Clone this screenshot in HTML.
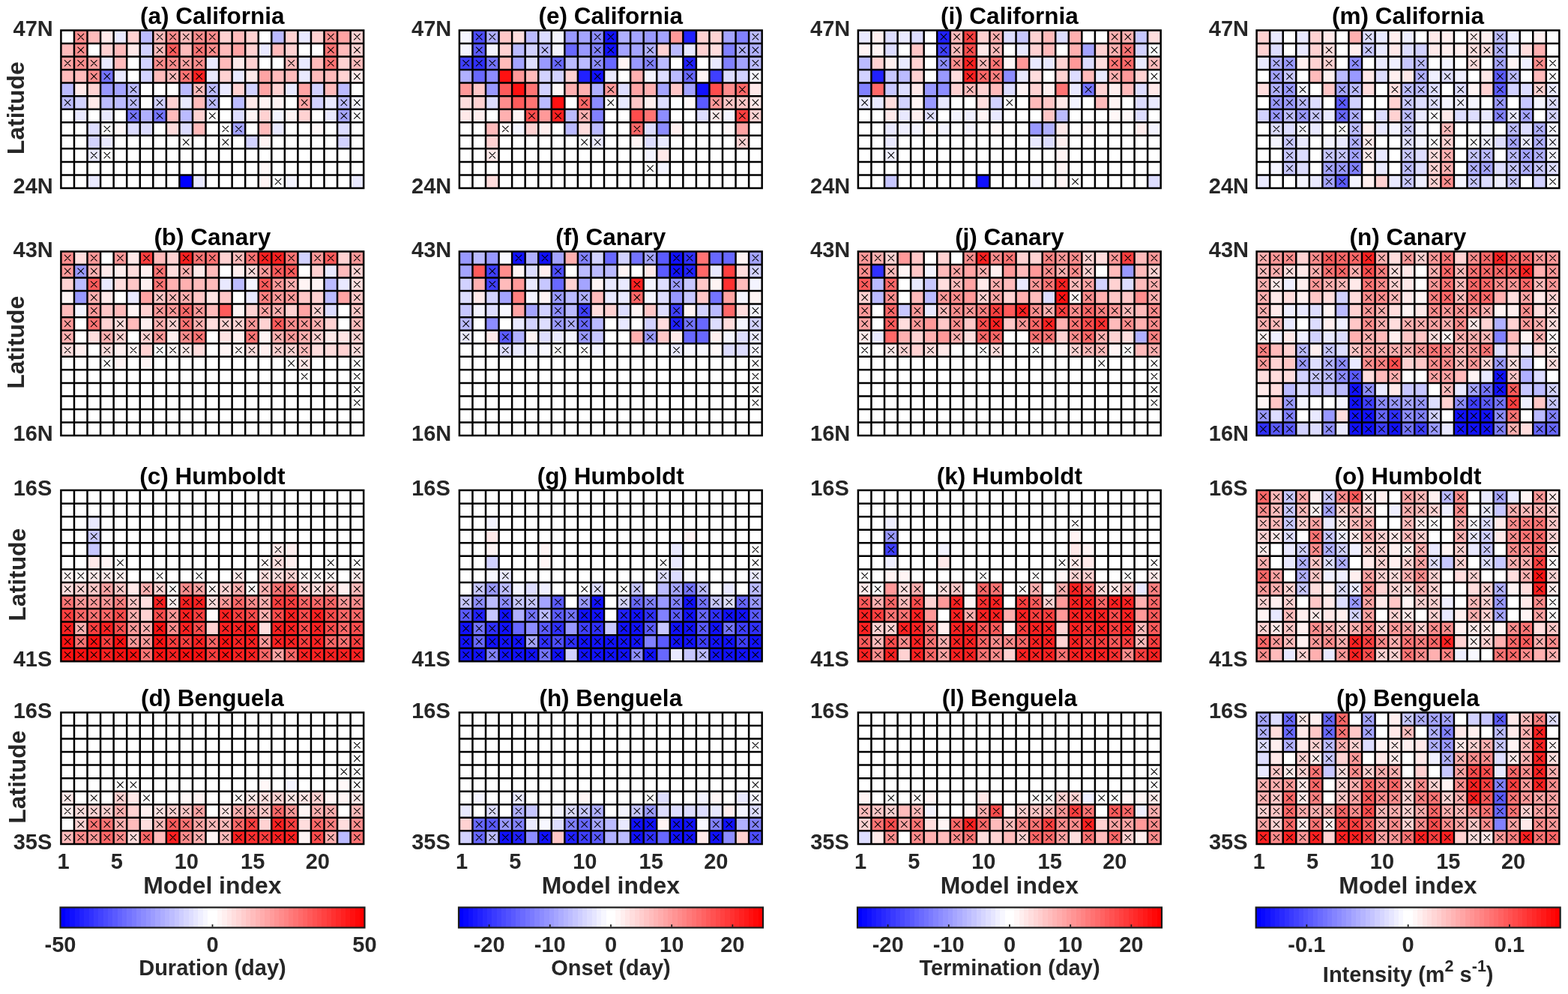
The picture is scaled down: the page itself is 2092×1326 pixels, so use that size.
<!DOCTYPE html><html><head><meta charset="utf-8"><title>Figure</title>
<style>html,body{margin:0;padding:0;background:#fff;}svg{display:block;}text{font-family:'Liberation Sans', Arial, Helvetica, sans-serif;font-weight:bold;}</style></head><body>
<svg width="2092" height="1326" viewBox="0 0 2092 1326">
<rect width="2092" height="1326" fill="#fff"/>
<path fill="#ff8d8d" d="M98.96 40.4h17.86v17.85h-17.86zM221.84 40.4h17.86v17.85h-17.86zM256.95 40.4h17.86v17.85h-17.86zM274.5 40.4h17.86v17.85h-17.86zM432.5 40.4h17.86v17.85h-17.86zM98.96 57.95h17.86v17.85h-17.86zM274.5 57.95h17.86v17.85h-17.86zM98.96 75.5h17.86v17.85h-17.86zM204.28 75.5h17.86v17.85h-17.86zM221.84 75.5h17.86v17.85h-17.86zM256.95 75.5h17.86v17.85h-17.86zM116.51 93.05h17.86v17.85h-17.86z"/><path fill="#ffbbbb" d="M116.51 40.4h17.86v17.85h-17.86zM204.28 40.4h17.86v17.85h-17.86zM239.4 40.4h17.86v17.85h-17.86zM309.62 40.4h17.86v17.85h-17.86zM81.4 57.95h17.86v17.85h-17.86zM151.62 57.95h17.86v17.85h-17.86zM204.28 57.95h17.86v17.85h-17.86zM239.4 57.95h17.86v17.85h-17.86zM292.06 57.95h17.86v17.85h-17.86zM362.28 57.95h17.86v17.85h-17.86zM450.05 57.95h17.86v17.85h-17.86zM151.62 75.5h17.86v17.85h-17.86zM292.06 75.5h17.86v17.85h-17.86zM379.84 75.5h17.86v17.85h-17.86zM414.95 75.5h17.86v17.85h-17.86zM467.61 75.5h17.86v17.85h-17.86zM81.4 93.05h17.86v17.85h-17.86zM98.96 93.05h17.86v17.85h-17.86zM204.28 93.05h17.86v17.85h-17.86zM221.84 93.05h17.86v17.85h-17.86zM362.28 93.05h17.86v17.85h-17.86zM379.84 93.05h17.86v17.85h-17.86zM414.95 93.05h17.86v17.85h-17.86zM432.5 93.05h17.86v17.85h-17.86zM256.95 110.6h17.86v17.85h-17.86zM432.5 110.6h17.86v17.85h-17.86zM256.95 128.15h17.86v17.85h-17.86zM221.84 145.7h17.86v17.85h-17.86zM256.95 163.25h17.86v17.85h-17.86zM344.73 163.25h17.86v17.85h-17.86z"/><path fill="#ffe9e9" d="M134.06 40.4h17.86v17.85h-17.86zM169.18 57.95h17.86v17.85h-17.86zM309.62 75.5h17.86v17.85h-17.86zM327.17 93.05h17.86v17.85h-17.86zM467.61 93.05h17.86v17.85h-17.86zM98.96 110.6h17.86v17.85h-17.86zM116.51 128.15h17.86v17.85h-17.86zM327.17 128.15h17.86v17.85h-17.86z"/><path fill="#e9e9ff" d="M151.62 40.4h17.86v17.85h-17.86zM397.39 40.4h17.86v17.85h-17.86zM344.73 57.95h17.86v17.85h-17.86zM134.06 75.5h17.86v17.85h-17.86zM274.5 75.5h17.86v17.85h-17.86zM397.39 75.5h17.86v17.85h-17.86zM151.62 93.05h17.86v17.85h-17.86zM274.5 93.05h17.86v17.85h-17.86zM309.62 93.05h17.86v17.85h-17.86zM397.39 93.05h17.86v17.85h-17.86zM292.06 110.6h17.86v17.85h-17.86zM379.84 110.6h17.86v17.85h-17.86zM239.4 128.15h17.86v17.85h-17.86zM432.5 128.15h17.86v17.85h-17.86zM98.96 145.7h17.86v17.85h-17.86zM134.06 145.7h17.86v17.85h-17.86zM432.5 145.7h17.86v17.85h-17.86zM362.28 163.25h17.86v17.85h-17.86zM134.06 180.8h17.86v17.85h-17.86zM116.51 198.35h17.86v17.85h-17.86zM116.51 233.45h17.86v17.85h-17.86zM256.95 233.45h17.86v17.85h-17.86zM467.61 233.45h17.86v17.85h-17.86z"/><path fill="#ffd2d2" d="M169.18 40.4h17.86v17.85h-17.86zM292.06 40.4h17.86v17.85h-17.86zM327.17 40.4h17.86v17.85h-17.86zM379.84 40.4h17.86v17.85h-17.86zM414.95 40.4h17.86v17.85h-17.86zM467.61 40.4h17.86v17.85h-17.86zM134.06 57.95h17.86v17.85h-17.86zM327.17 57.95h17.86v17.85h-17.86zM379.84 57.95h17.86v17.85h-17.86zM467.61 57.95h17.86v17.85h-17.86zM327.17 75.5h17.86v17.85h-17.86zM450.05 75.5h17.86v17.85h-17.86zM292.06 93.05h17.86v17.85h-17.86zM450.05 93.05h17.86v17.85h-17.86zM116.51 110.6h17.86v17.85h-17.86zM309.62 110.6h17.86v17.85h-17.86zM362.28 110.6h17.86v17.85h-17.86zM221.84 128.15h17.86v17.85h-17.86zM256.95 145.7h17.86v17.85h-17.86zM344.73 145.7h17.86v17.85h-17.86zM397.39 145.7h17.86v17.85h-17.86z"/><path fill="#bbbbff" d="M186.73 40.4h17.86v17.85h-17.86zM362.28 40.4h17.86v17.85h-17.86zM81.4 110.6h17.86v17.85h-17.86zM169.18 110.6h17.86v17.85h-17.86zM239.4 110.6h17.86v17.85h-17.86zM274.5 110.6h17.86v17.85h-17.86zM450.05 110.6h17.86v17.85h-17.86zM81.4 128.15h17.86v17.85h-17.86zM134.06 128.15h17.86v17.85h-17.86zM151.62 128.15h17.86v17.85h-17.86zM169.18 128.15h17.86v17.85h-17.86zM274.5 128.15h17.86v17.85h-17.86zM309.62 128.15h17.86v17.85h-17.86zM450.05 128.15h17.86v17.85h-17.86zM239.4 145.7h17.86v17.85h-17.86z"/><path fill="#ffa4a4" d="M450.05 40.4h17.86v17.85h-17.86zM309.62 57.95h17.86v17.85h-17.86zM81.4 75.5h17.86v17.85h-17.86zM116.51 75.5h17.86v17.85h-17.86zM239.4 75.5h17.86v17.85h-17.86zM344.73 93.05h17.86v17.85h-17.86zM344.73 110.6h17.86v17.85h-17.86zM397.39 110.6h17.86v17.85h-17.86zM397.39 128.15h17.86v17.85h-17.86z"/><path fill="#d2d2ff" d="M186.73 57.95h17.86v17.85h-17.86zM186.73 75.5h17.86v17.85h-17.86zM186.73 93.05h17.86v17.85h-17.86zM327.17 110.6h17.86v17.85h-17.86zM414.95 110.6h17.86v17.85h-17.86zM98.96 128.15h17.86v17.85h-17.86zM204.28 128.15h17.86v17.85h-17.86zM414.95 128.15h17.86v17.85h-17.86zM116.51 180.8h17.86v17.85h-17.86zM327.17 180.8h17.86v17.85h-17.86zM450.05 180.8h17.86v17.85h-17.86z"/><path fill="#ff5b5b" d="M221.84 57.95h17.86v17.85h-17.86z"/><path fill="#ff7474" d="M256.95 57.95h17.86v17.85h-17.86zM432.5 57.95h17.86v17.85h-17.86zM432.5 75.5h17.86v17.85h-17.86zM239.4 93.05h17.86v17.85h-17.86z"/><path fill="#7474ff" d="M134.06 93.05h17.86v17.85h-17.86zM169.18 145.7h17.86v17.85h-17.86zM204.28 145.7h17.86v17.85h-17.86z"/><path fill="#ff2121" d="M256.95 93.05h17.86v17.85h-17.86z"/><path fill="#9999ff" d="M134.06 110.6h17.86v17.85h-17.86z"/><path fill="#a4a4ff" d="M151.62 110.6h17.86v17.85h-17.86zM450.05 145.7h17.86v17.85h-17.86zM309.62 163.25h17.86v17.85h-17.86z"/><path fill="#fff4f4" d="M344.73 128.15h17.86v17.85h-17.86zM362.28 128.15h17.86v17.85h-17.86zM327.17 145.7h17.86v17.85h-17.86zM379.84 145.7h17.86v17.85h-17.86zM344.73 180.8h17.86v17.85h-17.86zM344.73 233.45h17.86v17.85h-17.86z"/><path fill="#f4f4ff" d="M467.61 128.15h17.86v17.85h-17.86zM362.28 145.7h17.86v17.85h-17.86zM379.84 233.45h17.86v17.85h-17.86z"/><path fill="#b0b0ff" d="M186.73 145.7h17.86v17.85h-17.86z"/><path fill="#ddddff" d="M309.62 145.7h17.86v17.85h-17.86zM116.51 163.25h17.86v17.85h-17.86zM169.18 163.25h17.86v17.85h-17.86zM186.73 163.25h17.86v17.85h-17.86zM239.4 163.25h17.86v17.85h-17.86zM450.05 163.25h17.86v17.85h-17.86z"/><path fill="#fff8f8" d="M151.62 163.25h17.86v17.85h-17.86zM414.95 163.25h17.86v17.85h-17.86zM344.73 215.9h17.86v17.85h-17.86z"/><path fill="#ffdddd" d="M221.84 163.25h17.86v17.85h-17.86z"/><path fill="#0000ff" d="M239.4 233.45h17.86v17.85h-17.86z"/>
<path d="M103.53 44.97L111.93 53.38M103.53 53.38L111.93 44.97M208.86 44.97L217.26 53.38M208.86 53.38L217.26 44.97M226.42 44.97L234.82 53.38M226.42 53.38L234.82 44.97M243.97 44.97L252.37 53.38M243.97 53.38L252.37 44.97M261.53 44.97L269.93 53.38M261.53 53.38L269.93 44.97M279.08 44.97L287.48 53.38M279.08 53.38L287.48 44.97M437.08 44.97L445.48 53.38M437.08 53.38L445.48 44.97M472.19 44.97L480.59 53.38M472.19 53.38L480.59 44.97M103.53 62.53L111.93 70.93M103.53 70.93L111.93 62.53M208.86 62.53L217.26 70.93M208.86 70.93L217.26 62.53M226.42 62.53L234.82 70.93M226.42 70.93L234.82 62.53M261.53 62.53L269.93 70.93M261.53 70.93L269.93 62.53M279.08 62.53L287.48 70.93M279.08 70.93L287.48 62.53M437.08 62.53L445.48 70.93M437.08 70.93L445.48 62.53M472.19 62.53L480.59 70.93M472.19 70.93L480.59 62.53M85.98 80.08L94.38 88.48M85.98 88.48L94.38 80.08M103.53 80.08L111.93 88.48M103.53 88.48L111.93 80.08M121.09 80.08L129.49 88.48M121.09 88.48L129.49 80.08M208.86 80.08L217.26 88.48M208.86 88.48L217.26 80.08M226.42 80.08L234.82 88.48M226.42 88.48L234.82 80.08M243.97 80.08L252.37 88.48M243.97 88.48L252.37 80.08M261.53 80.08L269.93 88.48M261.53 88.48L269.93 80.08M384.41 80.08L392.81 88.48M384.41 88.48L392.81 80.08M437.08 80.08L445.48 88.48M437.08 88.48L445.48 80.08M472.19 80.08L480.59 88.48M472.19 88.48L480.59 80.08M121.09 97.63L129.49 106.03M121.09 106.03L129.49 97.63M138.64 97.63L147.04 106.03M138.64 106.03L147.04 97.63M226.42 97.63L234.82 106.03M226.42 106.03L234.82 97.63M243.97 97.63L252.37 106.03M243.97 106.03L252.37 97.63M261.53 97.63L269.93 106.03M261.53 106.03L269.93 97.63M472.19 97.63L480.59 106.03M472.19 106.03L480.59 97.63M173.75 115.17L182.15 123.58M173.75 123.58L182.15 115.17M261.53 115.17L269.93 123.58M261.53 123.58L269.93 115.17M279.08 115.17L287.48 123.58M279.08 123.58L287.48 115.17M85.98 132.73L94.38 141.12M85.98 141.12L94.38 132.73M173.75 132.73L182.15 141.12M173.75 141.12L182.15 132.73M208.86 132.73L217.26 141.12M208.86 141.12L217.26 132.73M279.08 132.73L287.48 141.12M279.08 141.12L287.48 132.73M401.97 132.73L410.37 141.12M401.97 141.12L410.37 132.73M454.63 132.73L463.03 141.12M454.63 141.12L463.03 132.73M472.19 132.73L480.59 141.12M472.19 141.12L480.59 132.73M173.75 150.28L182.15 158.68M173.75 158.68L182.15 150.28M208.86 150.28L217.26 158.68M208.86 158.68L217.26 150.28M279.08 150.28L287.48 158.68M279.08 158.68L287.48 150.28M454.63 150.28L463.03 158.68M454.63 158.68L463.03 150.28M472.19 150.28L480.59 158.68M472.19 158.68L480.59 150.28M138.64 167.83L147.04 176.22M138.64 176.22L147.04 167.83M296.64 167.83L305.04 176.22M296.64 176.22L305.04 167.83M314.19 167.83L322.59 176.22M314.19 176.22L322.59 167.83M243.97 185.38L252.37 193.78M243.97 193.78L252.37 185.38M296.64 185.38L305.04 193.78M296.64 193.78L305.04 185.38M121.09 202.93L129.49 211.33M121.09 211.33L129.49 202.93M138.64 202.93L147.04 211.33M138.64 211.33L147.04 202.93M366.86 238.03L375.26 246.43M366.86 246.43L375.26 238.03" stroke="#000" stroke-width="1.05" fill="none"/>
<path d="M81.4 39.15V252.25M98.96 39.15V252.25M116.51 39.15V252.25M134.06 39.15V252.25M151.62 39.15V252.25M169.18 39.15V252.25M186.73 39.15V252.25M204.28 39.15V252.25M221.84 39.15V252.25M239.4 39.15V252.25M256.95 39.15V252.25M274.5 39.15V252.25M292.06 39.15V252.25M309.62 39.15V252.25M327.17 39.15V252.25M344.73 39.15V252.25M362.28 39.15V252.25M379.84 39.15V252.25M397.39 39.15V252.25M414.95 39.15V252.25M432.5 39.15V252.25M450.05 39.15V252.25M467.61 39.15V252.25M485.16 39.15V252.25M80.15 40.4H486.41M80.15 57.95H486.41M80.15 75.5H486.41M80.15 93.05H486.41M80.15 110.6H486.41M80.15 128.15H486.41M80.15 145.7H486.41M80.15 163.25H486.41M80.15 180.8H486.41M80.15 198.35H486.41M80.15 215.9H486.41M80.15 233.45H486.41M80.15 251H486.41" stroke="#000" stroke-width="2.5" fill="none"/>
<text x="283.28" y="31.9" text-anchor="middle" font-size="31.5" fill="#000">(a) California</text>
<text x="70.8" y="47.6" text-anchor="end" font-size="29" fill="#262626">47N</text>
<text x="70.8" y="258.2" text-anchor="end" font-size="29" fill="#262626">24N</text>
<text x="0" y="0" transform="translate(32.3 144.2) rotate(-90)" text-anchor="middle" font-size="31.9" fill="#262626">Latitude</text>
<path fill="#ff8d8d" d="M81.4 335.4h17.86v17.85h-17.86zM379.84 423.15h17.86v17.85h-17.86zM239.4 440.7h17.86v17.85h-17.86z"/><path fill="#ffdddd" d="M98.96 335.4h17.86v17.85h-17.86zM169.18 352.95h17.86v17.85h-17.86zM221.84 352.95h17.86v17.85h-17.86zM327.17 352.95h17.86v17.85h-17.86zM151.62 370.5h17.86v17.85h-17.86zM467.61 370.5h17.86v17.85h-17.86zM151.62 423.15h17.86v17.85h-17.86zM274.5 423.15h17.86v17.85h-17.86zM116.51 440.7h17.86v17.85h-17.86zM81.4 458.25h17.86v17.85h-17.86zM134.06 458.25h17.86v17.85h-17.86zM256.95 458.25h17.86v17.85h-17.86zM327.17 458.25h17.86v17.85h-17.86zM414.95 458.25h17.86v17.85h-17.86zM432.5 458.25h17.86v17.85h-17.86zM467.61 458.25h17.86v17.85h-17.86z"/><path fill="#ff9999" d="M116.51 335.4h17.86v17.85h-17.86zM151.62 335.4h17.86v17.85h-17.86zM414.95 335.4h17.86v17.85h-17.86zM467.61 335.4h17.86v17.85h-17.86zM81.4 352.95h17.86v17.85h-17.86zM344.73 352.95h17.86v17.85h-17.86zM362.28 370.5h17.86v17.85h-17.86zM362.28 388.05h17.86v17.85h-17.86zM379.84 388.05h17.86v17.85h-17.86zM116.51 405.6h17.86v17.85h-17.86zM204.28 405.6h17.86v17.85h-17.86zM221.84 405.6h17.86v17.85h-17.86zM256.95 405.6h17.86v17.85h-17.86zM81.4 423.15h17.86v17.85h-17.86zM327.17 423.15h17.86v17.85h-17.86zM397.39 423.15h17.86v17.85h-17.86zM204.28 440.7h17.86v17.85h-17.86zM379.84 440.7h17.86v17.85h-17.86z"/><path fill="#ffe9e9" d="M169.18 335.4h17.86v17.85h-17.86zM134.06 352.95h17.86v17.85h-17.86zM256.95 352.95h17.86v17.85h-17.86zM134.06 388.05h17.86v17.85h-17.86zM432.5 440.7h17.86v17.85h-17.86zM239.4 458.25h17.86v17.85h-17.86z"/><path fill="#ff3f3f" d="M186.73 335.4h17.86v17.85h-17.86z"/><path fill="#ffbbbb" d="M204.28 335.4h17.86v17.85h-17.86zM309.62 335.4h17.86v17.85h-17.86zM274.5 352.95h17.86v17.85h-17.86zM450.05 352.95h17.86v17.85h-17.86zM256.95 370.5h17.86v17.85h-17.86zM274.5 370.5h17.86v17.85h-17.86zM221.84 388.05h17.86v17.85h-17.86zM81.4 405.6h17.86v17.85h-17.86zM151.62 405.6h17.86v17.85h-17.86zM274.5 405.6h17.86v17.85h-17.86zM169.18 423.15h17.86v17.85h-17.86zM467.61 423.15h17.86v17.85h-17.86zM397.39 458.25h17.86v17.85h-17.86z"/><path fill="#ffd2d2" d="M221.84 335.4h17.86v17.85h-17.86zM292.06 335.4h17.86v17.85h-17.86zM450.05 335.4h17.86v17.85h-17.86zM414.95 352.95h17.86v17.85h-17.86zM467.61 352.95h17.86v17.85h-17.86zM81.4 370.5h17.86v17.85h-17.86zM414.95 388.05h17.86v17.85h-17.86zM186.73 405.6h17.86v17.85h-17.86zM327.17 405.6h17.86v17.85h-17.86zM379.84 405.6h17.86v17.85h-17.86zM414.95 405.6h17.86v17.85h-17.86zM134.06 423.15h17.86v17.85h-17.86zM221.84 423.15h17.86v17.85h-17.86zM292.06 423.15h17.86v17.85h-17.86zM309.62 423.15h17.86v17.85h-17.86zM344.73 423.15h17.86v17.85h-17.86zM432.5 423.15h17.86v17.85h-17.86zM151.62 440.7h17.86v17.85h-17.86zM186.73 440.7h17.86v17.85h-17.86zM414.95 440.7h17.86v17.85h-17.86zM467.61 440.7h17.86v17.85h-17.86zM186.73 458.25h17.86v17.85h-17.86zM362.28 458.25h17.86v17.85h-17.86zM379.84 458.25h17.86v17.85h-17.86zM450.05 458.25h17.86v17.85h-17.86z"/><path fill="#ff2121" d="M239.4 335.4h17.86v17.85h-17.86zM344.73 335.4h17.86v17.85h-17.86zM362.28 335.4h17.86v17.85h-17.86z"/><path fill="#ff7474" d="M256.95 335.4h17.86v17.85h-17.86zM274.5 335.4h17.86v17.85h-17.86zM327.17 335.4h17.86v17.85h-17.86zM379.84 335.4h17.86v17.85h-17.86zM204.28 352.95h17.86v17.85h-17.86zM204.28 370.5h17.86v17.85h-17.86zM116.51 423.15h17.86v17.85h-17.86zM239.4 423.15h17.86v17.85h-17.86zM256.95 440.7h17.86v17.85h-17.86zM327.17 440.7h17.86v17.85h-17.86z"/><path fill="#d2d2ff" d="M397.39 335.4h17.86v17.85h-17.86z"/><path fill="#ff5b5b" d="M432.5 335.4h17.86v17.85h-17.86zM362.28 352.95h17.86v17.85h-17.86zM379.84 352.95h17.86v17.85h-17.86zM116.51 370.5h17.86v17.85h-17.86zM344.73 370.5h17.86v17.85h-17.86zM292.06 405.6h17.86v17.85h-17.86zM362.28 423.15h17.86v17.85h-17.86z"/><path fill="#9999ff" d="M98.96 352.95h17.86v17.85h-17.86zM98.96 388.05h17.86v17.85h-17.86z"/><path fill="#ffb0b0" d="M116.51 352.95h17.86v17.85h-17.86zM239.4 352.95h17.86v17.85h-17.86zM221.84 370.5h17.86v17.85h-17.86zM239.4 370.5h17.86v17.85h-17.86zM379.84 370.5h17.86v17.85h-17.86zM116.51 388.05h17.86v17.85h-17.86zM239.4 388.05h17.86v17.85h-17.86zM362.28 405.6h17.86v17.85h-17.86zM204.28 423.15h17.86v17.85h-17.86zM256.95 423.15h17.86v17.85h-17.86zM414.95 423.15h17.86v17.85h-17.86zM81.4 440.7h17.86v17.85h-17.86zM134.06 440.7h17.86v17.85h-17.86zM362.28 440.7h17.86v17.85h-17.86zM397.39 440.7h17.86v17.85h-17.86z"/><path fill="#ffefef" d="M151.62 352.95h17.86v17.85h-17.86zM186.73 352.95h17.86v17.85h-17.86zM309.62 352.95h17.86v17.85h-17.86zM186.73 370.5h17.86v17.85h-17.86zM186.73 423.15h17.86v17.85h-17.86zM221.84 440.7h17.86v17.85h-17.86zM309.62 440.7h17.86v17.85h-17.86zM98.96 458.25h17.86v17.85h-17.86zM151.62 458.25h17.86v17.85h-17.86zM344.73 458.25h17.86v17.85h-17.86z"/><path fill="#e9e9ff" d="M432.5 352.95h17.86v17.85h-17.86zM134.06 370.5h17.86v17.85h-17.86zM292.06 370.5h17.86v17.85h-17.86zM450.05 370.5h17.86v17.85h-17.86zM169.18 388.05h17.86v17.85h-17.86zM327.17 388.05h17.86v17.85h-17.86z"/><path fill="#bbbbff" d="M98.96 370.5h17.86v17.85h-17.86zM309.62 370.5h17.86v17.85h-17.86zM432.5 370.5h17.86v17.85h-17.86zM432.5 388.05h17.86v17.85h-17.86z"/><path fill="#ffc7c7" d="M169.18 370.5h17.86v17.85h-17.86zM204.28 388.05h17.86v17.85h-17.86zM256.95 388.05h17.86v17.85h-17.86zM292.06 388.05h17.86v17.85h-17.86zM397.39 388.05h17.86v17.85h-17.86zM467.61 388.05h17.86v17.85h-17.86zM134.06 405.6h17.86v17.85h-17.86zM467.61 405.6h17.86v17.85h-17.86z"/><path fill="#f4f4ff" d="M327.17 370.5h17.86v17.85h-17.86zM98.96 405.6h17.86v17.85h-17.86z"/><path fill="#fff4f4" d="M397.39 370.5h17.86v17.85h-17.86zM414.95 370.5h17.86v17.85h-17.86zM81.4 388.05h17.86v17.85h-17.86zM169.18 405.6h17.86v17.85h-17.86zM309.62 405.6h17.86v17.85h-17.86zM344.73 440.7h17.86v17.85h-17.86zM169.18 458.25h17.86v17.85h-17.86zM221.84 458.25h17.86v17.85h-17.86zM292.06 458.25h17.86v17.85h-17.86zM309.62 458.25h17.86v17.85h-17.86zM151.62 475.8h17.86v17.85h-17.86zM186.73 475.8h17.86v17.85h-17.86z"/><path fill="#ffa4a4" d="M186.73 388.05h17.86v17.85h-17.86zM450.05 388.05h17.86v17.85h-17.86zM344.73 405.6h17.86v17.85h-17.86zM397.39 405.6h17.86v17.85h-17.86z"/><path fill="#ffe4e4" d="M274.5 388.05h17.86v17.85h-17.86zM292.06 440.7h17.86v17.85h-17.86zM450.05 440.7h17.86v17.85h-17.86zM397.39 475.8h17.86v17.85h-17.86z"/><path fill="#ff8181" d="M344.73 388.05h17.86v17.85h-17.86z"/><path fill="#ff6868" d="M239.4 405.6h17.86v17.85h-17.86z"/><path fill="#ddddff" d="M432.5 405.6h17.86v17.85h-17.86z"/>
<path d="M85.98 339.97L94.38 348.37M85.98 348.37L94.38 339.97M121.09 339.97L129.49 348.37M121.09 348.37L129.49 339.97M156.2 339.97L164.6 348.37M156.2 348.37L164.6 339.97M191.31 339.97L199.71 348.37M191.31 348.37L199.71 339.97M243.97 339.97L252.37 348.37M243.97 348.37L252.37 339.97M261.53 339.97L269.93 348.37M261.53 348.37L269.93 339.97M279.08 339.97L287.48 348.37M279.08 348.37L287.48 339.97M314.19 339.97L322.59 348.37M314.19 348.37L322.59 339.97M331.75 339.97L340.15 348.37M331.75 348.37L340.15 339.97M349.3 339.97L357.7 348.37M349.3 348.37L357.7 339.97M366.86 339.97L375.26 348.37M366.86 348.37L375.26 339.97M384.41 339.97L392.81 348.37M384.41 348.37L392.81 339.97M419.52 339.97L427.92 348.37M419.52 348.37L427.92 339.97M437.08 339.97L445.48 348.37M437.08 348.37L445.48 339.97M472.19 339.97L480.59 348.37M472.19 348.37L480.59 339.97M85.98 357.52L94.38 365.92M85.98 365.92L94.38 357.52M103.53 357.52L111.93 365.92M103.53 365.92L111.93 357.52M121.09 357.52L129.49 365.92M121.09 365.92L129.49 357.52M208.86 357.52L217.26 365.92M208.86 365.92L217.26 357.52M243.97 357.52L252.37 365.92M243.97 365.92L252.37 357.52M331.75 357.52L340.15 365.92M331.75 365.92L340.15 357.52M349.3 357.52L357.7 365.92M349.3 365.92L357.7 357.52M366.86 357.52L375.26 365.92M366.86 365.92L375.26 357.52M384.41 357.52L392.81 365.92M384.41 365.92L392.81 357.52M472.19 357.52L480.59 365.92M472.19 365.92L480.59 357.52M121.09 375.07L129.49 383.47M121.09 383.47L129.49 375.07M208.86 375.07L217.26 383.47M208.86 383.47L217.26 375.07M349.3 375.07L357.7 383.47M349.3 383.47L357.7 375.07M366.86 375.07L375.26 383.47M366.86 383.47L375.26 375.07M384.41 375.07L392.81 383.47M384.41 383.47L392.81 375.07M472.19 375.07L480.59 383.47M472.19 383.47L480.59 375.07M121.09 392.62L129.49 401.02M121.09 401.02L129.49 392.62M208.86 392.62L217.26 401.02M208.86 401.02L217.26 392.62M226.42 392.62L234.82 401.02M226.42 401.02L234.82 392.62M243.97 392.62L252.37 401.02M243.97 401.02L252.37 392.62M349.3 392.62L357.7 401.02M349.3 401.02L357.7 392.62M366.86 392.62L375.26 401.02M366.86 401.02L375.26 392.62M384.41 392.62L392.81 401.02M384.41 401.02L392.81 392.62M472.19 392.62L480.59 401.02M472.19 401.02L480.59 392.62M121.09 410.17L129.49 418.57M121.09 418.57L129.49 410.17M208.86 410.17L217.26 418.57M208.86 418.57L217.26 410.17M226.42 410.17L234.82 418.57M226.42 418.57L234.82 410.17M243.97 410.17L252.37 418.57M243.97 418.57L252.37 410.17M261.53 410.17L269.93 418.57M261.53 418.57L269.93 410.17M349.3 410.17L357.7 418.57M349.3 418.57L357.7 410.17M366.86 410.17L375.26 418.57M366.86 418.57L375.26 410.17M419.52 410.17L427.92 418.57M419.52 418.57L427.92 410.17M472.19 410.17L480.59 418.57M472.19 418.57L480.59 410.17M85.98 427.72L94.38 436.12M85.98 436.12L94.38 427.72M121.09 427.72L129.49 436.12M121.09 436.12L129.49 427.72M156.2 427.72L164.6 436.12M156.2 436.12L164.6 427.72M208.86 427.72L217.26 436.12M208.86 436.12L217.26 427.72M226.42 427.72L234.82 436.12M226.42 436.12L234.82 427.72M243.97 427.72L252.37 436.12M243.97 436.12L252.37 427.72M261.53 427.72L269.93 436.12M261.53 436.12L269.93 427.72M296.64 427.72L305.04 436.12M296.64 436.12L305.04 427.72M314.19 427.72L322.59 436.12M314.19 436.12L322.59 427.72M331.75 427.72L340.15 436.12M331.75 436.12L340.15 427.72M366.86 427.72L375.26 436.12M366.86 436.12L375.26 427.72M384.41 427.72L392.81 436.12M384.41 436.12L392.81 427.72M401.97 427.72L410.37 436.12M401.97 436.12L410.37 427.72M419.52 427.72L427.92 436.12M419.52 436.12L427.92 427.72M472.19 427.72L480.59 436.12M472.19 436.12L480.59 427.72M85.98 445.27L94.38 453.67M85.98 453.67L94.38 445.27M138.64 445.27L147.04 453.67M138.64 453.67L147.04 445.27M156.2 445.27L164.6 453.67M156.2 453.67L164.6 445.27M191.31 445.27L199.71 453.67M191.31 453.67L199.71 445.27M208.86 445.27L217.26 453.67M208.86 453.67L217.26 445.27M243.97 445.27L252.37 453.67M243.97 453.67L252.37 445.27M261.53 445.27L269.93 453.67M261.53 453.67L269.93 445.27M331.75 445.27L340.15 453.67M331.75 453.67L340.15 445.27M366.86 445.27L375.26 453.67M366.86 453.67L375.26 445.27M384.41 445.27L392.81 453.67M384.41 453.67L392.81 445.27M401.97 445.27L410.37 453.67M401.97 453.67L410.37 445.27M419.52 445.27L427.92 453.67M419.52 453.67L427.92 445.27M472.19 445.27L480.59 453.67M472.19 453.67L480.59 445.27M85.98 462.82L94.38 471.22M85.98 471.22L94.38 462.82M138.64 462.82L147.04 471.22M138.64 471.22L147.04 462.82M173.75 462.82L182.15 471.22M173.75 471.22L182.15 462.82M208.86 462.82L217.26 471.22M208.86 471.22L217.26 462.82M226.42 462.82L234.82 471.22M226.42 471.22L234.82 462.82M243.97 462.82L252.37 471.22M243.97 471.22L252.37 462.82M314.19 462.82L322.59 471.22M314.19 471.22L322.59 462.82M331.75 462.82L340.15 471.22M331.75 471.22L340.15 462.82M366.86 462.82L375.26 471.22M366.86 471.22L375.26 462.82M384.41 462.82L392.81 471.22M384.41 471.22L392.81 462.82M401.97 462.82L410.37 471.22M401.97 471.22L410.37 462.82M472.19 462.82L480.59 471.22M472.19 471.22L480.59 462.82M138.64 480.37L147.04 488.77M138.64 488.77L147.04 480.37M384.41 480.37L392.81 488.77M384.41 488.77L392.81 480.37M401.97 480.37L410.37 488.77M401.97 488.77L410.37 480.37M472.19 480.37L480.59 488.77M472.19 488.77L480.59 480.37M401.97 497.93L410.37 506.32M401.97 506.32L410.37 497.93M472.19 497.93L480.59 506.32M472.19 506.32L480.59 497.93M472.19 515.47L480.59 523.88M472.19 523.88L480.59 515.47M472.19 533.02L480.59 541.43M472.19 541.43L480.59 533.02" stroke="#000" stroke-width="1.05" fill="none"/>
<path d="M81.4 334.15V582.35M98.96 334.15V582.35M116.51 334.15V582.35M134.06 334.15V582.35M151.62 334.15V582.35M169.18 334.15V582.35M186.73 334.15V582.35M204.28 334.15V582.35M221.84 334.15V582.35M239.4 334.15V582.35M256.95 334.15V582.35M274.5 334.15V582.35M292.06 334.15V582.35M309.62 334.15V582.35M327.17 334.15V582.35M344.73 334.15V582.35M362.28 334.15V582.35M379.84 334.15V582.35M397.39 334.15V582.35M414.95 334.15V582.35M432.5 334.15V582.35M450.05 334.15V582.35M467.61 334.15V582.35M485.16 334.15V582.35M80.15 335.4H486.41M80.15 352.95H486.41M80.15 370.5H486.41M80.15 388.05H486.41M80.15 405.6H486.41M80.15 423.15H486.41M80.15 440.7H486.41M80.15 458.25H486.41M80.15 475.8H486.41M80.15 493.35H486.41M80.15 510.9H486.41M80.15 528.45H486.41M80.15 546H486.41M80.15 563.55H486.41M80.15 581.1H486.41" stroke="#000" stroke-width="2.5" fill="none"/>
<text x="283.28" y="326.9" text-anchor="middle" font-size="31.5" fill="#000">(b) Canary</text>
<text x="70.8" y="342.6" text-anchor="end" font-size="29" fill="#262626">43N</text>
<text x="70.8" y="588.3" text-anchor="end" font-size="29" fill="#262626">16N</text>
<text x="0" y="0" transform="translate(32.3 456.75) rotate(-90)" text-anchor="middle" font-size="31.9" fill="#262626">Latitude</text>
<path fill="#e9e9ff" d="M116.51 689.2h17.86v17.85h-17.86z"/><path fill="#c7c7ff" d="M116.51 706.75h17.86v17.85h-17.86zM116.51 724.3h17.86v17.85h-17.86z"/><path fill="#ffe9e9" d="M362.28 724.3h17.86v17.85h-17.86zM116.51 741.85h17.86v17.85h-17.86zM116.51 759.4h17.86v17.85h-17.86zM134.06 759.4h17.86v17.85h-17.86zM309.62 759.4h17.86v17.85h-17.86zM467.61 759.4h17.86v17.85h-17.86zM169.18 776.95h17.86v17.85h-17.86z"/><path fill="#ffefef" d="M379.84 724.3h17.86v17.85h-17.86zM379.84 741.85h17.86v17.85h-17.86zM151.62 759.4h17.86v17.85h-17.86zM450.05 776.95h17.86v17.85h-17.86zM221.84 794.5h17.86v17.85h-17.86z"/><path fill="#fff4f4" d="M134.06 741.85h17.86v17.85h-17.86zM81.4 759.4h17.86v17.85h-17.86zM274.5 776.95h17.86v17.85h-17.86z"/><path fill="#fff8f8" d="M344.73 741.85h17.86v17.85h-17.86zM98.96 759.4h17.86v17.85h-17.86zM397.39 759.4h17.86v17.85h-17.86zM414.95 759.4h17.86v17.85h-17.86zM432.5 759.4h17.86v17.85h-17.86zM327.17 776.95h17.86v17.85h-17.86z"/><path fill="#ffdddd" d="M362.28 741.85h17.86v17.85h-17.86zM344.73 759.4h17.86v17.85h-17.86zM362.28 759.4h17.86v17.85h-17.86zM81.4 776.95h17.86v17.85h-17.86zM414.95 776.95h17.86v17.85h-17.86zM186.73 794.5h17.86v17.85h-17.86zM274.5 794.5h17.86v17.85h-17.86zM344.73 829.6h17.86v17.85h-17.86z"/><path fill="#ffd2d2" d="M379.84 759.4h17.86v17.85h-17.86zM98.96 776.95h17.86v17.85h-17.86zM204.28 776.95h17.86v17.85h-17.86zM292.06 776.95h17.86v17.85h-17.86zM397.39 776.95h17.86v17.85h-17.86zM186.73 812.05h17.86v17.85h-17.86zM274.5 829.6h17.86v17.85h-17.86z"/><path fill="#ffc7c7" d="M116.51 776.95h17.86v17.85h-17.86zM151.62 776.95h17.86v17.85h-17.86zM432.5 776.95h17.86v17.85h-17.86zM169.18 794.5h17.86v17.85h-17.86z"/><path fill="#ffa4a4" d="M134.06 776.95h17.86v17.85h-17.86zM256.95 776.95h17.86v17.85h-17.86zM362.28 864.7h17.86v17.85h-17.86z"/><path fill="#ffb0b0" d="M186.73 776.95h17.86v17.85h-17.86zM309.62 776.95h17.86v17.85h-17.86zM344.73 776.95h17.86v17.85h-17.86zM344.73 794.5h17.86v17.85h-17.86zM169.18 812.05h17.86v17.85h-17.86zM344.73 812.05h17.86v17.85h-17.86zM98.96 829.6h17.86v17.85h-17.86zM186.73 829.6h17.86v17.85h-17.86z"/><path fill="#ff8d8d" d="M239.4 776.95h17.86v17.85h-17.86zM327.17 794.5h17.86v17.85h-17.86zM467.61 794.5h17.86v17.85h-17.86zM221.84 829.6h17.86v17.85h-17.86z"/><path fill="#ff7474" d="M362.28 776.95h17.86v17.85h-17.86zM379.84 776.95h17.86v17.85h-17.86zM81.4 794.5h17.86v17.85h-17.86zM116.51 812.05h17.86v17.85h-17.86zM98.96 847.15h17.86v17.85h-17.86zM450.05 847.15h17.86v17.85h-17.86zM186.73 864.7h17.86v17.85h-17.86z"/><path fill="#ffbbbb" d="M467.61 776.95h17.86v17.85h-17.86z"/><path fill="#ff9999" d="M98.96 794.5h17.86v17.85h-17.86zM116.51 794.5h17.86v17.85h-17.86zM134.06 794.5h17.86v17.85h-17.86zM292.06 794.5h17.86v17.85h-17.86zM450.05 794.5h17.86v17.85h-17.86zM221.84 812.05h17.86v17.85h-17.86zM169.18 829.6h17.86v17.85h-17.86zM169.18 847.15h17.86v17.85h-17.86zM186.73 847.15h17.86v17.85h-17.86zM344.73 847.15h17.86v17.85h-17.86z"/><path fill="#ff8181" d="M151.62 794.5h17.86v17.85h-17.86z"/><path fill="#ff2121" d="M204.28 794.5h17.86v17.85h-17.86zM239.4 794.5h17.86v17.85h-17.86zM256.95 794.5h17.86v17.85h-17.86zM239.4 812.05h17.86v17.85h-17.86zM292.06 812.05h17.86v17.85h-17.86zM379.84 812.05h17.86v17.85h-17.86zM414.95 812.05h17.86v17.85h-17.86zM81.4 829.6h17.86v17.85h-17.86zM134.06 829.6h17.86v17.85h-17.86zM239.4 829.6h17.86v17.85h-17.86zM292.06 829.6h17.86v17.85h-17.86zM309.62 829.6h17.86v17.85h-17.86zM327.17 829.6h17.86v17.85h-17.86zM362.28 829.6h17.86v17.85h-17.86zM379.84 829.6h17.86v17.85h-17.86zM414.95 829.6h17.86v17.85h-17.86zM256.95 847.15h17.86v17.85h-17.86zM309.62 847.15h17.86v17.85h-17.86zM327.17 847.15h17.86v17.85h-17.86zM362.28 847.15h17.86v17.85h-17.86zM379.84 847.15h17.86v17.85h-17.86zM414.95 847.15h17.86v17.85h-17.86zM134.06 864.7h17.86v17.85h-17.86zM221.84 864.7h17.86v17.85h-17.86zM309.62 864.7h17.86v17.85h-17.86zM327.17 864.7h17.86v17.85h-17.86zM397.39 864.7h17.86v17.85h-17.86zM414.95 864.7h17.86v17.85h-17.86zM432.5 864.7h17.86v17.85h-17.86zM450.05 864.7h17.86v17.85h-17.86zM467.61 864.7h17.86v17.85h-17.86z"/><path fill="#ff6868" d="M309.62 794.5h17.86v17.85h-17.86zM397.39 794.5h17.86v17.85h-17.86zM414.95 794.5h17.86v17.85h-17.86zM432.5 794.5h17.86v17.85h-17.86zM98.96 812.05h17.86v17.85h-17.86zM134.06 812.05h17.86v17.85h-17.86zM450.05 812.05h17.86v17.85h-17.86zM467.61 812.05h17.86v17.85h-17.86zM450.05 829.6h17.86v17.85h-17.86zM274.5 847.15h17.86v17.85h-17.86zM432.5 847.15h17.86v17.85h-17.86zM344.73 864.7h17.86v17.85h-17.86zM379.84 864.7h17.86v17.85h-17.86z"/><path fill="#ff3f3f" d="M362.28 794.5h17.86v17.85h-17.86zM379.84 794.5h17.86v17.85h-17.86zM81.4 812.05h17.86v17.85h-17.86zM256.95 812.05h17.86v17.85h-17.86zM309.62 812.05h17.86v17.85h-17.86zM116.51 829.6h17.86v17.85h-17.86zM134.06 847.15h17.86v17.85h-17.86zM221.84 847.15h17.86v17.85h-17.86zM239.4 847.15h17.86v17.85h-17.86zM397.39 847.15h17.86v17.85h-17.86zM467.61 847.15h17.86v17.85h-17.86zM274.5 864.7h17.86v17.85h-17.86z"/><path fill="#ff4d4d" d="M151.62 812.05h17.86v17.85h-17.86zM204.28 812.05h17.86v17.85h-17.86zM327.17 812.05h17.86v17.85h-17.86zM362.28 812.05h17.86v17.85h-17.86zM397.39 812.05h17.86v17.85h-17.86zM432.5 812.05h17.86v17.85h-17.86zM151.62 829.6h17.86v17.85h-17.86zM256.95 829.6h17.86v17.85h-17.86zM397.39 829.6h17.86v17.85h-17.86zM432.5 829.6h17.86v17.85h-17.86zM467.61 829.6h17.86v17.85h-17.86z"/><path fill="#fffbfb" d="M274.5 812.05h17.86v17.85h-17.86z"/><path fill="#ff1111" d="M204.28 829.6h17.86v17.85h-17.86zM81.4 847.15h17.86v17.85h-17.86zM116.51 847.15h17.86v17.85h-17.86zM151.62 847.15h17.86v17.85h-17.86zM204.28 847.15h17.86v17.85h-17.86zM292.06 847.15h17.86v17.85h-17.86zM81.4 864.7h17.86v17.85h-17.86zM98.96 864.7h17.86v17.85h-17.86zM116.51 864.7h17.86v17.85h-17.86zM151.62 864.7h17.86v17.85h-17.86zM169.18 864.7h17.86v17.85h-17.86zM204.28 864.7h17.86v17.85h-17.86zM239.4 864.7h17.86v17.85h-17.86zM256.95 864.7h17.86v17.85h-17.86zM292.06 864.7h17.86v17.85h-17.86z"/>
<path d="M121.09 711.32L129.49 719.73M121.09 719.73L129.49 711.32M366.86 728.88L375.26 737.28M366.86 737.28L375.26 728.88M156.2 746.42L164.6 754.83M156.2 754.83L164.6 746.42M349.3 746.42L357.7 754.83M349.3 754.83L357.7 746.42M366.86 746.42L375.26 754.83M366.86 754.83L375.26 746.42M437.08 746.42L445.48 754.83M437.08 754.83L445.48 746.42M472.19 746.42L480.59 754.83M472.19 754.83L480.59 746.42M85.98 763.98L94.38 772.38M85.98 772.38L94.38 763.98M103.53 763.98L111.93 772.38M103.53 772.38L111.93 763.98M121.09 763.98L129.49 772.38M121.09 772.38L129.49 763.98M138.64 763.98L147.04 772.38M138.64 772.38L147.04 763.98M156.2 763.98L164.6 772.38M156.2 772.38L164.6 763.98M208.86 763.98L217.26 772.38M208.86 772.38L217.26 763.98M261.53 763.98L269.93 772.38M261.53 772.38L269.93 763.98M314.19 763.98L322.59 772.38M314.19 772.38L322.59 763.98M349.3 763.98L357.7 772.38M349.3 772.38L357.7 763.98M366.86 763.98L375.26 772.38M366.86 772.38L375.26 763.98M384.41 763.98L392.81 772.38M384.41 772.38L392.81 763.98M401.97 763.98L410.37 772.38M401.97 772.38L410.37 763.98M419.52 763.98L427.92 772.38M419.52 772.38L427.92 763.98M437.08 763.98L445.48 772.38M437.08 772.38L445.48 763.98M472.19 763.98L480.59 772.38M472.19 772.38L480.59 763.98M85.98 781.52L94.38 789.93M85.98 789.93L94.38 781.52M103.53 781.52L111.93 789.93M103.53 789.93L111.93 781.52M121.09 781.52L129.49 789.93M121.09 789.93L129.49 781.52M138.64 781.52L147.04 789.93M138.64 789.93L147.04 781.52M156.2 781.52L164.6 789.93M156.2 789.93L164.6 781.52M191.31 781.52L199.71 789.93M191.31 789.93L199.71 781.52M208.86 781.52L217.26 789.93M208.86 789.93L217.26 781.52M226.42 781.52L234.82 789.93M226.42 789.93L234.82 781.52M243.97 781.52L252.37 789.93M243.97 789.93L252.37 781.52M261.53 781.52L269.93 789.93M261.53 789.93L269.93 781.52M279.08 781.52L287.48 789.93M279.08 789.93L287.48 781.52M296.64 781.52L305.04 789.93M296.64 789.93L305.04 781.52M314.19 781.52L322.59 789.93M314.19 789.93L322.59 781.52M331.75 781.52L340.15 789.93M331.75 789.93L340.15 781.52M349.3 781.52L357.7 789.93M349.3 789.93L357.7 781.52M366.86 781.52L375.26 789.93M366.86 789.93L375.26 781.52M384.41 781.52L392.81 789.93M384.41 789.93L392.81 781.52M401.97 781.52L410.37 789.93M401.97 789.93L410.37 781.52M419.52 781.52L427.92 789.93M419.52 789.93L427.92 781.52M437.08 781.52L445.48 789.93M437.08 789.93L445.48 781.52M472.19 781.52L480.59 789.93M472.19 789.93L480.59 781.52M85.98 799.07L94.38 807.48M85.98 807.48L94.38 799.07M103.53 799.07L111.93 807.48M103.53 807.48L111.93 799.07M121.09 799.07L129.49 807.48M121.09 807.48L129.49 799.07M138.64 799.07L147.04 807.48M138.64 807.48L147.04 799.07M156.2 799.07L164.6 807.48M156.2 807.48L164.6 799.07M173.75 799.07L182.15 807.48M173.75 807.48L182.15 799.07M208.86 799.07L217.26 807.48M208.86 807.48L217.26 799.07M226.42 799.07L234.82 807.48M226.42 807.48L234.82 799.07M243.97 799.07L252.37 807.48M243.97 807.48L252.37 799.07M261.53 799.07L269.93 807.48M261.53 807.48L269.93 799.07M279.08 799.07L287.48 807.48M279.08 807.48L287.48 799.07M296.64 799.07L305.04 807.48M296.64 807.48L305.04 799.07M314.19 799.07L322.59 807.48M314.19 807.48L322.59 799.07M331.75 799.07L340.15 807.48M331.75 807.48L340.15 799.07M349.3 799.07L357.7 807.48M349.3 807.48L357.7 799.07M366.86 799.07L375.26 807.48M366.86 807.48L375.26 799.07M384.41 799.07L392.81 807.48M384.41 807.48L392.81 799.07M401.97 799.07L410.37 807.48M401.97 807.48L410.37 799.07M419.52 799.07L427.92 807.48M419.52 807.48L427.92 799.07M437.08 799.07L445.48 807.48M437.08 807.48L445.48 799.07M454.63 799.07L463.03 807.48M454.63 807.48L463.03 799.07M472.19 799.07L480.59 807.48M472.19 807.48L480.59 799.07M85.98 816.62L94.38 825.03M85.98 825.03L94.38 816.62M103.53 816.62L111.93 825.03M103.53 825.03L111.93 816.62M121.09 816.62L129.49 825.03M121.09 825.03L129.49 816.62M138.64 816.62L147.04 825.03M138.64 825.03L147.04 816.62M156.2 816.62L164.6 825.03M156.2 825.03L164.6 816.62M173.75 816.62L182.15 825.03M173.75 825.03L182.15 816.62M208.86 816.62L217.26 825.03M208.86 825.03L217.26 816.62M226.42 816.62L234.82 825.03M226.42 825.03L234.82 816.62M243.97 816.62L252.37 825.03M243.97 825.03L252.37 816.62M261.53 816.62L269.93 825.03M261.53 825.03L269.93 816.62M296.64 816.62L305.04 825.03M296.64 825.03L305.04 816.62M314.19 816.62L322.59 825.03M314.19 825.03L322.59 816.62M331.75 816.62L340.15 825.03M331.75 825.03L340.15 816.62M349.3 816.62L357.7 825.03M349.3 825.03L357.7 816.62M366.86 816.62L375.26 825.03M366.86 825.03L375.26 816.62M384.41 816.62L392.81 825.03M384.41 825.03L392.81 816.62M401.97 816.62L410.37 825.03M401.97 825.03L410.37 816.62M419.52 816.62L427.92 825.03M419.52 825.03L427.92 816.62M437.08 816.62L445.48 825.03M437.08 825.03L445.48 816.62M454.63 816.62L463.03 825.03M454.63 825.03L463.03 816.62M472.19 816.62L480.59 825.03M472.19 825.03L480.59 816.62M85.98 834.17L94.38 842.58M85.98 842.58L94.38 834.17M103.53 834.17L111.93 842.58M103.53 842.58L111.93 834.17M121.09 834.17L129.49 842.58M121.09 842.58L129.49 834.17M138.64 834.17L147.04 842.58M138.64 842.58L147.04 834.17M156.2 834.17L164.6 842.58M156.2 842.58L164.6 834.17M173.75 834.17L182.15 842.58M173.75 842.58L182.15 834.17M191.31 834.17L199.71 842.58M191.31 842.58L199.71 834.17M208.86 834.17L217.26 842.58M208.86 842.58L217.26 834.17M226.42 834.17L234.82 842.58M226.42 842.58L234.82 834.17M243.97 834.17L252.37 842.58M243.97 842.58L252.37 834.17M261.53 834.17L269.93 842.58M261.53 842.58L269.93 834.17M296.64 834.17L305.04 842.58M296.64 842.58L305.04 834.17M314.19 834.17L322.59 842.58M314.19 842.58L322.59 834.17M331.75 834.17L340.15 842.58M331.75 842.58L340.15 834.17M366.86 834.17L375.26 842.58M366.86 842.58L375.26 834.17M384.41 834.17L392.81 842.58M384.41 842.58L392.81 834.17M401.97 834.17L410.37 842.58M401.97 842.58L410.37 834.17M419.52 834.17L427.92 842.58M419.52 842.58L427.92 834.17M437.08 834.17L445.48 842.58M437.08 842.58L445.48 834.17M454.63 834.17L463.03 842.58M454.63 842.58L463.03 834.17M472.19 834.17L480.59 842.58M472.19 842.58L480.59 834.17M85.98 851.73L94.38 860.13M85.98 860.13L94.38 851.73M103.53 851.73L111.93 860.13M103.53 860.13L111.93 851.73M121.09 851.73L129.49 860.13M121.09 860.13L129.49 851.73M138.64 851.73L147.04 860.13M138.64 860.13L147.04 851.73M156.2 851.73L164.6 860.13M156.2 860.13L164.6 851.73M173.75 851.73L182.15 860.13M173.75 860.13L182.15 851.73M191.31 851.73L199.71 860.13M191.31 860.13L199.71 851.73M208.86 851.73L217.26 860.13M208.86 860.13L217.26 851.73M226.42 851.73L234.82 860.13M226.42 860.13L234.82 851.73M243.97 851.73L252.37 860.13M243.97 860.13L252.37 851.73M261.53 851.73L269.93 860.13M261.53 860.13L269.93 851.73M279.08 851.73L287.48 860.13M279.08 860.13L287.48 851.73M296.64 851.73L305.04 860.13M296.64 860.13L305.04 851.73M314.19 851.73L322.59 860.13M314.19 860.13L322.59 851.73M331.75 851.73L340.15 860.13M331.75 860.13L340.15 851.73M349.3 851.73L357.7 860.13M349.3 860.13L357.7 851.73M366.86 851.73L375.26 860.13M366.86 860.13L375.26 851.73M384.41 851.73L392.81 860.13M384.41 860.13L392.81 851.73M401.97 851.73L410.37 860.13M401.97 860.13L410.37 851.73M419.52 851.73L427.92 860.13M419.52 860.13L427.92 851.73M437.08 851.73L445.48 860.13M437.08 860.13L445.48 851.73M454.63 851.73L463.03 860.13M454.63 860.13L463.03 851.73M472.19 851.73L480.59 860.13M472.19 860.13L480.59 851.73M85.98 869.27L94.38 877.68M85.98 877.68L94.38 869.27M103.53 869.27L111.93 877.68M103.53 877.68L111.93 869.27M121.09 869.27L129.49 877.68M121.09 877.68L129.49 869.27M138.64 869.27L147.04 877.68M138.64 877.68L147.04 869.27M156.2 869.27L164.6 877.68M156.2 877.68L164.6 869.27M173.75 869.27L182.15 877.68M173.75 877.68L182.15 869.27M191.31 869.27L199.71 877.68M191.31 877.68L199.71 869.27M208.86 869.27L217.26 877.68M208.86 877.68L217.26 869.27M226.42 869.27L234.82 877.68M226.42 877.68L234.82 869.27M243.97 869.27L252.37 877.68M243.97 877.68L252.37 869.27M261.53 869.27L269.93 877.68M261.53 877.68L269.93 869.27M279.08 869.27L287.48 877.68M279.08 877.68L287.48 869.27M296.64 869.27L305.04 877.68M296.64 877.68L305.04 869.27M314.19 869.27L322.59 877.68M314.19 877.68L322.59 869.27M331.75 869.27L340.15 877.68M331.75 877.68L340.15 869.27M349.3 869.27L357.7 877.68M349.3 877.68L357.7 869.27M366.86 869.27L375.26 877.68M366.86 877.68L375.26 869.27M384.41 869.27L392.81 877.68M384.41 877.68L392.81 869.27M401.97 869.27L410.37 877.68M401.97 877.68L410.37 869.27M419.52 869.27L427.92 877.68M419.52 877.68L427.92 869.27M437.08 869.27L445.48 877.68M437.08 877.68L445.48 869.27M454.63 869.27L463.03 877.68M454.63 877.68L463.03 869.27M472.19 869.27L480.59 877.68M472.19 877.68L480.59 869.27" stroke="#000" stroke-width="1.05" fill="none"/>
<path d="M81.4 652.85V883.5M98.96 652.85V883.5M116.51 652.85V883.5M134.06 652.85V883.5M151.62 652.85V883.5M169.18 652.85V883.5M186.73 652.85V883.5M204.28 652.85V883.5M221.84 652.85V883.5M239.4 652.85V883.5M256.95 652.85V883.5M274.5 652.85V883.5M292.06 652.85V883.5M309.62 652.85V883.5M327.17 652.85V883.5M344.73 652.85V883.5M362.28 652.85V883.5M379.84 652.85V883.5M397.39 652.85V883.5M414.95 652.85V883.5M432.5 652.85V883.5M450.05 652.85V883.5M467.61 652.85V883.5M485.16 652.85V883.5M80.15 654.1H486.41M80.15 671.65H486.41M80.15 689.2H486.41M80.15 706.75H486.41M80.15 724.3H486.41M80.15 741.85H486.41M80.15 759.4H486.41M80.15 776.95H486.41M80.15 794.5H486.41M80.15 812.05H486.41M80.15 829.6H486.41M80.15 847.15H486.41M80.15 864.7H486.41M80.15 882.25H486.41" stroke="#000" stroke-width="2.5" fill="none"/>
<text x="283.28" y="645.6" text-anchor="middle" font-size="31.5" fill="#000">(c) Humboldt</text>
<text x="69.3" y="661.3" text-anchor="end" font-size="29" fill="#262626">16S</text>
<text x="69.3" y="889.45" text-anchor="end" font-size="29" fill="#262626">41S</text>
<text x="0" y="0" transform="translate(33.7 766.68) rotate(-90)" text-anchor="middle" font-size="31.9" fill="#262626">Latitude</text>
<path fill="#fff8f8" d="M344.73 1038.15h17.86v17.85h-17.86zM450.05 1038.15h17.86v17.85h-17.86zM116.51 1055.7h17.86v17.85h-17.86zM239.4 1055.7h17.86v17.85h-17.86zM309.62 1055.7h17.86v17.85h-17.86z"/><path fill="#f4f4ff" d="M379.84 1038.15h17.86v17.85h-17.86z"/><path fill="#ffe9e9" d="M81.4 1055.7h17.86v17.85h-17.86zM169.18 1055.7h17.86v17.85h-17.86zM327.17 1055.7h17.86v17.85h-17.86zM467.61 1055.7h17.86v17.85h-17.86z"/><path fill="#ffd2d2" d="M151.62 1055.7h17.86v17.85h-17.86zM362.28 1055.7h17.86v17.85h-17.86zM414.95 1055.7h17.86v17.85h-17.86zM116.51 1073.25h17.86v17.85h-17.86zM134.06 1073.25h17.86v17.85h-17.86zM169.18 1073.25h17.86v17.85h-17.86zM221.84 1073.25h17.86v17.85h-17.86zM98.96 1090.8h17.86v17.85h-17.86zM344.73 1090.8h17.86v17.85h-17.86z"/><path fill="#fff4f4" d="M256.95 1055.7h17.86v17.85h-17.86zM432.5 1055.7h17.86v17.85h-17.86zM450.05 1055.7h17.86v17.85h-17.86zM397.39 1073.25h17.86v17.85h-17.86zM274.5 1108.35h17.86v17.85h-17.86zM397.39 1108.35h17.86v17.85h-17.86z"/><path fill="#ffdddd" d="M344.73 1055.7h17.86v17.85h-17.86zM98.96 1073.25h17.86v17.85h-17.86zM186.73 1090.8h17.86v17.85h-17.86zM397.39 1090.8h17.86v17.85h-17.86zM450.05 1090.8h17.86v17.85h-17.86zM169.18 1108.35h17.86v17.85h-17.86z"/><path fill="#ffe4e4" d="M379.84 1055.7h17.86v17.85h-17.86zM397.39 1055.7h17.86v17.85h-17.86zM204.28 1073.25h17.86v17.85h-17.86zM292.06 1073.25h17.86v17.85h-17.86z"/><path fill="#ffefef" d="M81.4 1073.25h17.86v17.85h-17.86zM186.73 1073.25h17.86v17.85h-17.86z"/><path fill="#ffb0b0" d="M151.62 1073.25h17.86v17.85h-17.86zM309.62 1073.25h17.86v17.85h-17.86zM327.17 1073.25h17.86v17.85h-17.86zM414.95 1073.25h17.86v17.85h-17.86zM432.5 1073.25h17.86v17.85h-17.86zM151.62 1090.8h17.86v17.85h-17.86zM256.95 1108.35h17.86v17.85h-17.86zM432.5 1108.35h17.86v17.85h-17.86z"/><path fill="#ffc7c7" d="M239.4 1073.25h17.86v17.85h-17.86zM344.73 1073.25h17.86v17.85h-17.86z"/><path fill="#ffa4a4" d="M256.95 1073.25h17.86v17.85h-17.86zM256.95 1090.8h17.86v17.85h-17.86z"/><path fill="#ff6868" d="M362.28 1073.25h17.86v17.85h-17.86zM309.62 1090.8h17.86v17.85h-17.86zM414.95 1090.8h17.86v17.85h-17.86zM134.06 1108.35h17.86v17.85h-17.86zM186.73 1108.35h17.86v17.85h-17.86z"/><path fill="#ff9999" d="M379.84 1073.25h17.86v17.85h-17.86zM116.51 1108.35h17.86v17.85h-17.86z"/><path fill="#ffbbbb" d="M467.61 1073.25h17.86v17.85h-17.86zM169.18 1090.8h17.86v17.85h-17.86zM204.28 1090.8h17.86v17.85h-17.86zM274.5 1090.8h17.86v17.85h-17.86zM292.06 1090.8h17.86v17.85h-17.86zM81.4 1108.35h17.86v17.85h-17.86zM204.28 1108.35h17.86v17.85h-17.86zM292.06 1108.35h17.86v17.85h-17.86z"/><path fill="#ff7474" d="M116.51 1090.8h17.86v17.85h-17.86zM134.06 1090.8h17.86v17.85h-17.86zM239.4 1090.8h17.86v17.85h-17.86zM467.61 1108.35h17.86v17.85h-17.86z"/><path fill="#ff5b5b" d="M221.84 1090.8h17.86v17.85h-17.86z"/><path fill="#ff3f3f" d="M327.17 1090.8h17.86v17.85h-17.86zM379.84 1090.8h17.86v17.85h-17.86zM344.73 1108.35h17.86v17.85h-17.86z"/><path fill="#ff2121" d="M362.28 1090.8h17.86v17.85h-17.86zM221.84 1108.35h17.86v17.85h-17.86zM309.62 1108.35h17.86v17.85h-17.86zM362.28 1108.35h17.86v17.85h-17.86zM379.84 1108.35h17.86v17.85h-17.86z"/><path fill="#ff8181" d="M432.5 1090.8h17.86v17.85h-17.86z"/><path fill="#ff8d8d" d="M467.61 1090.8h17.86v17.85h-17.86zM98.96 1108.35h17.86v17.85h-17.86zM151.62 1108.35h17.86v17.85h-17.86zM239.4 1108.35h17.86v17.85h-17.86z"/><path fill="#ff3030" d="M327.17 1108.35h17.86v17.85h-17.86z"/><path fill="#ff4d4d" d="M414.95 1108.35h17.86v17.85h-17.86z"/><path fill="#bbbbff" d="M450.05 1108.35h17.86v17.85h-17.86z"/>
<path d="M472.19 990.07L480.59 998.48M472.19 998.48L480.59 990.07M472.19 1007.62L480.59 1016.02M472.19 1016.02L480.59 1007.62M454.63 1025.17L463.03 1033.58M454.63 1033.58L463.03 1025.17M472.19 1025.17L480.59 1033.58M472.19 1033.58L480.59 1025.17M156.2 1042.73L164.6 1051.13M156.2 1051.13L164.6 1042.73M173.75 1042.73L182.15 1051.13M173.75 1051.13L182.15 1042.73M472.19 1042.73L480.59 1051.13M472.19 1051.13L480.59 1042.73M85.98 1060.28L94.38 1068.68M85.98 1068.68L94.38 1060.28M121.09 1060.28L129.49 1068.68M121.09 1068.68L129.49 1060.28M156.2 1060.28L164.6 1068.68M156.2 1068.68L164.6 1060.28M191.31 1060.28L199.71 1068.68M191.31 1068.68L199.71 1060.28M314.19 1060.28L322.59 1068.68M314.19 1068.68L322.59 1060.28M331.75 1060.28L340.15 1068.68M331.75 1068.68L340.15 1060.28M349.3 1060.28L357.7 1068.68M349.3 1068.68L357.7 1060.28M366.86 1060.28L375.26 1068.68M366.86 1068.68L375.26 1060.28M384.41 1060.28L392.81 1068.68M384.41 1068.68L392.81 1060.28M401.97 1060.28L410.37 1068.68M401.97 1068.68L410.37 1060.28M419.52 1060.28L427.92 1068.68M419.52 1068.68L427.92 1060.28M472.19 1060.28L480.59 1068.68M472.19 1068.68L480.59 1060.28M85.98 1077.83L94.38 1086.23M85.98 1086.23L94.38 1077.83M103.53 1077.83L111.93 1086.23M103.53 1086.23L111.93 1077.83M121.09 1077.83L129.49 1086.23M121.09 1086.23L129.49 1077.83M138.64 1077.83L147.04 1086.23M138.64 1086.23L147.04 1077.83M156.2 1077.83L164.6 1086.23M156.2 1086.23L164.6 1077.83M208.86 1077.83L217.26 1086.23M208.86 1086.23L217.26 1077.83M226.42 1077.83L234.82 1086.23M226.42 1086.23L234.82 1077.83M243.97 1077.83L252.37 1086.23M243.97 1086.23L252.37 1077.83M261.53 1077.83L269.93 1086.23M261.53 1086.23L269.93 1077.83M296.64 1077.83L305.04 1086.23M296.64 1086.23L305.04 1077.83M314.19 1077.83L322.59 1086.23M314.19 1086.23L322.59 1077.83M331.75 1077.83L340.15 1086.23M331.75 1086.23L340.15 1077.83M349.3 1077.83L357.7 1086.23M349.3 1086.23L357.7 1077.83M366.86 1077.83L375.26 1086.23M366.86 1086.23L375.26 1077.83M384.41 1077.83L392.81 1086.23M384.41 1086.23L392.81 1077.83M419.52 1077.83L427.92 1086.23M419.52 1086.23L427.92 1077.83M437.08 1077.83L445.48 1086.23M437.08 1086.23L445.48 1077.83M472.19 1077.83L480.59 1086.23M472.19 1086.23L480.59 1077.83M103.53 1095.38L111.93 1103.78M103.53 1103.78L111.93 1095.38M121.09 1095.38L129.49 1103.78M121.09 1103.78L129.49 1095.38M138.64 1095.38L147.04 1103.78M138.64 1103.78L147.04 1095.38M156.2 1095.38L164.6 1103.78M156.2 1103.78L164.6 1095.38M208.86 1095.38L217.26 1103.78M208.86 1103.78L217.26 1095.38M226.42 1095.38L234.82 1103.78M226.42 1103.78L234.82 1095.38M243.97 1095.38L252.37 1103.78M243.97 1103.78L252.37 1095.38M261.53 1095.38L269.93 1103.78M261.53 1103.78L269.93 1095.38M279.08 1095.38L287.48 1103.78M279.08 1103.78L287.48 1095.38M296.64 1095.38L305.04 1103.78M296.64 1103.78L305.04 1095.38M314.19 1095.38L322.59 1103.78M314.19 1103.78L322.59 1095.38M331.75 1095.38L340.15 1103.78M331.75 1103.78L340.15 1095.38M366.86 1095.38L375.26 1103.78M366.86 1103.78L375.26 1095.38M384.41 1095.38L392.81 1103.78M384.41 1103.78L392.81 1095.38M419.52 1095.38L427.92 1103.78M419.52 1103.78L427.92 1095.38M437.08 1095.38L445.48 1103.78M437.08 1103.78L445.48 1095.38M472.19 1095.38L480.59 1103.78M472.19 1103.78L480.59 1095.38M85.98 1112.92L94.38 1121.33M85.98 1121.33L94.38 1112.92M103.53 1112.92L111.93 1121.33M103.53 1121.33L111.93 1112.92M121.09 1112.92L129.49 1121.33M121.09 1121.33L129.49 1112.92M138.64 1112.92L147.04 1121.33M138.64 1121.33L147.04 1112.92M156.2 1112.92L164.6 1121.33M156.2 1121.33L164.6 1112.92M173.75 1112.92L182.15 1121.33M173.75 1121.33L182.15 1112.92M191.31 1112.92L199.71 1121.33M191.31 1121.33L199.71 1112.92M226.42 1112.92L234.82 1121.33M226.42 1121.33L234.82 1112.92M243.97 1112.92L252.37 1121.33M243.97 1121.33L252.37 1112.92M261.53 1112.92L269.93 1121.33M261.53 1121.33L269.93 1112.92M296.64 1112.92L305.04 1121.33M296.64 1121.33L305.04 1112.92M314.19 1112.92L322.59 1121.33M314.19 1121.33L322.59 1112.92M331.75 1112.92L340.15 1121.33M331.75 1121.33L340.15 1112.92M349.3 1112.92L357.7 1121.33M349.3 1121.33L357.7 1112.92M366.86 1112.92L375.26 1121.33M366.86 1121.33L375.26 1112.92M384.41 1112.92L392.81 1121.33M384.41 1121.33L392.81 1112.92M419.52 1112.92L427.92 1121.33M419.52 1121.33L427.92 1112.92M437.08 1112.92L445.48 1121.33M437.08 1121.33L445.48 1112.92M472.19 1112.92L480.59 1121.33M472.19 1121.33L480.59 1112.92" stroke="#000" stroke-width="1.05" fill="none"/>
<path d="M81.4 949.15V1127.15M98.96 949.15V1127.15M116.51 949.15V1127.15M134.06 949.15V1127.15M151.62 949.15V1127.15M169.18 949.15V1127.15M186.73 949.15V1127.15M204.28 949.15V1127.15M221.84 949.15V1127.15M239.4 949.15V1127.15M256.95 949.15V1127.15M274.5 949.15V1127.15M292.06 949.15V1127.15M309.62 949.15V1127.15M327.17 949.15V1127.15M344.73 949.15V1127.15M362.28 949.15V1127.15M379.84 949.15V1127.15M397.39 949.15V1127.15M414.95 949.15V1127.15M432.5 949.15V1127.15M450.05 949.15V1127.15M467.61 949.15V1127.15M485.16 949.15V1127.15M80.15 950.4H486.41M80.15 967.95H486.41M80.15 985.5H486.41M80.15 1003.05H486.41M80.15 1020.6H486.41M80.15 1038.15H486.41M80.15 1055.7H486.41M80.15 1073.25H486.41M80.15 1090.8H486.41M80.15 1108.35H486.41M80.15 1125.9H486.41" stroke="#000" stroke-width="2.5" fill="none"/>
<text x="283.28" y="941.9" text-anchor="middle" font-size="31.5" fill="#000">(d) Benguela</text>
<text x="69.3" y="957.6" text-anchor="end" font-size="29" fill="#262626">16S</text>
<text x="69.3" y="1133.1" text-anchor="end" font-size="29" fill="#262626">35S</text>
<text x="0" y="0" transform="translate(33.7 1036.65) rotate(-90)" text-anchor="middle" font-size="31.9" fill="#262626">Latitude</text>
<text x="84.58" y="1159.2" text-anchor="middle" font-size="29" fill="#262626">1</text>
<text x="155.8" y="1159.2" text-anchor="middle" font-size="29" fill="#262626">5</text>
<text x="248.77" y="1159.2" text-anchor="middle" font-size="29" fill="#262626">10</text>
<text x="337.15" y="1159.2" text-anchor="middle" font-size="29" fill="#262626">15</text>
<text x="423.82" y="1159.2" text-anchor="middle" font-size="29" fill="#262626">20</text>
<text x="283.28" y="1192" text-anchor="middle" font-size="31.9" fill="#262626">Model index</text>
<g shape-rendering="crispEdges"><rect x="80.5" y="1210.5" width="6.94" height="27" fill="#0000ff"/><rect x="86.84" y="1210.5" width="6.94" height="27" fill="#0808ff"/><rect x="93.19" y="1210.5" width="6.94" height="27" fill="#1010ff"/><rect x="99.53" y="1210.5" width="6.94" height="27" fill="#1919ff"/><rect x="105.87" y="1210.5" width="6.94" height="27" fill="#2121ff"/><rect x="112.22" y="1210.5" width="6.94" height="27" fill="#2929ff"/><rect x="118.56" y="1210.5" width="6.94" height="27" fill="#3131ff"/><rect x="124.9" y="1210.5" width="6.94" height="27" fill="#3a3aff"/><rect x="131.25" y="1210.5" width="6.94" height="27" fill="#4242ff"/><rect x="137.59" y="1210.5" width="6.94" height="27" fill="#4a4aff"/><rect x="143.93" y="1210.5" width="6.94" height="27" fill="#5252ff"/><rect x="150.28" y="1210.5" width="6.94" height="27" fill="#5a5aff"/><rect x="156.62" y="1210.5" width="6.94" height="27" fill="#6363ff"/><rect x="162.96" y="1210.5" width="6.94" height="27" fill="#6b6bff"/><rect x="169.3" y="1210.5" width="6.94" height="27" fill="#7373ff"/><rect x="175.65" y="1210.5" width="6.94" height="27" fill="#7b7bff"/><rect x="181.99" y="1210.5" width="6.94" height="27" fill="#8484ff"/><rect x="188.33" y="1210.5" width="6.94" height="27" fill="#8c8cff"/><rect x="194.68" y="1210.5" width="6.94" height="27" fill="#9494ff"/><rect x="201.02" y="1210.5" width="6.94" height="27" fill="#9c9cff"/><rect x="207.36" y="1210.5" width="6.94" height="27" fill="#a5a5ff"/><rect x="213.71" y="1210.5" width="6.94" height="27" fill="#adadff"/><rect x="220.05" y="1210.5" width="6.94" height="27" fill="#b5b5ff"/><rect x="226.39" y="1210.5" width="6.94" height="27" fill="#bdbdff"/><rect x="232.74" y="1210.5" width="6.94" height="27" fill="#c5c5ff"/><rect x="239.08" y="1210.5" width="6.94" height="27" fill="#ceceff"/><rect x="245.42" y="1210.5" width="6.94" height="27" fill="#d6d6ff"/><rect x="251.77" y="1210.5" width="6.94" height="27" fill="#dedeff"/><rect x="258.11" y="1210.5" width="6.94" height="27" fill="#e6e6ff"/><rect x="264.45" y="1210.5" width="6.94" height="27" fill="#efefff"/><rect x="270.8" y="1210.5" width="6.94" height="27" fill="#f7f7ff"/><rect x="277.14" y="1210.5" width="6.94" height="27" fill="#ffffff"/><rect x="283.48" y="1210.5" width="6.94" height="27" fill="#ffffff"/><rect x="289.83" y="1210.5" width="6.94" height="27" fill="#fff7f7"/><rect x="296.17" y="1210.5" width="6.94" height="27" fill="#ffefef"/><rect x="302.51" y="1210.5" width="6.94" height="27" fill="#ffe6e6"/><rect x="308.86" y="1210.5" width="6.94" height="27" fill="#ffdede"/><rect x="315.2" y="1210.5" width="6.94" height="27" fill="#ffd6d6"/><rect x="321.54" y="1210.5" width="6.94" height="27" fill="#ffcece"/><rect x="327.88" y="1210.5" width="6.94" height="27" fill="#ffc5c5"/><rect x="334.23" y="1210.5" width="6.94" height="27" fill="#ffbdbd"/><rect x="340.57" y="1210.5" width="6.94" height="27" fill="#ffb5b5"/><rect x="346.91" y="1210.5" width="6.94" height="27" fill="#ffadad"/><rect x="353.26" y="1210.5" width="6.94" height="27" fill="#ffa5a5"/><rect x="359.6" y="1210.5" width="6.94" height="27" fill="#ff9c9c"/><rect x="365.94" y="1210.5" width="6.94" height="27" fill="#ff9494"/><rect x="372.29" y="1210.5" width="6.94" height="27" fill="#ff8c8c"/><rect x="378.63" y="1210.5" width="6.94" height="27" fill="#ff8484"/><rect x="384.97" y="1210.5" width="6.94" height="27" fill="#ff7b7b"/><rect x="391.32" y="1210.5" width="6.94" height="27" fill="#ff7373"/><rect x="397.66" y="1210.5" width="6.94" height="27" fill="#ff6b6b"/><rect x="404" y="1210.5" width="6.94" height="27" fill="#ff6363"/><rect x="410.35" y="1210.5" width="6.94" height="27" fill="#ff5a5a"/><rect x="416.69" y="1210.5" width="6.94" height="27" fill="#ff5252"/><rect x="423.03" y="1210.5" width="6.94" height="27" fill="#ff4a4a"/><rect x="429.38" y="1210.5" width="6.94" height="27" fill="#ff4242"/><rect x="435.72" y="1210.5" width="6.94" height="27" fill="#ff3a3a"/><rect x="442.06" y="1210.5" width="6.94" height="27" fill="#ff3131"/><rect x="448.41" y="1210.5" width="6.94" height="27" fill="#ff2929"/><rect x="454.75" y="1210.5" width="6.94" height="27" fill="#ff2121"/><rect x="461.09" y="1210.5" width="6.94" height="27" fill="#ff1919"/><rect x="467.44" y="1210.5" width="6.94" height="27" fill="#ff1010"/><rect x="473.78" y="1210.5" width="6.94" height="27" fill="#ff0808"/><rect x="480.12" y="1210.5" width="6.94" height="27" fill="#ff0000"/></g>
<rect x="80.5" y="1210.5" width="405.96" height="27" fill="none" stroke="#1a1a1a" stroke-width="2.2"/>
<text x="80.5" y="1269.9" text-anchor="middle" font-size="29" fill="#262626">-50</text>
<text x="283.48" y="1269.9" text-anchor="middle" font-size="29" fill="#262626">0</text>
<text x="486.46" y="1269.9" text-anchor="middle" font-size="29" fill="#262626">50</text>
<path d="M283.48 1236.5V1233.2" stroke="#1a1a1a" stroke-width="1.8"/>
<text x="283.48" y="1300.7" text-anchor="middle" font-size="29" fill="#262626">Duration (day)</text>
<path fill="#f4f4ff" d="M612.9 40.4h17.86v17.85h-17.86zM735.78 40.4h17.86v17.85h-17.86zM612.9 57.95h17.86v17.85h-17.86zM648.01 57.95h17.86v17.85h-17.86zM735.78 57.95h17.86v17.85h-17.86zM858.67 93.05h17.86v17.85h-17.86zM964 145.7h17.86v17.85h-17.86zM683.12 163.25h17.86v17.85h-17.86zM858.67 198.35h17.86v17.85h-17.86zM876.22 215.9h17.86v17.85h-17.86z"/><path fill="#4d4dff" d="M630.45 40.4h17.86v17.85h-17.86z"/><path fill="#b0b0ff" d="M648.01 40.4h17.86v17.85h-17.86zM823.56 40.4h17.86v17.85h-17.86zM858.67 57.95h17.86v17.85h-17.86zM981.55 57.95h17.86v17.85h-17.86zM999.11 57.95h17.86v17.85h-17.86zM612.9 93.05h17.86v17.85h-17.86zM788.45 110.6h17.86v17.85h-17.86z"/><path fill="#ffc7c7" d="M665.56 40.4h17.86v17.85h-17.86zM630.45 110.6h17.86v17.85h-17.86zM893.78 110.6h17.86v17.85h-17.86zM841.12 128.15h17.86v17.85h-17.86zM964 128.15h17.86v17.85h-17.86zM981.55 128.15h17.86v17.85h-17.86z"/><path fill="#ffdddd" d="M683.12 40.4h17.86v17.85h-17.86zM946.44 57.95h17.86v17.85h-17.86zM612.9 128.15h17.86v17.85h-17.86zM770.89 163.25h17.86v17.85h-17.86zM648.01 233.45h17.86v17.85h-17.86z"/><path fill="#bbbbff" d="M700.67 40.4h17.86v17.85h-17.86zM999.11 40.4h17.86v17.85h-17.86zM683.12 57.95h17.86v17.85h-17.86zM718.23 57.95h17.86v17.85h-17.86zM893.78 57.95h17.86v17.85h-17.86zM753.34 75.5h17.86v17.85h-17.86zM770.89 75.5h17.86v17.85h-17.86zM876.22 75.5h17.86v17.85h-17.86zM999.11 75.5h17.86v17.85h-17.86zM893.78 93.05h17.86v17.85h-17.86zM718.23 128.15h17.86v17.85h-17.86zM753.34 145.7h17.86v17.85h-17.86zM753.34 163.25h17.86v17.85h-17.86zM788.45 163.25h17.86v17.85h-17.86z"/><path fill="#ddddff" d="M718.23 40.4h17.86v17.85h-17.86zM700.67 75.5h17.86v17.85h-17.86zM876.22 93.05h17.86v17.85h-17.86zM964 93.05h17.86v17.85h-17.86zM823.56 110.6h17.86v17.85h-17.86zM648.01 128.15h17.86v17.85h-17.86zM876.22 128.15h17.86v17.85h-17.86zM928.89 145.7h17.86v17.85h-17.86zM858.67 163.25h17.86v17.85h-17.86zM858.67 180.8h17.86v17.85h-17.86z"/><path fill="#9999ff" d="M753.34 40.4h17.86v17.85h-17.86zM858.67 40.4h17.86v17.85h-17.86zM770.89 57.95h17.86v17.85h-17.86zM718.23 75.5h17.86v17.85h-17.86zM841.12 75.5h17.86v17.85h-17.86zM648.01 110.6h17.86v17.85h-17.86z"/><path fill="#a4a4ff" d="M770.89 40.4h17.86v17.85h-17.86zM841.12 40.4h17.86v17.85h-17.86zM876.22 40.4h17.86v17.85h-17.86zM964 40.4h17.86v17.85h-17.86zM823.56 57.95h17.86v17.85h-17.86zM841.12 57.95h17.86v17.85h-17.86zM683.12 75.5h17.86v17.85h-17.86zM981.55 75.5h17.86v17.85h-17.86zM876.22 110.6h17.86v17.85h-17.86zM911.34 110.6h17.86v17.85h-17.86z"/><path fill="#8d8dff" d="M788.45 40.4h17.86v17.85h-17.86zM788.45 75.5h17.86v17.85h-17.86zM648.01 93.05h17.86v17.85h-17.86zM788.45 128.15h17.86v17.85h-17.86zM876.22 145.7h17.86v17.85h-17.86zM876.22 163.25h17.86v17.85h-17.86z"/><path fill="#1111ff" d="M806 40.4h17.86v17.85h-17.86zM806 57.95h17.86v17.85h-17.86zM788.45 93.05h17.86v17.85h-17.86zM928.89 110.6h17.86v17.85h-17.86z"/><path fill="#ff9999" d="M893.78 40.4h17.86v17.85h-17.86zM683.12 93.05h17.86v17.85h-17.86zM612.9 110.6h17.86v17.85h-17.86zM806 110.6h17.86v17.85h-17.86zM946.44 128.15h17.86v17.85h-17.86zM718.23 145.7h17.86v17.85h-17.86z"/><path fill="#2121ff" d="M911.34 40.4h17.86v17.85h-17.86zM911.34 75.5h17.86v17.85h-17.86zM770.89 93.05h17.86v17.85h-17.86z"/><path fill="#ffd2d2" d="M928.89 40.4h17.86v17.85h-17.86zM946.44 40.4h17.86v17.85h-17.86zM665.56 57.95h17.86v17.85h-17.86zM876.22 57.95h17.86v17.85h-17.86zM928.89 57.95h17.86v17.85h-17.86zM753.34 93.05h17.86v17.85h-17.86zM630.45 128.15h17.86v17.85h-17.86zM999.11 145.7h17.86v17.85h-17.86zM700.67 163.25h17.86v17.85h-17.86zM648.01 180.8h17.86v17.85h-17.86zM981.55 180.8h17.86v17.85h-17.86z"/><path fill="#8181ff" d="M981.55 40.4h17.86v17.85h-17.86zM788.45 57.95h17.86v17.85h-17.86zM964 57.95h17.86v17.85h-17.86zM858.67 75.5h17.86v17.85h-17.86zM964 75.5h17.86v17.85h-17.86zM788.45 145.7h17.86v17.85h-17.86z"/><path fill="#5b5bff" d="M630.45 57.95h17.86v17.85h-17.86zM928.89 128.15h17.86v17.85h-17.86z"/><path fill="#d2d2ff" d="M700.67 57.95h17.86v17.85h-17.86zM718.23 93.05h17.86v17.85h-17.86zM735.78 93.05h17.86v17.85h-17.86zM981.55 93.05h17.86v17.85h-17.86zM718.23 110.6h17.86v17.85h-17.86z"/><path fill="#6868ff" d="M753.34 57.95h17.86v17.85h-17.86zM735.78 75.5h17.86v17.85h-17.86zM806 75.5h17.86v17.85h-17.86zM630.45 93.05h17.86v17.85h-17.86zM911.34 93.05h17.86v17.85h-17.86z"/><path fill="#e9e9ff" d="M911.34 57.95h17.86v17.85h-17.86zM946.44 75.5h17.86v17.85h-17.86zM806 93.05h17.86v17.85h-17.86zM823.56 128.15h17.86v17.85h-17.86zM788.45 180.8h17.86v17.85h-17.86zM876.22 180.8h17.86v17.85h-17.86z"/><path fill="#3f3fff" d="M612.9 75.5h17.86v17.85h-17.86zM946.44 93.05h17.86v17.85h-17.86z"/><path fill="#3030ff" d="M630.45 75.5h17.86v17.85h-17.86z"/><path fill="#7474ff" d="M648.01 75.5h17.86v17.85h-17.86z"/><path fill="#ffbbbb" d="M665.56 75.5h17.86v17.85h-17.86zM700.67 93.05h17.86v17.85h-17.86zM648.01 163.25h17.86v17.85h-17.86z"/><path fill="#fff4f4" d="M823.56 75.5h17.86v17.85h-17.86zM928.89 93.05h17.86v17.85h-17.86zM683.12 145.7h17.86v17.85h-17.86zM841.12 180.8h17.86v17.85h-17.86z"/><path fill="#ff1111" d="M665.56 93.05h17.86v17.85h-17.86zM683.12 110.6h17.86v17.85h-17.86zM735.78 128.15h17.86v17.85h-17.86z"/><path fill="#ffb0b0" d="M841.12 93.05h17.86v17.85h-17.86zM753.34 110.6h17.86v17.85h-17.86zM770.89 110.6h17.86v17.85h-17.86zM858.67 110.6h17.86v17.85h-17.86zM665.56 145.7h17.86v17.85h-17.86zM770.89 145.7h17.86v17.85h-17.86z"/><path fill="#f8f8ff" d="M999.11 93.05h17.86v17.85h-17.86z"/><path fill="#ff5b5b" d="M665.56 110.6h17.86v17.85h-17.86zM683.12 128.15h17.86v17.85h-17.86z"/><path fill="#ff7474" d="M700.67 110.6h17.86v17.85h-17.86zM700.67 128.15h17.86v17.85h-17.86zM858.67 145.7h17.86v17.85h-17.86z"/><path fill="#fff8f8" d="M735.78 110.6h17.86v17.85h-17.86zM911.34 128.15h17.86v17.85h-17.86zM665.56 163.25h17.86v17.85h-17.86zM964 163.25h17.86v17.85h-17.86z"/><path fill="#ffa4a4" d="M841.12 110.6h17.86v17.85h-17.86zM981.55 163.25h17.86v17.85h-17.86z"/><path fill="#ff4d4d" d="M946.44 110.6h17.86v17.85h-17.86zM700.67 145.7h17.86v17.85h-17.86zM841.12 145.7h17.86v17.85h-17.86z"/><path fill="#ff8d8d" d="M964 110.6h17.86v17.85h-17.86zM665.56 128.15h17.86v17.85h-17.86z"/><path fill="#ff6868" d="M981.55 110.6h17.86v17.85h-17.86zM770.89 128.15h17.86v17.85h-17.86zM841.12 163.25h17.86v17.85h-17.86z"/><path fill="#ffe9e9" d="M999.11 110.6h17.86v17.85h-17.86zM999.11 128.15h17.86v17.85h-17.86zM612.9 145.7h17.86v17.85h-17.86zM946.44 145.7h17.86v17.85h-17.86zM648.01 198.35h17.86v17.85h-17.86zM876.22 198.35h17.86v17.85h-17.86z"/><path fill="#ffefef" d="M858.67 128.15h17.86v17.85h-17.86zM630.45 145.7h17.86v17.85h-17.86zM718.23 163.25h17.86v17.85h-17.86zM893.78 163.25h17.86v17.85h-17.86z"/><path fill="#ff2121" d="M735.78 145.7h17.86v17.85h-17.86z"/><path fill="#ff3f3f" d="M981.55 145.7h17.86v17.85h-17.86z"/>
<path d="M635.03 44.97L643.43 53.38M635.03 53.38L643.43 44.97M652.59 44.97L660.99 53.38M652.59 53.38L660.99 44.97M793.03 44.97L801.43 53.38M793.03 53.38L801.43 44.97M810.58 44.97L818.98 53.38M810.58 53.38L818.98 44.97M1003.69 44.97L1012.09 53.38M1003.69 53.38L1012.09 44.97M635.03 62.53L643.43 70.93M635.03 70.93L643.43 62.53M722.81 62.53L731.21 70.93M722.81 70.93L731.21 62.53M793.03 62.53L801.43 70.93M793.03 70.93L801.43 62.53M810.58 62.53L818.98 70.93M810.58 70.93L818.98 62.53M863.25 62.53L871.65 70.93M863.25 70.93L871.65 62.53M986.13 62.53L994.53 70.93M986.13 70.93L994.53 62.53M1003.69 62.53L1012.09 70.93M1003.69 70.93L1012.09 62.53M617.48 80.08L625.88 88.48M617.48 88.48L625.88 80.08M635.03 80.08L643.43 88.48M635.03 88.48L643.43 80.08M652.59 80.08L660.99 88.48M652.59 88.48L660.99 80.08M740.36 80.08L748.76 88.48M740.36 88.48L748.76 80.08M793.03 80.08L801.43 88.48M793.03 88.48L801.43 80.08M863.25 80.08L871.65 88.48M863.25 88.48L871.65 80.08M915.91 80.08L924.31 88.48M915.91 88.48L924.31 80.08M1003.69 80.08L1012.09 88.48M1003.69 88.48L1012.09 80.08M793.03 97.63L801.43 106.03M793.03 106.03L801.43 97.63M915.91 97.63L924.31 106.03M915.91 106.03L924.31 97.63M1003.69 97.63L1012.09 106.03M1003.69 106.03L1012.09 97.63M810.58 115.17L818.98 123.58M810.58 123.58L818.98 115.17M986.13 115.17L994.53 123.58M986.13 123.58L994.53 115.17M775.47 132.73L783.87 141.12M775.47 141.12L783.87 132.73M810.58 132.73L818.98 141.12M810.58 141.12L818.98 132.73M951.02 132.73L959.42 141.12M951.02 141.12L959.42 132.73M968.58 132.73L976.98 141.12M968.58 141.12L976.98 132.73M986.13 132.73L994.53 141.12M986.13 141.12L994.53 132.73M1003.69 132.73L1012.09 141.12M1003.69 141.12L1012.09 132.73M705.25 150.28L713.65 158.68M705.25 158.68L713.65 150.28M740.36 150.28L748.76 158.68M740.36 158.68L748.76 150.28M775.47 150.28L783.87 158.68M775.47 158.68L783.87 150.28M951.02 150.28L959.42 158.68M951.02 158.68L959.42 150.28M986.13 150.28L994.53 158.68M986.13 158.68L994.53 150.28M1003.69 150.28L1012.09 158.68M1003.69 158.68L1012.09 150.28M670.14 167.83L678.54 176.22M670.14 176.22L678.54 167.83M845.69 167.83L854.09 176.22M845.69 176.22L854.09 167.83M775.47 185.38L783.87 193.78M775.47 193.78L783.87 185.38M793.03 185.38L801.43 193.78M793.03 193.78L801.43 185.38M986.13 185.38L994.53 193.78M986.13 193.78L994.53 185.38M652.59 202.93L660.99 211.33M652.59 211.33L660.99 202.93M863.25 220.48L871.65 228.88M863.25 228.88L871.65 220.48" stroke="#000" stroke-width="1.05" fill="none"/>
<path d="M612.9 39.15V252.25M630.45 39.15V252.25M648.01 39.15V252.25M665.56 39.15V252.25M683.12 39.15V252.25M700.67 39.15V252.25M718.23 39.15V252.25M735.78 39.15V252.25M753.34 39.15V252.25M770.89 39.15V252.25M788.45 39.15V252.25M806 39.15V252.25M823.56 39.15V252.25M841.12 39.15V252.25M858.67 39.15V252.25M876.22 39.15V252.25M893.78 39.15V252.25M911.34 39.15V252.25M928.89 39.15V252.25M946.44 39.15V252.25M964 39.15V252.25M981.55 39.15V252.25M999.11 39.15V252.25M1016.66 39.15V252.25M611.65 40.4H1017.91M611.65 57.95H1017.91M611.65 75.5H1017.91M611.65 93.05H1017.91M611.65 110.6H1017.91M611.65 128.15H1017.91M611.65 145.7H1017.91M611.65 163.25H1017.91M611.65 180.8H1017.91M611.65 198.35H1017.91M611.65 215.9H1017.91M611.65 233.45H1017.91M611.65 251H1017.91" stroke="#000" stroke-width="2.5" fill="none"/>
<text x="814.78" y="31.9" text-anchor="middle" font-size="31.5" fill="#000">(e) California</text>
<text x="602.3" y="47.6" text-anchor="end" font-size="29" fill="#262626">47N</text>
<text x="602.3" y="258.2" text-anchor="end" font-size="29" fill="#262626">24N</text>
<path fill="#9999ff" d="M612.9 335.4h17.86v17.85h-17.86zM648.01 335.4h17.86v17.85h-17.86zM893.78 370.5h17.86v17.85h-17.86zM735.78 388.05h17.86v17.85h-17.86zM893.78 388.05h17.86v17.85h-17.86zM735.78 423.15h17.86v17.85h-17.86zM770.89 440.7h17.86v17.85h-17.86zM858.67 440.7h17.86v17.85h-17.86z"/><path fill="#bbbbff" d="M630.45 335.4h17.86v17.85h-17.86zM770.89 352.95h17.86v17.85h-17.86zM788.45 352.95h17.86v17.85h-17.86zM806 352.95h17.86v17.85h-17.86zM753.34 388.05h17.86v17.85h-17.86zM753.34 405.6h17.86v17.85h-17.86zM946.44 405.6h17.86v17.85h-17.86zM612.9 423.15h17.86v17.85h-17.86zM788.45 423.15h17.86v17.85h-17.86z"/><path fill="#f8f8ff" d="M665.56 335.4h17.86v17.85h-17.86zM665.56 405.6h17.86v17.85h-17.86zM718.23 458.25h17.86v17.85h-17.86zM911.34 458.25h17.86v17.85h-17.86zM928.89 458.25h17.86v17.85h-17.86z"/><path fill="#1111ff" d="M683.12 335.4h17.86v17.85h-17.86zM718.23 335.4h17.86v17.85h-17.86zM893.78 335.4h17.86v17.85h-17.86zM893.78 352.95h17.86v17.85h-17.86z"/><path fill="#b0b0ff" d="M700.67 335.4h17.86v17.85h-17.86zM770.89 388.05h17.86v17.85h-17.86zM753.34 423.15h17.86v17.85h-17.86zM683.12 440.7h17.86v17.85h-17.86z"/><path fill="#a4a4ff" d="M735.78 335.4h17.86v17.85h-17.86zM858.67 335.4h17.86v17.85h-17.86zM999.11 335.4h17.86v17.85h-17.86zM612.9 352.95h17.86v17.85h-17.86zM770.89 370.5h17.86v17.85h-17.86zM665.56 388.05h17.86v17.85h-17.86zM700.67 405.6h17.86v17.85h-17.86z"/><path fill="#ffb0b0" d="M753.34 335.4h17.86v17.85h-17.86zM630.45 370.5h17.86v17.85h-17.86zM841.12 440.7h17.86v17.85h-17.86z"/><path fill="#8181ff" d="M770.89 335.4h17.86v17.85h-17.86z"/><path fill="#d2d2ff" d="M788.45 335.4h17.86v17.85h-17.86zM823.56 335.4h17.86v17.85h-17.86zM999.11 352.95h17.86v17.85h-17.86zM612.9 370.5h17.86v17.85h-17.86zM648.01 388.05h17.86v17.85h-17.86zM718.23 405.6h17.86v17.85h-17.86zM928.89 405.6h17.86v17.85h-17.86zM700.67 423.15h17.86v17.85h-17.86zM858.67 423.15h17.86v17.85h-17.86zM999.11 423.15h17.86v17.85h-17.86z"/><path fill="#6868ff" d="M806 335.4h17.86v17.85h-17.86zM946.44 335.4h17.86v17.85h-17.86zM964 335.4h17.86v17.85h-17.86zM735.78 370.5h17.86v17.85h-17.86zM770.89 423.15h17.86v17.85h-17.86zM928.89 423.15h17.86v17.85h-17.86zM911.34 440.7h17.86v17.85h-17.86zM928.89 440.7h17.86v17.85h-17.86z"/><path fill="#7474ff" d="M841.12 335.4h17.86v17.85h-17.86zM946.44 388.05h17.86v17.85h-17.86zM911.34 423.15h17.86v17.85h-17.86z"/><path fill="#5b5bff" d="M876.22 335.4h17.86v17.85h-17.86zM876.22 352.95h17.86v17.85h-17.86zM665.56 440.7h17.86v17.85h-17.86z"/><path fill="#3030ff" d="M911.34 335.4h17.86v17.85h-17.86z"/><path fill="#ff7474" d="M928.89 335.4h17.86v17.85h-17.86z"/><path fill="#fff4f4" d="M981.55 335.4h17.86v17.85h-17.86zM683.12 352.95h17.86v17.85h-17.86zM823.56 352.95h17.86v17.85h-17.86zM788.45 370.5h17.86v17.85h-17.86zM946.44 370.5h17.86v17.85h-17.86zM718.23 388.05h17.86v17.85h-17.86zM999.11 388.05h17.86v17.85h-17.86zM841.12 405.6h17.86v17.85h-17.86zM911.34 405.6h17.86v17.85h-17.86zM700.67 440.7h17.86v17.85h-17.86z"/><path fill="#ff5b5b" d="M630.45 352.95h17.86v17.85h-17.86z"/><path fill="#3f3fff" d="M648.01 352.95h17.86v17.85h-17.86zM648.01 370.5h17.86v17.85h-17.86zM770.89 405.6h17.86v17.85h-17.86zM893.78 405.6h17.86v17.85h-17.86z"/><path fill="#ff8d8d" d="M665.56 352.95h17.86v17.85h-17.86z"/><path fill="#ddddff" d="M700.67 352.95h17.86v17.85h-17.86zM876.22 370.5h17.86v17.85h-17.86zM612.9 388.05h17.86v17.85h-17.86zM876.22 388.05h17.86v17.85h-17.86zM648.01 405.6h17.86v17.85h-17.86zM823.56 405.6h17.86v17.85h-17.86zM876.22 405.6h17.86v17.85h-17.86zM718.23 423.15h17.86v17.85h-17.86zM946.44 423.15h17.86v17.85h-17.86zM718.23 440.7h17.86v17.85h-17.86zM981.55 440.7h17.86v17.85h-17.86zM665.56 458.25h17.86v17.85h-17.86zM964 458.25h17.86v17.85h-17.86zM981.55 458.25h17.86v17.85h-17.86z"/><path fill="#ffefef" d="M718.23 352.95h17.86v17.85h-17.86zM946.44 440.7h17.86v17.85h-17.86z"/><path fill="#4d4dff" d="M735.78 352.95h17.86v17.85h-17.86z"/><path fill="#ffe9e9" d="M858.67 352.95h17.86v17.85h-17.86zM630.45 388.05h17.86v17.85h-17.86zM648.01 440.7h17.86v17.85h-17.86zM893.78 440.7h17.86v17.85h-17.86z"/><path fill="#2121ff" d="M911.34 352.95h17.86v17.85h-17.86zM893.78 423.15h17.86v17.85h-17.86z"/><path fill="#ff6868" d="M928.89 352.95h17.86v17.85h-17.86zM841.12 388.05h17.86v17.85h-17.86zM964 405.6h17.86v17.85h-17.86z"/><path fill="#e9e9ff" d="M946.44 352.95h17.86v17.85h-17.86zM700.67 370.5h17.86v17.85h-17.86zM806 370.5h17.86v17.85h-17.86zM823.56 370.5h17.86v17.85h-17.86zM806 388.05h17.86v17.85h-17.86zM823.56 388.05h17.86v17.85h-17.86zM683.12 423.15h17.86v17.85h-17.86zM823.56 423.15h17.86v17.85h-17.86zM612.9 440.7h17.86v17.85h-17.86zM735.78 440.7h17.86v17.85h-17.86zM999.11 440.7h17.86v17.85h-17.86zM683.12 458.25h17.86v17.85h-17.86zM893.78 458.25h17.86v17.85h-17.86z"/><path fill="#ff3f3f" d="M964 352.95h17.86v17.85h-17.86z"/><path fill="#ffdddd" d="M981.55 352.95h17.86v17.85h-17.86zM788.45 405.6h17.86v17.85h-17.86zM981.55 405.6h17.86v17.85h-17.86zM876.22 423.15h17.86v17.85h-17.86zM964 423.15h17.86v17.85h-17.86z"/><path fill="#ffbbbb" d="M665.56 370.5h17.86v17.85h-17.86zM981.55 370.5h17.86v17.85h-17.86zM788.45 388.05h17.86v17.85h-17.86z"/><path fill="#ff9999" d="M683.12 370.5h17.86v17.85h-17.86z"/><path fill="#c7c7ff" d="M718.23 370.5h17.86v17.85h-17.86zM911.34 370.5h17.86v17.85h-17.86zM911.34 388.05h17.86v17.85h-17.86zM612.9 405.6h17.86v17.85h-17.86zM788.45 440.7h17.86v17.85h-17.86z"/><path fill="#ffd2d2" d="M753.34 370.5h17.86v17.85h-17.86zM806 405.6h17.86v17.85h-17.86z"/><path fill="#ff2121" d="M841.12 370.5h17.86v17.85h-17.86z"/><path fill="#f4f4ff" d="M858.67 370.5h17.86v17.85h-17.86zM999.11 370.5h17.86v17.85h-17.86zM700.67 388.05h17.86v17.85h-17.86zM858.67 388.05h17.86v17.85h-17.86zM981.55 388.05h17.86v17.85h-17.86zM630.45 405.6h17.86v17.85h-17.86zM999.11 405.6h17.86v17.85h-17.86zM981.55 423.15h17.86v17.85h-17.86zM753.34 440.7h17.86v17.85h-17.86zM964 440.7h17.86v17.85h-17.86zM700.67 458.25h17.86v17.85h-17.86zM788.45 458.25h17.86v17.85h-17.86zM999.11 458.25h17.86v17.85h-17.86z"/><path fill="#ffc7c7" d="M928.89 370.5h17.86v17.85h-17.86zM928.89 388.05h17.86v17.85h-17.86zM858.67 405.6h17.86v17.85h-17.86zM876.22 440.7h17.86v17.85h-17.86z"/><path fill="#ff3030" d="M964 370.5h17.86v17.85h-17.86z"/><path fill="#ff8181" d="M683.12 388.05h17.86v17.85h-17.86z"/><path fill="#ffa4a4" d="M964 388.05h17.86v17.85h-17.86zM683.12 405.6h17.86v17.85h-17.86z"/><path fill="#8d8dff" d="M735.78 405.6h17.86v17.85h-17.86zM648.01 423.15h17.86v17.85h-17.86z"/><path fill="#fff8f8" d="M946.44 458.25h17.86v17.85h-17.86z"/>
<path d="M687.7 339.97L696.1 348.37M687.7 348.37L696.1 339.97M722.81 339.97L731.21 348.37M722.81 348.37L731.21 339.97M775.47 339.97L783.87 348.37M775.47 348.37L783.87 339.97M863.25 339.97L871.65 348.37M863.25 348.37L871.65 339.97M898.36 339.97L906.76 348.37M898.36 348.37L906.76 339.97M915.91 339.97L924.31 348.37M915.91 348.37L924.31 339.97M1003.69 339.97L1012.09 348.37M1003.69 348.37L1012.09 339.97M652.59 357.52L660.99 365.92M652.59 365.92L660.99 357.52M740.36 357.52L748.76 365.92M740.36 365.92L748.76 357.52M898.36 357.52L906.76 365.92M898.36 365.92L906.76 357.52M915.91 357.52L924.31 365.92M915.91 365.92L924.31 357.52M1003.69 357.52L1012.09 365.92M1003.69 365.92L1012.09 357.52M652.59 375.07L660.99 383.47M652.59 383.47L660.99 375.07M845.69 375.07L854.09 383.47M845.69 383.47L854.09 375.07M898.36 375.07L906.76 383.47M898.36 383.47L906.76 375.07M740.36 392.62L748.76 401.02M740.36 401.02L748.76 392.62M775.47 392.62L783.87 401.02M775.47 401.02L783.87 392.62M845.69 392.62L854.09 401.02M845.69 401.02L854.09 392.62M740.36 410.17L748.76 418.57M740.36 418.57L748.76 410.17M775.47 410.17L783.87 418.57M775.47 418.57L783.87 410.17M898.36 410.17L906.76 418.57M898.36 418.57L906.76 410.17M1003.69 410.17L1012.09 418.57M1003.69 418.57L1012.09 410.17M617.48 427.72L625.88 436.12M617.48 436.12L625.88 427.72M740.36 427.72L748.76 436.12M740.36 436.12L748.76 427.72M757.92 427.72L766.32 436.12M757.92 436.12L766.32 427.72M775.47 427.72L783.87 436.12M775.47 436.12L783.87 427.72M898.36 427.72L906.76 436.12M898.36 436.12L906.76 427.72M915.91 427.72L924.31 436.12M915.91 436.12L924.31 427.72M1003.69 427.72L1012.09 436.12M1003.69 436.12L1012.09 427.72M617.48 445.27L625.88 453.67M617.48 453.67L625.88 445.27M670.14 445.27L678.54 453.67M670.14 453.67L678.54 445.27M775.47 445.27L783.87 453.67M775.47 453.67L783.87 445.27M863.25 445.27L871.65 453.67M863.25 453.67L871.65 445.27M1003.69 445.27L1012.09 453.67M1003.69 453.67L1012.09 445.27M670.14 462.82L678.54 471.22M670.14 471.22L678.54 462.82M740.36 462.82L748.76 471.22M740.36 471.22L748.76 462.82M775.47 462.82L783.87 471.22M775.47 471.22L783.87 462.82M898.36 462.82L906.76 471.22M898.36 471.22L906.76 462.82M1003.69 462.82L1012.09 471.22M1003.69 471.22L1012.09 462.82M1003.69 480.37L1012.09 488.77M1003.69 488.77L1012.09 480.37M1003.69 497.93L1012.09 506.32M1003.69 506.32L1012.09 497.93M1003.69 515.47L1012.09 523.88M1003.69 523.88L1012.09 515.47M1003.69 533.02L1012.09 541.43M1003.69 541.43L1012.09 533.02" stroke="#000" stroke-width="1.05" fill="none"/>
<path d="M612.9 334.15V582.35M630.45 334.15V582.35M648.01 334.15V582.35M665.56 334.15V582.35M683.12 334.15V582.35M700.67 334.15V582.35M718.23 334.15V582.35M735.78 334.15V582.35M753.34 334.15V582.35M770.89 334.15V582.35M788.45 334.15V582.35M806 334.15V582.35M823.56 334.15V582.35M841.12 334.15V582.35M858.67 334.15V582.35M876.22 334.15V582.35M893.78 334.15V582.35M911.34 334.15V582.35M928.89 334.15V582.35M946.44 334.15V582.35M964 334.15V582.35M981.55 334.15V582.35M999.11 334.15V582.35M1016.66 334.15V582.35M611.65 335.4H1017.91M611.65 352.95H1017.91M611.65 370.5H1017.91M611.65 388.05H1017.91M611.65 405.6H1017.91M611.65 423.15H1017.91M611.65 440.7H1017.91M611.65 458.25H1017.91M611.65 475.8H1017.91M611.65 493.35H1017.91M611.65 510.9H1017.91M611.65 528.45H1017.91M611.65 546H1017.91M611.65 563.55H1017.91M611.65 581.1H1017.91" stroke="#000" stroke-width="2.5" fill="none"/>
<text x="814.78" y="326.9" text-anchor="middle" font-size="31.5" fill="#000">(f) Canary</text>
<text x="602.3" y="342.6" text-anchor="end" font-size="29" fill="#262626">43N</text>
<text x="602.3" y="588.3" text-anchor="end" font-size="29" fill="#262626">16N</text>
<path fill="#f4f4ff" d="M648.01 689.2h17.86v17.85h-17.86zM683.12 776.95h17.86v17.85h-17.86z"/><path fill="#ffe9e9" d="M648.01 706.75h17.86v17.85h-17.86z"/><path fill="#fff4f4" d="M911.34 706.75h17.86v17.85h-17.86zM648.01 724.3h17.86v17.85h-17.86zM718.23 724.3h17.86v17.85h-17.86z"/><path fill="#e9e9ff" d="M893.78 724.3h17.86v17.85h-17.86zM893.78 741.85h17.86v17.85h-17.86zM665.56 759.4h17.86v17.85h-17.86zM999.11 759.4h17.86v17.85h-17.86zM964 776.95h17.86v17.85h-17.86zM893.78 864.7h17.86v17.85h-17.86z"/><path fill="#d2d2ff" d="M648.01 741.85h17.86v17.85h-17.86zM823.56 794.5h17.86v17.85h-17.86zM753.34 864.7h17.86v17.85h-17.86z"/><path fill="#fff6f6" d="M718.23 741.85h17.86v17.85h-17.86z"/><path fill="#f8f8ff" d="M648.01 759.4h17.86v17.85h-17.86zM911.34 759.4h17.86v17.85h-17.86z"/><path fill="#ddddff" d="M876.22 759.4h17.86v17.85h-17.86zM893.78 759.4h17.86v17.85h-17.86zM700.67 776.95h17.86v17.85h-17.86zM788.45 776.95h17.86v17.85h-17.86zM964 794.5h17.86v17.85h-17.86z"/><path fill="#c7c7ff" d="M630.45 776.95h17.86v17.85h-17.86zM841.12 776.95h17.86v17.85h-17.86zM612.9 794.5h17.86v17.85h-17.86zM683.12 794.5h17.86v17.85h-17.86zM700.67 794.5h17.86v17.85h-17.86zM946.44 794.5h17.86v17.85h-17.86zM648.01 812.05h17.86v17.85h-17.86zM806 829.6h17.86v17.85h-17.86zM876.22 829.6h17.86v17.85h-17.86zM911.34 864.7h17.86v17.85h-17.86z"/><path fill="#9999ff" d="M648.01 776.95h17.86v17.85h-17.86zM770.89 794.5h17.86v17.85h-17.86zM876.22 794.5h17.86v17.85h-17.86zM999.11 794.5h17.86v17.85h-17.86zM753.34 829.6h17.86v17.85h-17.86z"/><path fill="#bbbbff" d="M665.56 776.95h17.86v17.85h-17.86zM876.22 776.95h17.86v17.85h-17.86zM928.89 776.95h17.86v17.85h-17.86zM999.11 776.95h17.86v17.85h-17.86zM648.01 794.5h17.86v17.85h-17.86zM718.23 812.05h17.86v17.85h-17.86zM928.89 864.7h17.86v17.85h-17.86z"/><path fill="#efefff" d="M718.23 776.95h17.86v17.85h-17.86z"/><path fill="#a4a4ff" d="M893.78 776.95h17.86v17.85h-17.86zM718.23 794.5h17.86v17.85h-17.86zM700.67 847.15h17.86v17.85h-17.86z"/><path fill="#7474ff" d="M911.34 776.95h17.86v17.85h-17.86zM928.89 794.5h17.86v17.85h-17.86zM700.67 812.05h17.86v17.85h-17.86zM753.34 812.05h17.86v17.85h-17.86zM630.45 829.6h17.86v17.85h-17.86zM964 829.6h17.86v17.85h-17.86zM718.23 864.7h17.86v17.85h-17.86z"/><path fill="#8d8dff" d="M630.45 794.5h17.86v17.85h-17.86zM665.56 794.5h17.86v17.85h-17.86zM700.67 829.6h17.86v17.85h-17.86zM841.12 864.7h17.86v17.85h-17.86z"/><path fill="#5b5bff" d="M735.78 794.5h17.86v17.85h-17.86zM612.9 812.05h17.86v17.85h-17.86zM735.78 812.05h17.86v17.85h-17.86zM893.78 812.05h17.86v17.85h-17.86zM999.11 812.05h17.86v17.85h-17.86zM718.23 829.6h17.86v17.85h-17.86zM858.67 829.6h17.86v17.85h-17.86zM928.89 829.6h17.86v17.85h-17.86zM876.22 847.15h17.86v17.85h-17.86z"/><path fill="#1111ff" d="M788.45 794.5h17.86v17.85h-17.86zM911.34 794.5h17.86v17.85h-17.86zM665.56 812.05h17.86v17.85h-17.86zM770.89 812.05h17.86v17.85h-17.86zM788.45 812.05h17.86v17.85h-17.86zM841.12 812.05h17.86v17.85h-17.86zM911.34 812.05h17.86v17.85h-17.86zM964 812.05h17.86v17.85h-17.86zM981.55 812.05h17.86v17.85h-17.86zM612.9 829.6h17.86v17.85h-17.86zM665.56 829.6h17.86v17.85h-17.86zM823.56 829.6h17.86v17.85h-17.86zM841.12 829.6h17.86v17.85h-17.86zM893.78 829.6h17.86v17.85h-17.86zM911.34 829.6h17.86v17.85h-17.86zM946.44 829.6h17.86v17.85h-17.86zM612.9 847.15h17.86v17.85h-17.86zM648.01 847.15h17.86v17.85h-17.86zM665.56 847.15h17.86v17.85h-17.86zM683.12 847.15h17.86v17.85h-17.86zM770.89 847.15h17.86v17.85h-17.86zM788.45 847.15h17.86v17.85h-17.86zM806 847.15h17.86v17.85h-17.86zM823.56 847.15h17.86v17.85h-17.86zM841.12 847.15h17.86v17.85h-17.86zM893.78 847.15h17.86v17.85h-17.86zM911.34 847.15h17.86v17.85h-17.86zM946.44 847.15h17.86v17.85h-17.86zM964 847.15h17.86v17.85h-17.86zM999.11 847.15h17.86v17.85h-17.86zM612.9 864.7h17.86v17.85h-17.86zM630.45 864.7h17.86v17.85h-17.86zM665.56 864.7h17.86v17.85h-17.86zM683.12 864.7h17.86v17.85h-17.86zM700.67 864.7h17.86v17.85h-17.86zM735.78 864.7h17.86v17.85h-17.86zM770.89 864.7h17.86v17.85h-17.86zM788.45 864.7h17.86v17.85h-17.86zM806 864.7h17.86v17.85h-17.86zM823.56 864.7h17.86v17.85h-17.86zM858.67 864.7h17.86v17.85h-17.86zM946.44 864.7h17.86v17.85h-17.86zM964 864.7h17.86v17.85h-17.86zM981.55 864.7h17.86v17.85h-17.86zM999.11 864.7h17.86v17.85h-17.86z"/><path fill="#6868ff" d="M841.12 794.5h17.86v17.85h-17.86zM981.55 794.5h17.86v17.85h-17.86zM928.89 812.05h17.86v17.85h-17.86zM683.12 829.6h17.86v17.85h-17.86zM630.45 847.15h17.86v17.85h-17.86zM876.22 864.7h17.86v17.85h-17.86z"/><path fill="#8181ff" d="M858.67 794.5h17.86v17.85h-17.86zM893.78 794.5h17.86v17.85h-17.86zM876.22 812.05h17.86v17.85h-17.86zM858.67 847.15h17.86v17.85h-17.86zM648.01 864.7h17.86v17.85h-17.86z"/><path fill="#2121ff" d="M630.45 812.05h17.86v17.85h-17.86zM823.56 812.05h17.86v17.85h-17.86z"/><path fill="#b0b0ff" d="M683.12 812.05h17.86v17.85h-17.86z"/><path fill="#3030ff" d="M858.67 812.05h17.86v17.85h-17.86zM946.44 812.05h17.86v17.85h-17.86zM648.01 829.6h17.86v17.85h-17.86zM735.78 829.6h17.86v17.85h-17.86zM788.45 829.6h17.86v17.85h-17.86zM999.11 829.6h17.86v17.85h-17.86zM718.23 847.15h17.86v17.85h-17.86zM753.34 847.15h17.86v17.85h-17.86z"/><path fill="#3f3fff" d="M770.89 829.6h17.86v17.85h-17.86zM981.55 829.6h17.86v17.85h-17.86zM928.89 847.15h17.86v17.85h-17.86zM981.55 847.15h17.86v17.85h-17.86z"/><path fill="#4d4dff" d="M735.78 847.15h17.86v17.85h-17.86z"/>
<path d="M1003.69 728.88L1012.09 737.28M1003.69 737.28L1012.09 728.88M880.8 746.42L889.2 754.83M880.8 754.83L889.2 746.42M1003.69 746.42L1012.09 754.83M1003.69 754.83L1012.09 746.42M670.14 763.98L678.54 772.38M670.14 772.38L678.54 763.98M880.8 763.98L889.2 772.38M880.8 772.38L889.2 763.98M1003.69 763.98L1012.09 772.38M1003.69 772.38L1012.09 763.98M635.03 781.52L643.43 789.93M635.03 789.93L643.43 781.52M652.59 781.52L660.99 789.93M652.59 789.93L660.99 781.52M670.14 781.52L678.54 789.93M670.14 789.93L678.54 781.52M775.47 781.52L783.87 789.93M775.47 789.93L783.87 781.52M793.03 781.52L801.43 789.93M793.03 789.93L801.43 781.52M828.14 781.52L836.54 789.93M828.14 789.93L836.54 781.52M845.69 781.52L854.09 789.93M845.69 789.93L854.09 781.52M898.36 781.52L906.76 789.93M898.36 789.93L906.76 781.52M915.91 781.52L924.31 789.93M915.91 789.93L924.31 781.52M933.47 781.52L941.87 789.93M933.47 789.93L941.87 781.52M1003.69 781.52L1012.09 789.93M1003.69 789.93L1012.09 781.52M617.48 799.07L625.88 807.48M617.48 807.48L625.88 799.07M635.03 799.07L643.43 807.48M635.03 807.48L643.43 799.07M670.14 799.07L678.54 807.48M670.14 807.48L678.54 799.07M687.7 799.07L696.1 807.48M687.7 807.48L696.1 799.07M705.25 799.07L713.65 807.48M705.25 807.48L713.65 799.07M740.36 799.07L748.76 807.48M740.36 807.48L748.76 799.07M775.47 799.07L783.87 807.48M775.47 807.48L783.87 799.07M793.03 799.07L801.43 807.48M793.03 807.48L801.43 799.07M828.14 799.07L836.54 807.48M828.14 807.48L836.54 799.07M845.69 799.07L854.09 807.48M845.69 807.48L854.09 799.07M863.25 799.07L871.65 807.48M863.25 807.48L871.65 799.07M898.36 799.07L906.76 807.48M898.36 807.48L906.76 799.07M915.91 799.07L924.31 807.48M915.91 807.48L924.31 799.07M933.47 799.07L941.87 807.48M933.47 807.48L941.87 799.07M951.02 799.07L959.42 807.48M951.02 807.48L959.42 799.07M968.58 799.07L976.98 807.48M968.58 807.48L976.98 799.07M986.13 799.07L994.53 807.48M986.13 807.48L994.53 799.07M1003.69 799.07L1012.09 807.48M1003.69 807.48L1012.09 799.07M617.48 816.62L625.88 825.03M617.48 825.03L625.88 816.62M635.03 816.62L643.43 825.03M635.03 825.03L643.43 816.62M670.14 816.62L678.54 825.03M670.14 825.03L678.54 816.62M705.25 816.62L713.65 825.03M705.25 825.03L713.65 816.62M722.81 816.62L731.21 825.03M722.81 825.03L731.21 816.62M740.36 816.62L748.76 825.03M740.36 825.03L748.76 816.62M757.92 816.62L766.32 825.03M757.92 825.03L766.32 816.62M775.47 816.62L783.87 825.03M775.47 825.03L783.87 816.62M793.03 816.62L801.43 825.03M793.03 825.03L801.43 816.62M828.14 816.62L836.54 825.03M828.14 825.03L836.54 816.62M845.69 816.62L854.09 825.03M845.69 825.03L854.09 816.62M863.25 816.62L871.65 825.03M863.25 825.03L871.65 816.62M898.36 816.62L906.76 825.03M898.36 825.03L906.76 816.62M915.91 816.62L924.31 825.03M915.91 825.03L924.31 816.62M933.47 816.62L941.87 825.03M933.47 825.03L941.87 816.62M951.02 816.62L959.42 825.03M951.02 825.03L959.42 816.62M968.58 816.62L976.98 825.03M968.58 825.03L976.98 816.62M986.13 816.62L994.53 825.03M986.13 825.03L994.53 816.62M1003.69 816.62L1012.09 825.03M1003.69 825.03L1012.09 816.62M617.48 834.17L625.88 842.58M617.48 842.58L625.88 834.17M635.03 834.17L643.43 842.58M635.03 842.58L643.43 834.17M652.59 834.17L660.99 842.58M652.59 842.58L660.99 834.17M670.14 834.17L678.54 842.58M670.14 842.58L678.54 834.17M722.81 834.17L731.21 842.58M722.81 842.58L731.21 834.17M740.36 834.17L748.76 842.58M740.36 842.58L748.76 834.17M775.47 834.17L783.87 842.58M775.47 842.58L783.87 834.17M793.03 834.17L801.43 842.58M793.03 842.58L801.43 834.17M828.14 834.17L836.54 842.58M828.14 842.58L836.54 834.17M845.69 834.17L854.09 842.58M845.69 842.58L854.09 834.17M863.25 834.17L871.65 842.58M863.25 842.58L871.65 834.17M898.36 834.17L906.76 842.58M898.36 842.58L906.76 834.17M915.91 834.17L924.31 842.58M915.91 842.58L924.31 834.17M933.47 834.17L941.87 842.58M933.47 842.58L941.87 834.17M951.02 834.17L959.42 842.58M951.02 842.58L959.42 834.17M968.58 834.17L976.98 842.58M968.58 842.58L976.98 834.17M986.13 834.17L994.53 842.58M986.13 842.58L994.53 834.17M1003.69 834.17L1012.09 842.58M1003.69 842.58L1012.09 834.17M617.48 851.73L625.88 860.13M617.48 860.13L625.88 851.73M635.03 851.73L643.43 860.13M635.03 860.13L643.43 851.73M652.59 851.73L660.99 860.13M652.59 860.13L660.99 851.73M670.14 851.73L678.54 860.13M670.14 860.13L678.54 851.73M687.7 851.73L696.1 860.13M687.7 860.13L696.1 851.73M705.25 851.73L713.65 860.13M705.25 860.13L713.65 851.73M722.81 851.73L731.21 860.13M722.81 860.13L731.21 851.73M740.36 851.73L748.76 860.13M740.36 860.13L748.76 851.73M757.92 851.73L766.32 860.13M757.92 860.13L766.32 851.73M775.47 851.73L783.87 860.13M775.47 860.13L783.87 851.73M793.03 851.73L801.43 860.13M793.03 860.13L801.43 851.73M810.58 851.73L818.98 860.13M810.58 860.13L818.98 851.73M828.14 851.73L836.54 860.13M828.14 860.13L836.54 851.73M845.69 851.73L854.09 860.13M845.69 860.13L854.09 851.73M898.36 851.73L906.76 860.13M898.36 860.13L906.76 851.73M915.91 851.73L924.31 860.13M915.91 860.13L924.31 851.73M933.47 851.73L941.87 860.13M933.47 860.13L941.87 851.73M951.02 851.73L959.42 860.13M951.02 860.13L959.42 851.73M968.58 851.73L976.98 860.13M968.58 860.13L976.98 851.73M986.13 851.73L994.53 860.13M986.13 860.13L994.53 851.73M1003.69 851.73L1012.09 860.13M1003.69 860.13L1012.09 851.73M617.48 869.27L625.88 877.68M617.48 877.68L625.88 869.27M635.03 869.27L643.43 877.68M635.03 877.68L643.43 869.27M652.59 869.27L660.99 877.68M652.59 877.68L660.99 869.27M670.14 869.27L678.54 877.68M670.14 877.68L678.54 869.27M687.7 869.27L696.1 877.68M687.7 877.68L696.1 869.27M705.25 869.27L713.65 877.68M705.25 877.68L713.65 869.27M722.81 869.27L731.21 877.68M722.81 877.68L731.21 869.27M740.36 869.27L748.76 877.68M740.36 877.68L748.76 869.27M775.47 869.27L783.87 877.68M775.47 877.68L783.87 869.27M793.03 869.27L801.43 877.68M793.03 877.68L801.43 869.27M810.58 869.27L818.98 877.68M810.58 877.68L818.98 869.27M828.14 869.27L836.54 877.68M828.14 877.68L836.54 869.27M845.69 869.27L854.09 877.68M845.69 877.68L854.09 869.27M863.25 869.27L871.65 877.68M863.25 877.68L871.65 869.27M933.47 869.27L941.87 877.68M933.47 877.68L941.87 869.27M951.02 869.27L959.42 877.68M951.02 877.68L959.42 869.27M968.58 869.27L976.98 877.68M968.58 877.68L976.98 869.27M986.13 869.27L994.53 877.68M986.13 877.68L994.53 869.27M1003.69 869.27L1012.09 877.68M1003.69 877.68L1012.09 869.27" stroke="#000" stroke-width="1.05" fill="none"/>
<path d="M612.9 652.85V883.5M630.45 652.85V883.5M648.01 652.85V883.5M665.56 652.85V883.5M683.12 652.85V883.5M700.67 652.85V883.5M718.23 652.85V883.5M735.78 652.85V883.5M753.34 652.85V883.5M770.89 652.85V883.5M788.45 652.85V883.5M806 652.85V883.5M823.56 652.85V883.5M841.12 652.85V883.5M858.67 652.85V883.5M876.22 652.85V883.5M893.78 652.85V883.5M911.34 652.85V883.5M928.89 652.85V883.5M946.44 652.85V883.5M964 652.85V883.5M981.55 652.85V883.5M999.11 652.85V883.5M1016.66 652.85V883.5M611.65 654.1H1017.91M611.65 671.65H1017.91M611.65 689.2H1017.91M611.65 706.75H1017.91M611.65 724.3H1017.91M611.65 741.85H1017.91M611.65 759.4H1017.91M611.65 776.95H1017.91M611.65 794.5H1017.91M611.65 812.05H1017.91M611.65 829.6H1017.91M611.65 847.15H1017.91M611.65 864.7H1017.91M611.65 882.25H1017.91" stroke="#000" stroke-width="2.5" fill="none"/>
<text x="814.78" y="645.6" text-anchor="middle" font-size="31.5" fill="#000">(g) Humboldt</text>
<text x="600.8" y="661.3" text-anchor="end" font-size="29" fill="#262626">16S</text>
<text x="600.8" y="889.45" text-anchor="end" font-size="29" fill="#262626">41S</text>
<path fill="#f4f4ff" d="M630.45 1055.7h17.86v17.85h-17.86zM928.89 1055.7h17.86v17.85h-17.86zM999.11 1055.7h17.86v17.85h-17.86zM735.78 1073.25h17.86v17.85h-17.86zM823.56 1073.25h17.86v17.85h-17.86zM981.55 1073.25h17.86v17.85h-17.86z"/><path fill="#e9e9ff" d="M683.12 1055.7h17.86v17.85h-17.86zM981.55 1055.7h17.86v17.85h-17.86zM612.9 1073.25h17.86v17.85h-17.86zM946.44 1073.25h17.86v17.85h-17.86zM700.67 1090.8h17.86v17.85h-17.86zM823.56 1090.8h17.86v17.85h-17.86z"/><path fill="#fff6f6" d="M770.89 1055.7h17.86v17.85h-17.86zM946.44 1055.7h17.86v17.85h-17.86z"/><path fill="#ddddff" d="M876.22 1055.7h17.86v17.85h-17.86zM648.01 1073.25h17.86v17.85h-17.86zM753.34 1073.25h17.86v17.85h-17.86zM876.22 1073.25h17.86v17.85h-17.86zM893.78 1073.25h17.86v17.85h-17.86zM911.34 1073.25h17.86v17.85h-17.86zM928.89 1073.25h17.86v17.85h-17.86zM999.11 1073.25h17.86v17.85h-17.86zM735.78 1090.8h17.86v17.85h-17.86z"/><path fill="#b0b0ff" d="M683.12 1073.25h17.86v17.85h-17.86zM788.45 1073.25h17.86v17.85h-17.86zM981.55 1090.8h17.86v17.85h-17.86zM806 1108.35h17.86v17.85h-17.86z"/><path fill="#c7c7ff" d="M700.67 1073.25h17.86v17.85h-17.86zM770.89 1073.25h17.86v17.85h-17.86zM841.12 1073.25h17.86v17.85h-17.86z"/><path fill="#9999ff" d="M858.67 1073.25h17.86v17.85h-17.86zM665.56 1090.8h17.86v17.85h-17.86z"/><path fill="#ffefef" d="M964 1073.25h17.86v17.85h-17.86z"/><path fill="#ffd2d2" d="M612.9 1090.8h17.86v17.85h-17.86zM981.55 1108.35h17.86v17.85h-17.86z"/><path fill="#6868ff" d="M630.45 1090.8h17.86v17.85h-17.86zM770.89 1090.8h17.86v17.85h-17.86zM630.45 1108.35h17.86v17.85h-17.86zM876.22 1108.35h17.86v17.85h-17.86z"/><path fill="#5b5bff" d="M648.01 1090.8h17.86v17.85h-17.86zM788.45 1108.35h17.86v17.85h-17.86z"/><path fill="#8181ff" d="M683.12 1090.8h17.86v17.85h-17.86zM753.34 1090.8h17.86v17.85h-17.86zM946.44 1090.8h17.86v17.85h-17.86zM999.11 1090.8h17.86v17.85h-17.86z"/><path fill="#f8f8ff" d="M718.23 1090.8h17.86v17.85h-17.86zM928.89 1090.8h17.86v17.85h-17.86z"/><path fill="#a4a4ff" d="M788.45 1090.8h17.86v17.85h-17.86z"/><path fill="#bbbbff" d="M806 1090.8h17.86v17.85h-17.86zM648.01 1108.35h17.86v17.85h-17.86zM823.56 1108.35h17.86v17.85h-17.86z"/><path fill="#1111ff" d="M841.12 1090.8h17.86v17.85h-17.86zM858.67 1090.8h17.86v17.85h-17.86zM893.78 1090.8h17.86v17.85h-17.86zM911.34 1090.8h17.86v17.85h-17.86zM964 1090.8h17.86v17.85h-17.86zM665.56 1108.35h17.86v17.85h-17.86zM718.23 1108.35h17.86v17.85h-17.86zM841.12 1108.35h17.86v17.85h-17.86zM893.78 1108.35h17.86v17.85h-17.86zM911.34 1108.35h17.86v17.85h-17.86zM946.44 1108.35h17.86v17.85h-17.86z"/><path fill="#fff4f4" d="M876.22 1090.8h17.86v17.85h-17.86z"/><path fill="#d2d2ff" d="M612.9 1108.35h17.86v17.85h-17.86z"/><path fill="#2121ff" d="M683.12 1108.35h17.86v17.85h-17.86zM753.34 1108.35h17.86v17.85h-17.86z"/><path fill="#8d8dff" d="M700.67 1108.35h17.86v17.85h-17.86zM964 1108.35h17.86v17.85h-17.86z"/><path fill="#ffc7c7" d="M735.78 1108.35h17.86v17.85h-17.86z"/><path fill="#3f3fff" d="M770.89 1108.35h17.86v17.85h-17.86z"/><path fill="#3030ff" d="M858.67 1108.35h17.86v17.85h-17.86z"/><path fill="#ffe9e9" d="M928.89 1108.35h17.86v17.85h-17.86z"/><path fill="#4d4dff" d="M999.11 1108.35h17.86v17.85h-17.86z"/>
<path d="M1003.69 990.07L1012.09 998.48M1003.69 998.48L1012.09 990.07M1003.69 1042.73L1012.09 1051.13M1003.69 1051.13L1012.09 1042.73M687.7 1060.28L696.1 1068.68M687.7 1068.68L696.1 1060.28M863.25 1060.28L871.65 1068.68M863.25 1068.68L871.65 1060.28M1003.69 1060.28L1012.09 1068.68M1003.69 1068.68L1012.09 1060.28M652.59 1077.83L660.99 1086.23M652.59 1086.23L660.99 1077.83M687.7 1077.83L696.1 1086.23M687.7 1086.23L696.1 1077.83M757.92 1077.83L766.32 1086.23M757.92 1086.23L766.32 1077.83M775.47 1077.83L783.87 1086.23M775.47 1086.23L783.87 1077.83M793.03 1077.83L801.43 1086.23M793.03 1086.23L801.43 1077.83M845.69 1077.83L854.09 1086.23M845.69 1086.23L854.09 1077.83M863.25 1077.83L871.65 1086.23M863.25 1086.23L871.65 1077.83M1003.69 1077.83L1012.09 1086.23M1003.69 1086.23L1012.09 1077.83M635.03 1095.38L643.43 1103.78M635.03 1103.78L643.43 1095.38M652.59 1095.38L660.99 1103.78M652.59 1103.78L660.99 1095.38M670.14 1095.38L678.54 1103.78M670.14 1103.78L678.54 1095.38M687.7 1095.38L696.1 1103.78M687.7 1103.78L696.1 1095.38M757.92 1095.38L766.32 1103.78M757.92 1103.78L766.32 1095.38M775.47 1095.38L783.87 1103.78M775.47 1103.78L783.87 1095.38M793.03 1095.38L801.43 1103.78M793.03 1103.78L801.43 1095.38M845.69 1095.38L854.09 1103.78M845.69 1103.78L854.09 1095.38M863.25 1095.38L871.65 1103.78M863.25 1103.78L871.65 1095.38M898.36 1095.38L906.76 1103.78M898.36 1103.78L906.76 1095.38M915.91 1095.38L924.31 1103.78M915.91 1103.78L924.31 1095.38M951.02 1095.38L959.42 1103.78M951.02 1103.78L959.42 1095.38M968.58 1095.38L976.98 1103.78M968.58 1103.78L976.98 1095.38M1003.69 1095.38L1012.09 1103.78M1003.69 1103.78L1012.09 1095.38M635.03 1112.92L643.43 1121.33M635.03 1121.33L643.43 1112.92M652.59 1112.92L660.99 1121.33M652.59 1121.33L660.99 1112.92M670.14 1112.92L678.54 1121.33M670.14 1121.33L678.54 1112.92M687.7 1112.92L696.1 1121.33M687.7 1121.33L696.1 1112.92M722.81 1112.92L731.21 1121.33M722.81 1121.33L731.21 1112.92M757.92 1112.92L766.32 1121.33M757.92 1121.33L766.32 1112.92M775.47 1112.92L783.87 1121.33M775.47 1121.33L783.87 1112.92M793.03 1112.92L801.43 1121.33M793.03 1121.33L801.43 1112.92M845.69 1112.92L854.09 1121.33M845.69 1121.33L854.09 1112.92M863.25 1112.92L871.65 1121.33M863.25 1121.33L871.65 1112.92M898.36 1112.92L906.76 1121.33M898.36 1121.33L906.76 1112.92M915.91 1112.92L924.31 1121.33M915.91 1121.33L924.31 1112.92M951.02 1112.92L959.42 1121.33M951.02 1121.33L959.42 1112.92M1003.69 1112.92L1012.09 1121.33M1003.69 1121.33L1012.09 1112.92" stroke="#000" stroke-width="1.05" fill="none"/>
<path d="M612.9 949.15V1127.15M630.45 949.15V1127.15M648.01 949.15V1127.15M665.56 949.15V1127.15M683.12 949.15V1127.15M700.67 949.15V1127.15M718.23 949.15V1127.15M735.78 949.15V1127.15M753.34 949.15V1127.15M770.89 949.15V1127.15M788.45 949.15V1127.15M806 949.15V1127.15M823.56 949.15V1127.15M841.12 949.15V1127.15M858.67 949.15V1127.15M876.22 949.15V1127.15M893.78 949.15V1127.15M911.34 949.15V1127.15M928.89 949.15V1127.15M946.44 949.15V1127.15M964 949.15V1127.15M981.55 949.15V1127.15M999.11 949.15V1127.15M1016.66 949.15V1127.15M611.65 950.4H1017.91M611.65 967.95H1017.91M611.65 985.5H1017.91M611.65 1003.05H1017.91M611.65 1020.6H1017.91M611.65 1038.15H1017.91M611.65 1055.7H1017.91M611.65 1073.25H1017.91M611.65 1090.8H1017.91M611.65 1108.35H1017.91M611.65 1125.9H1017.91" stroke="#000" stroke-width="2.5" fill="none"/>
<text x="814.78" y="941.9" text-anchor="middle" font-size="31.5" fill="#000">(h) Benguela</text>
<text x="600.8" y="957.6" text-anchor="end" font-size="29" fill="#262626">16S</text>
<text x="600.8" y="1133.1" text-anchor="end" font-size="29" fill="#262626">35S</text>
<text x="616.08" y="1159.2" text-anchor="middle" font-size="29" fill="#262626">1</text>
<text x="687.3" y="1159.2" text-anchor="middle" font-size="29" fill="#262626">5</text>
<text x="780.27" y="1159.2" text-anchor="middle" font-size="29" fill="#262626">10</text>
<text x="868.65" y="1159.2" text-anchor="middle" font-size="29" fill="#262626">15</text>
<text x="955.32" y="1159.2" text-anchor="middle" font-size="29" fill="#262626">20</text>
<text x="814.78" y="1192" text-anchor="middle" font-size="31.9" fill="#262626">Model index</text>
<g shape-rendering="crispEdges"><rect x="612" y="1210.5" width="6.94" height="27" fill="#0000ff"/><rect x="618.34" y="1210.5" width="6.94" height="27" fill="#0808ff"/><rect x="624.69" y="1210.5" width="6.94" height="27" fill="#1010ff"/><rect x="631.03" y="1210.5" width="6.94" height="27" fill="#1919ff"/><rect x="637.37" y="1210.5" width="6.94" height="27" fill="#2121ff"/><rect x="643.72" y="1210.5" width="6.94" height="27" fill="#2929ff"/><rect x="650.06" y="1210.5" width="6.94" height="27" fill="#3131ff"/><rect x="656.4" y="1210.5" width="6.94" height="27" fill="#3a3aff"/><rect x="662.75" y="1210.5" width="6.94" height="27" fill="#4242ff"/><rect x="669.09" y="1210.5" width="6.94" height="27" fill="#4a4aff"/><rect x="675.43" y="1210.5" width="6.94" height="27" fill="#5252ff"/><rect x="681.78" y="1210.5" width="6.94" height="27" fill="#5a5aff"/><rect x="688.12" y="1210.5" width="6.94" height="27" fill="#6363ff"/><rect x="694.46" y="1210.5" width="6.94" height="27" fill="#6b6bff"/><rect x="700.8" y="1210.5" width="6.94" height="27" fill="#7373ff"/><rect x="707.15" y="1210.5" width="6.94" height="27" fill="#7b7bff"/><rect x="713.49" y="1210.5" width="6.94" height="27" fill="#8484ff"/><rect x="719.83" y="1210.5" width="6.94" height="27" fill="#8c8cff"/><rect x="726.18" y="1210.5" width="6.94" height="27" fill="#9494ff"/><rect x="732.52" y="1210.5" width="6.94" height="27" fill="#9c9cff"/><rect x="738.86" y="1210.5" width="6.94" height="27" fill="#a5a5ff"/><rect x="745.21" y="1210.5" width="6.94" height="27" fill="#adadff"/><rect x="751.55" y="1210.5" width="6.94" height="27" fill="#b5b5ff"/><rect x="757.89" y="1210.5" width="6.94" height="27" fill="#bdbdff"/><rect x="764.24" y="1210.5" width="6.94" height="27" fill="#c5c5ff"/><rect x="770.58" y="1210.5" width="6.94" height="27" fill="#ceceff"/><rect x="776.92" y="1210.5" width="6.94" height="27" fill="#d6d6ff"/><rect x="783.27" y="1210.5" width="6.94" height="27" fill="#dedeff"/><rect x="789.61" y="1210.5" width="6.94" height="27" fill="#e6e6ff"/><rect x="795.95" y="1210.5" width="6.94" height="27" fill="#efefff"/><rect x="802.3" y="1210.5" width="6.94" height="27" fill="#f7f7ff"/><rect x="808.64" y="1210.5" width="6.94" height="27" fill="#ffffff"/><rect x="814.98" y="1210.5" width="6.94" height="27" fill="#ffffff"/><rect x="821.33" y="1210.5" width="6.94" height="27" fill="#fff7f7"/><rect x="827.67" y="1210.5" width="6.94" height="27" fill="#ffefef"/><rect x="834.01" y="1210.5" width="6.94" height="27" fill="#ffe6e6"/><rect x="840.36" y="1210.5" width="6.94" height="27" fill="#ffdede"/><rect x="846.7" y="1210.5" width="6.94" height="27" fill="#ffd6d6"/><rect x="853.04" y="1210.5" width="6.94" height="27" fill="#ffcece"/><rect x="859.38" y="1210.5" width="6.94" height="27" fill="#ffc5c5"/><rect x="865.73" y="1210.5" width="6.94" height="27" fill="#ffbdbd"/><rect x="872.07" y="1210.5" width="6.94" height="27" fill="#ffb5b5"/><rect x="878.41" y="1210.5" width="6.94" height="27" fill="#ffadad"/><rect x="884.76" y="1210.5" width="6.94" height="27" fill="#ffa5a5"/><rect x="891.1" y="1210.5" width="6.94" height="27" fill="#ff9c9c"/><rect x="897.44" y="1210.5" width="6.94" height="27" fill="#ff9494"/><rect x="903.79" y="1210.5" width="6.94" height="27" fill="#ff8c8c"/><rect x="910.13" y="1210.5" width="6.94" height="27" fill="#ff8484"/><rect x="916.47" y="1210.5" width="6.94" height="27" fill="#ff7b7b"/><rect x="922.82" y="1210.5" width="6.94" height="27" fill="#ff7373"/><rect x="929.16" y="1210.5" width="6.94" height="27" fill="#ff6b6b"/><rect x="935.5" y="1210.5" width="6.94" height="27" fill="#ff6363"/><rect x="941.85" y="1210.5" width="6.94" height="27" fill="#ff5a5a"/><rect x="948.19" y="1210.5" width="6.94" height="27" fill="#ff5252"/><rect x="954.53" y="1210.5" width="6.94" height="27" fill="#ff4a4a"/><rect x="960.88" y="1210.5" width="6.94" height="27" fill="#ff4242"/><rect x="967.22" y="1210.5" width="6.94" height="27" fill="#ff3a3a"/><rect x="973.56" y="1210.5" width="6.94" height="27" fill="#ff3131"/><rect x="979.91" y="1210.5" width="6.94" height="27" fill="#ff2929"/><rect x="986.25" y="1210.5" width="6.94" height="27" fill="#ff2121"/><rect x="992.59" y="1210.5" width="6.94" height="27" fill="#ff1919"/><rect x="998.94" y="1210.5" width="6.94" height="27" fill="#ff1010"/><rect x="1005.28" y="1210.5" width="6.94" height="27" fill="#ff0808"/><rect x="1011.62" y="1210.5" width="6.94" height="27" fill="#ff0000"/></g>
<rect x="612" y="1210.5" width="405.96" height="27" fill="none" stroke="#1a1a1a" stroke-width="2.2"/>
<text x="652.6" y="1269.9" text-anchor="middle" font-size="29" fill="#262626">-20</text>
<text x="733.79" y="1269.9" text-anchor="middle" font-size="29" fill="#262626">-10</text>
<text x="814.98" y="1269.9" text-anchor="middle" font-size="29" fill="#262626">0</text>
<text x="896.18" y="1269.9" text-anchor="middle" font-size="29" fill="#262626">10</text>
<text x="977.37" y="1269.9" text-anchor="middle" font-size="29" fill="#262626">20</text>
<path d="M652.6 1236.5V1233.2M733.79 1236.5V1233.2M814.98 1236.5V1233.2M896.18 1236.5V1233.2M977.37 1236.5V1233.2" stroke="#1a1a1a" stroke-width="1.8"/>
<text x="814.98" y="1300.7" text-anchor="middle" font-size="29" fill="#262626">Onset (day)</text>
<path fill="#e9e9ff" d="M1144.9 40.4h17.86v17.85h-17.86zM1197.57 40.4h17.86v17.85h-17.86zM1355.56 57.95h17.86v17.85h-17.86zM1197.57 75.5h17.86v17.85h-17.86zM1373.12 75.5h17.86v17.85h-17.86zM1390.67 75.5h17.86v17.85h-17.86zM1513.56 75.5h17.86v17.85h-17.86zM1355.56 93.05h17.86v17.85h-17.86zM1460.89 93.05h17.86v17.85h-17.86zM1425.78 110.6h17.86v17.85h-17.86zM1144.9 128.15h17.86v17.85h-17.86zM1162.46 128.15h17.86v17.85h-17.86zM1250.23 128.15h17.86v17.85h-17.86zM1531.11 128.15h17.86v17.85h-17.86zM1197.57 145.7h17.86v17.85h-17.86zM1320.45 145.7h17.86v17.85h-17.86zM1180.01 163.25h17.86v17.85h-17.86zM1180.01 180.8h17.86v17.85h-17.86zM1373.12 180.8h17.86v17.85h-17.86z"/><path fill="#ffefef" d="M1162.46 40.4h17.86v17.85h-17.86zM1180.01 75.5h17.86v17.85h-17.86zM1390.67 110.6h17.86v17.85h-17.86zM1478.45 110.6h17.86v17.85h-17.86zM1215.12 145.7h17.86v17.85h-17.86zM1408.23 180.8h17.86v17.85h-17.86z"/><path fill="#ddddff" d="M1180.01 40.4h17.86v17.85h-17.86zM1215.12 40.4h17.86v17.85h-17.86zM1338.01 40.4h17.86v17.85h-17.86zM1408.23 40.4h17.86v17.85h-17.86zM1180.01 57.95h17.86v17.85h-17.86zM1443.34 75.5h17.86v17.85h-17.86zM1425.78 93.05h17.86v17.85h-17.86zM1197.57 110.6h17.86v17.85h-17.86zM1338.01 110.6h17.86v17.85h-17.86zM1513.56 110.6h17.86v17.85h-17.86zM1513.56 128.15h17.86v17.85h-17.86zM1232.68 145.7h17.86v17.85h-17.86zM1513.56 145.7h17.86v17.85h-17.86zM1390.67 180.8h17.86v17.85h-17.86zM1531.11 233.45h17.86v17.85h-17.86z"/><path fill="#2121ff" d="M1250.23 40.4h17.86v17.85h-17.86zM1162.46 93.05h17.86v17.85h-17.86z"/><path fill="#ffbbbb" d="M1267.79 40.4h17.86v17.85h-17.86zM1390.67 40.4h17.86v17.85h-17.86zM1267.79 57.95h17.86v17.85h-17.86zM1320.45 57.95h17.86v17.85h-17.86zM1390.67 57.95h17.86v17.85h-17.86zM1302.89 75.5h17.86v17.85h-17.86zM1531.11 75.5h17.86v17.85h-17.86zM1443.34 93.05h17.86v17.85h-17.86zM1285.34 110.6h17.86v17.85h-17.86zM1320.45 110.6h17.86v17.85h-17.86zM1496 110.6h17.86v17.85h-17.86zM1373.12 128.15h17.86v17.85h-17.86zM1460.89 128.15h17.86v17.85h-17.86z"/><path fill="#ff3f3f" d="M1285.34 40.4h17.86v17.85h-17.86z"/><path fill="#ffd2d2" d="M1302.89 40.4h17.86v17.85h-17.86zM1373.12 40.4h17.86v17.85h-17.86zM1373.12 57.95h17.86v17.85h-17.86zM1460.89 57.95h17.86v17.85h-17.86zM1162.46 75.5h17.86v17.85h-17.86zM1215.12 75.5h17.86v17.85h-17.86zM1408.23 75.5h17.86v17.85h-17.86zM1215.12 93.05h17.86v17.85h-17.86zM1408.23 93.05h17.86v17.85h-17.86zM1513.56 93.05h17.86v17.85h-17.86zM1267.79 110.6h17.86v17.85h-17.86zM1302.89 110.6h17.86v17.85h-17.86zM1373.12 110.6h17.86v17.85h-17.86zM1460.89 110.6h17.86v17.85h-17.86z"/><path fill="#ffb0b0" d="M1320.45 40.4h17.86v17.85h-17.86zM1425.78 40.4h17.86v17.85h-17.86zM1478.45 40.4h17.86v17.85h-17.86zM1496 40.4h17.86v17.85h-17.86zM1425.78 57.95h17.86v17.85h-17.86zM1478.45 57.95h17.86v17.85h-17.86zM1478.45 93.05h17.86v17.85h-17.86z"/><path fill="#c7c7ff" d="M1355.56 40.4h17.86v17.85h-17.86zM1513.56 40.4h17.86v17.85h-17.86zM1180.01 93.05h17.86v17.85h-17.86zM1180.01 110.6h17.86v17.85h-17.86zM1180.01 233.45h17.86v17.85h-17.86z"/><path fill="#ffdddd" d="M1531.11 40.4h17.86v17.85h-17.86zM1460.89 75.5h17.86v17.85h-17.86zM1267.79 93.05h17.86v17.85h-17.86zM1373.12 93.05h17.86v17.85h-17.86zM1180.01 128.15h17.86v17.85h-17.86zM1302.89 128.15h17.86v17.85h-17.86z"/><path fill="#fff4f4" d="M1144.9 57.95h17.86v17.85h-17.86zM1162.46 57.95h17.86v17.85h-17.86zM1338.01 75.5h17.86v17.85h-17.86zM1355.56 110.6h17.86v17.85h-17.86zM1215.12 128.15h17.86v17.85h-17.86zM1478.45 128.15h17.86v17.85h-17.86zM1302.89 145.7h17.86v17.85h-17.86zM1408.23 198.35h17.86v17.85h-17.86zM1408.23 215.9h17.86v17.85h-17.86zM1408.23 233.45h17.86v17.85h-17.86z"/><path fill="#ffc7c7" d="M1215.12 57.95h17.86v17.85h-17.86zM1390.67 128.15h17.86v17.85h-17.86zM1390.67 145.7h17.86v17.85h-17.86z"/><path fill="#3f3fff" d="M1250.23 57.95h17.86v17.85h-17.86z"/><path fill="#ff4d4d" d="M1285.34 57.95h17.86v17.85h-17.86z"/><path fill="#ffe9e9" d="M1302.89 57.95h17.86v17.85h-17.86zM1215.12 110.6h17.86v17.85h-17.86zM1531.11 110.6h17.86v17.85h-17.86zM1408.23 128.15h17.86v17.85h-17.86zM1180.01 145.7h17.86v17.85h-17.86zM1408.23 163.25h17.86v17.85h-17.86z"/><path fill="#a4a4ff" d="M1443.34 57.95h17.86v17.85h-17.86z"/><path fill="#ff7474" d="M1496 57.95h17.86v17.85h-17.86zM1320.45 75.5h17.86v17.85h-17.86zM1478.45 75.5h17.86v17.85h-17.86zM1408.23 110.6h17.86v17.85h-17.86z"/><path fill="#d2d2ff" d="M1513.56 57.95h17.86v17.85h-17.86zM1144.9 93.05h17.86v17.85h-17.86zM1197.57 128.15h17.86v17.85h-17.86zM1320.45 128.15h17.86v17.85h-17.86z"/><path fill="#bbbbff" d="M1144.9 75.5h17.86v17.85h-17.86zM1197.57 93.05h17.86v17.85h-17.86zM1408.23 145.7h17.86v17.85h-17.86z"/><path fill="#8d8dff" d="M1250.23 75.5h17.86v17.85h-17.86zM1338.01 93.05h17.86v17.85h-17.86zM1250.23 110.6h17.86v17.85h-17.86z"/><path fill="#ff8d8d" d="M1267.79 75.5h17.86v17.85h-17.86z"/><path fill="#ff2121" d="M1285.34 75.5h17.86v17.85h-17.86zM1285.34 93.05h17.86v17.85h-17.86z"/><path fill="#ff9999" d="M1355.56 75.5h17.86v17.85h-17.86zM1425.78 75.5h17.86v17.85h-17.86zM1496 93.05h17.86v17.85h-17.86z"/><path fill="#ff6868" d="M1496 75.5h17.86v17.85h-17.86zM1302.89 93.05h17.86v17.85h-17.86zM1162.46 110.6h17.86v17.85h-17.86z"/><path fill="#9999ff" d="M1250.23 93.05h17.86v17.85h-17.86zM1232.68 110.6h17.86v17.85h-17.86zM1232.68 128.15h17.86v17.85h-17.86zM1373.12 163.25h17.86v17.85h-17.86z"/><path fill="#ff8181" d="M1320.45 93.05h17.86v17.85h-17.86z"/><path fill="#8181ff" d="M1144.9 110.6h17.86v17.85h-17.86z"/><path fill="#7474ff" d="M1443.34 110.6h17.86v17.85h-17.86z"/><path fill="#f4f4ff" d="M1425.78 128.15h17.86v17.85h-17.86zM1267.79 145.7h17.86v17.85h-17.86zM1215.12 163.25h17.86v17.85h-17.86zM1250.23 163.25h17.86v17.85h-17.86zM1285.34 163.25h17.86v17.85h-17.86zM1531.11 163.25h17.86v17.85h-17.86zM1373.12 233.45h17.86v17.85h-17.86z"/><path fill="#efefff" d="M1285.34 145.7h17.86v17.85h-17.86zM1197.57 163.25h17.86v17.85h-17.86zM1180.01 198.35h17.86v17.85h-17.86z"/><path fill="#fff8f8" d="M1478.45 145.7h17.86v17.85h-17.86zM1496 145.7h17.86v17.85h-17.86zM1232.68 163.25h17.86v17.85h-17.86zM1320.45 163.25h17.86v17.85h-17.86zM1443.34 163.25h17.86v17.85h-17.86z"/><path fill="#b0b0ff" d="M1390.67 163.25h17.86v17.85h-17.86z"/><path fill="#ffeded" d="M1513.56 163.25h17.86v17.85h-17.86z"/><path fill="#1111ff" d="M1302.89 233.45h17.86v17.85h-17.86z"/>
<path d="M1254.81 44.97L1263.21 53.38M1254.81 53.38L1263.21 44.97M1272.36 44.97L1280.76 53.38M1272.36 53.38L1280.76 44.97M1289.92 44.97L1298.32 53.38M1289.92 53.38L1298.32 44.97M1325.03 44.97L1333.43 53.38M1325.03 53.38L1333.43 44.97M1483.02 44.97L1491.42 53.38M1483.02 53.38L1491.42 44.97M1500.58 44.97L1508.98 53.38M1500.58 53.38L1508.98 44.97M1254.81 62.53L1263.21 70.93M1254.81 70.93L1263.21 62.53M1272.36 62.53L1280.76 70.93M1272.36 70.93L1280.76 62.53M1289.92 62.53L1298.32 70.93M1289.92 70.93L1298.32 62.53M1325.03 62.53L1333.43 70.93M1325.03 70.93L1333.43 62.53M1483.02 62.53L1491.42 70.93M1483.02 70.93L1491.42 62.53M1500.58 62.53L1508.98 70.93M1500.58 70.93L1508.98 62.53M1535.69 62.53L1544.09 70.93M1535.69 70.93L1544.09 62.53M1254.81 80.08L1263.21 88.48M1254.81 88.48L1263.21 80.08M1272.36 80.08L1280.76 88.48M1272.36 88.48L1280.76 80.08M1289.92 80.08L1298.32 88.48M1289.92 88.48L1298.32 80.08M1307.47 80.08L1315.87 88.48M1307.47 88.48L1315.87 80.08M1325.03 80.08L1333.43 88.48M1325.03 88.48L1333.43 80.08M1483.02 80.08L1491.42 88.48M1483.02 88.48L1491.42 80.08M1500.58 80.08L1508.98 88.48M1500.58 88.48L1508.98 80.08M1535.69 80.08L1544.09 88.48M1535.69 88.48L1544.09 80.08M1289.92 97.63L1298.32 106.03M1289.92 106.03L1298.32 97.63M1307.47 97.63L1315.87 106.03M1307.47 106.03L1315.87 97.63M1325.03 97.63L1333.43 106.03M1325.03 106.03L1333.43 97.63M1483.02 97.63L1491.42 106.03M1483.02 106.03L1491.42 97.63M1535.69 97.63L1544.09 106.03M1535.69 106.03L1544.09 97.63M1289.92 115.17L1298.32 123.58M1289.92 123.58L1298.32 115.17M1447.91 115.17L1456.31 123.58M1447.91 123.58L1456.31 115.17M1149.48 132.73L1157.88 141.12M1149.48 141.12L1157.88 132.73M1342.58 132.73L1350.98 141.12M1342.58 141.12L1350.98 132.73M1237.25 150.28L1245.65 158.68M1237.25 158.68L1245.65 150.28M1184.59 202.93L1192.99 211.33M1184.59 211.33L1192.99 202.93M1430.36 238.03L1438.76 246.43M1430.36 246.43L1438.76 238.03" stroke="#000" stroke-width="1.05" fill="none"/>
<path d="M1144.9 39.15V252.25M1162.46 39.15V252.25M1180.01 39.15V252.25M1197.57 39.15V252.25M1215.12 39.15V252.25M1232.68 39.15V252.25M1250.23 39.15V252.25M1267.79 39.15V252.25M1285.34 39.15V252.25M1302.89 39.15V252.25M1320.45 39.15V252.25M1338.01 39.15V252.25M1355.56 39.15V252.25M1373.12 39.15V252.25M1390.67 39.15V252.25M1408.23 39.15V252.25M1425.78 39.15V252.25M1443.34 39.15V252.25M1460.89 39.15V252.25M1478.45 39.15V252.25M1496 39.15V252.25M1513.56 39.15V252.25M1531.11 39.15V252.25M1548.66 39.15V252.25M1143.65 40.4H1549.91M1143.65 57.95H1549.91M1143.65 75.5H1549.91M1143.65 93.05H1549.91M1143.65 110.6H1549.91M1143.65 128.15H1549.91M1143.65 145.7H1549.91M1143.65 163.25H1549.91M1143.65 180.8H1549.91M1143.65 198.35H1549.91M1143.65 215.9H1549.91M1143.65 233.45H1549.91M1143.65 251H1549.91" stroke="#000" stroke-width="2.5" fill="none"/>
<text x="1346.78" y="31.9" text-anchor="middle" font-size="31.5" fill="#000">(i) California</text>
<text x="1134.3" y="47.6" text-anchor="end" font-size="29" fill="#262626">47N</text>
<text x="1134.3" y="258.2" text-anchor="end" font-size="29" fill="#262626">24N</text>
<path fill="#ff9999" d="M1144.9 335.4h17.86v17.85h-17.86zM1197.57 335.4h17.86v17.85h-17.86zM1408.23 335.4h17.86v17.85h-17.86zM1478.45 335.4h17.86v17.85h-17.86zM1531.11 335.4h17.86v17.85h-17.86zM1338.01 352.95h17.86v17.85h-17.86zM1373.12 352.95h17.86v17.85h-17.86zM1373.12 370.5h17.86v17.85h-17.86zM1250.23 388.05h17.86v17.85h-17.86zM1285.34 388.05h17.86v17.85h-17.86zM1144.9 405.6h17.86v17.85h-17.86zM1215.12 405.6h17.86v17.85h-17.86zM1285.34 405.6h17.86v17.85h-17.86zM1478.45 405.6h17.86v17.85h-17.86zM1215.12 423.15h17.86v17.85h-17.86zM1232.68 423.15h17.86v17.85h-17.86zM1355.56 423.15h17.86v17.85h-17.86zM1250.23 440.7h17.86v17.85h-17.86z"/><path fill="#ffb0b0" d="M1162.46 335.4h17.86v17.85h-17.86zM1302.89 352.95h17.86v17.85h-17.86zM1408.23 352.95h17.86v17.85h-17.86zM1320.45 370.5h17.86v17.85h-17.86zM1531.11 370.5h17.86v17.85h-17.86zM1355.56 388.05h17.86v17.85h-17.86zM1460.89 388.05h17.86v17.85h-17.86zM1531.11 388.05h17.86v17.85h-17.86zM1390.67 405.6h17.86v17.85h-17.86zM1408.23 423.15h17.86v17.85h-17.86zM1513.56 423.15h17.86v17.85h-17.86zM1197.57 440.7h17.86v17.85h-17.86zM1232.68 440.7h17.86v17.85h-17.86zM1267.79 440.7h17.86v17.85h-17.86zM1460.89 440.7h17.86v17.85h-17.86zM1531.11 458.25h17.86v17.85h-17.86z"/><path fill="#ffd2d2" d="M1180.01 335.4h17.86v17.85h-17.86zM1250.23 335.4h17.86v17.85h-17.86zM1355.56 335.4h17.86v17.85h-17.86zM1373.12 335.4h17.86v17.85h-17.86zM1443.34 335.4h17.86v17.85h-17.86zM1443.34 352.95h17.86v17.85h-17.86zM1531.11 352.95h17.86v17.85h-17.86zM1478.45 370.5h17.86v17.85h-17.86zM1144.9 388.05h17.86v17.85h-17.86zM1302.89 388.05h17.86v17.85h-17.86zM1338.01 388.05h17.86v17.85h-17.86zM1215.12 440.7h17.86v17.85h-17.86zM1408.23 440.7h17.86v17.85h-17.86zM1478.45 440.7h17.86v17.85h-17.86zM1197.57 458.25h17.86v17.85h-17.86zM1215.12 458.25h17.86v17.85h-17.86zM1425.78 458.25h17.86v17.85h-17.86z"/><path fill="#ffc7c7" d="M1215.12 335.4h17.86v17.85h-17.86zM1215.12 352.95h17.86v17.85h-17.86zM1478.45 388.05h17.86v17.85h-17.86zM1496 388.05h17.86v17.85h-17.86zM1250.23 423.15h17.86v17.85h-17.86zM1285.34 423.15h17.86v17.85h-17.86zM1338.01 423.15h17.86v17.85h-17.86z"/><path fill="#ff8d8d" d="M1285.34 335.4h17.86v17.85h-17.86zM1320.45 335.4h17.86v17.85h-17.86zM1425.78 335.4h17.86v17.85h-17.86zM1144.9 352.95h17.86v17.85h-17.86zM1390.67 352.95h17.86v17.85h-17.86zM1425.78 352.95h17.86v17.85h-17.86zM1180.01 388.05h17.86v17.85h-17.86zM1267.79 388.05h17.86v17.85h-17.86zM1443.34 388.05h17.86v17.85h-17.86zM1513.56 388.05h17.86v17.85h-17.86zM1267.79 405.6h17.86v17.85h-17.86zM1373.12 405.6h17.86v17.85h-17.86zM1425.78 405.6h17.86v17.85h-17.86zM1531.11 405.6h17.86v17.85h-17.86zM1267.79 423.15h17.86v17.85h-17.86zM1496 423.15h17.86v17.85h-17.86zM1531.11 423.15h17.86v17.85h-17.86zM1425.78 440.7h17.86v17.85h-17.86z"/><path fill="#ff2121" d="M1302.89 335.4h17.86v17.85h-17.86zM1408.23 370.5h17.86v17.85h-17.86zM1355.56 405.6h17.86v17.85h-17.86zM1320.45 423.15h17.86v17.85h-17.86zM1390.67 423.15h17.86v17.85h-17.86z"/><path fill="#ff7474" d="M1338.01 335.4h17.86v17.85h-17.86zM1390.67 370.5h17.86v17.85h-17.86zM1425.78 423.15h17.86v17.85h-17.86zM1373.12 440.7h17.86v17.85h-17.86zM1390.67 440.7h17.86v17.85h-17.86z"/><path fill="#ff8181" d="M1390.67 335.4h17.86v17.85h-17.86zM1302.89 405.6h17.86v17.85h-17.86zM1460.89 405.6h17.86v17.85h-17.86zM1531.11 440.7h17.86v17.85h-17.86z"/><path fill="#ffdddd" d="M1460.89 335.4h17.86v17.85h-17.86zM1250.23 370.5h17.86v17.85h-17.86zM1197.57 423.15h17.86v17.85h-17.86zM1285.34 440.7h17.86v17.85h-17.86zM1496 440.7h17.86v17.85h-17.86zM1232.68 458.25h17.86v17.85h-17.86zM1320.45 458.25h17.86v17.85h-17.86z"/><path fill="#ff3f3f" d="M1496 335.4h17.86v17.85h-17.86zM1320.45 405.6h17.86v17.85h-17.86zM1408.23 405.6h17.86v17.85h-17.86z"/><path fill="#ffbbbb" d="M1513.56 335.4h17.86v17.85h-17.86zM1180.01 352.95h17.86v17.85h-17.86zM1250.23 352.95h17.86v17.85h-17.86zM1355.56 352.95h17.86v17.85h-17.86zM1478.45 352.95h17.86v17.85h-17.86zM1513.56 352.95h17.86v17.85h-17.86zM1267.79 370.5h17.86v17.85h-17.86zM1338.01 370.5h17.86v17.85h-17.86zM1425.78 370.5h17.86v17.85h-17.86zM1513.56 370.5h17.86v17.85h-17.86zM1215.12 388.05h17.86v17.85h-17.86zM1373.12 388.05h17.86v17.85h-17.86zM1250.23 405.6h17.86v17.85h-17.86zM1496 405.6h17.86v17.85h-17.86zM1513.56 405.6h17.86v17.85h-17.86zM1478.45 423.15h17.86v17.85h-17.86zM1443.34 458.25h17.86v17.85h-17.86zM1460.89 458.25h17.86v17.85h-17.86zM1513.56 458.25h17.86v17.85h-17.86z"/><path fill="#3030ff" d="M1162.46 352.95h17.86v17.85h-17.86z"/><path fill="#fff4f4" d="M1197.57 352.95h17.86v17.85h-17.86zM1425.78 388.05h17.86v17.85h-17.86zM1408.23 458.25h17.86v17.85h-17.86zM1478.45 458.25h17.86v17.85h-17.86z"/><path fill="#f4f4ff" d="M1232.68 352.95h17.86v17.85h-17.86z"/><path fill="#ffa4a4" d="M1267.79 352.95h17.86v17.85h-17.86zM1285.34 352.95h17.86v17.85h-17.86zM1285.34 370.5h17.86v17.85h-17.86zM1443.34 370.5h17.86v17.85h-17.86zM1320.45 388.05h17.86v17.85h-17.86zM1144.9 423.15h17.86v17.85h-17.86z"/><path fill="#ffefef" d="M1320.45 352.95h17.86v17.85h-17.86z"/><path fill="#9999ff" d="M1496 352.95h17.86v17.85h-17.86z"/><path fill="#ff5b5b" d="M1144.9 370.5h17.86v17.85h-17.86zM1338.01 405.6h17.86v17.85h-17.86zM1180.01 423.15h17.86v17.85h-17.86z"/><path fill="#bbbbff" d="M1162.46 370.5h17.86v17.85h-17.86zM1162.46 388.05h17.86v17.85h-17.86zM1232.68 388.05h17.86v17.85h-17.86z"/><path fill="#ff6868" d="M1180.01 370.5h17.86v17.85h-17.86zM1180.01 405.6h17.86v17.85h-17.86zM1443.34 405.6h17.86v17.85h-17.86zM1373.12 423.15h17.86v17.85h-17.86zM1180.01 440.7h17.86v17.85h-17.86zM1302.89 440.7h17.86v17.85h-17.86zM1320.45 440.7h17.86v17.85h-17.86zM1443.34 440.7h17.86v17.85h-17.86z"/><path fill="#e9e9ff" d="M1215.12 370.5h17.86v17.85h-17.86zM1355.56 370.5h17.86v17.85h-17.86zM1232.68 405.6h17.86v17.85h-17.86zM1162.46 440.7h17.86v17.85h-17.86z"/><path fill="#c7c7ff" d="M1232.68 370.5h17.86v17.85h-17.86zM1197.57 405.6h17.86v17.85h-17.86z"/><path fill="#ffe9e9" d="M1302.89 370.5h17.86v17.85h-17.86zM1144.9 440.7h17.86v17.85h-17.86zM1180.01 458.25h17.86v17.85h-17.86zM1250.23 458.25h17.86v17.85h-17.86z"/><path fill="#d2d2ff" d="M1460.89 370.5h17.86v17.85h-17.86z"/><path fill="#ddddff" d="M1496 370.5h17.86v17.85h-17.86zM1390.67 388.05h17.86v17.85h-17.86z"/><path fill="#ff1111" d="M1408.23 388.05h17.86v17.85h-17.86z"/><path fill="#ff4d4d" d="M1302.89 423.15h17.86v17.85h-17.86zM1443.34 423.15h17.86v17.85h-17.86z"/><path fill="#ff3030" d="M1460.89 423.15h17.86v17.85h-17.86z"/><path fill="#b0b0ff" d="M1513.56 440.7h17.86v17.85h-17.86z"/>
<path d="M1149.48 339.97L1157.88 348.37M1149.48 348.37L1157.88 339.97M1167.03 339.97L1175.43 348.37M1167.03 348.37L1175.43 339.97M1184.59 339.97L1192.99 348.37M1184.59 348.37L1192.99 339.97M1289.92 339.97L1298.32 348.37M1289.92 348.37L1298.32 339.97M1307.47 339.97L1315.87 348.37M1307.47 348.37L1315.87 339.97M1325.03 339.97L1333.43 348.37M1325.03 348.37L1333.43 339.97M1342.58 339.97L1350.98 348.37M1342.58 348.37L1350.98 339.97M1395.25 339.97L1403.65 348.37M1395.25 348.37L1403.65 339.97M1412.8 339.97L1421.2 348.37M1412.8 348.37L1421.2 339.97M1430.36 339.97L1438.76 348.37M1430.36 348.37L1438.76 339.97M1447.91 339.97L1456.31 348.37M1447.91 348.37L1456.31 339.97M1483.02 339.97L1491.42 348.37M1483.02 348.37L1491.42 339.97M1500.58 339.97L1508.98 348.37M1500.58 348.37L1508.98 339.97M1535.69 339.97L1544.09 348.37M1535.69 348.37L1544.09 339.97M1149.48 357.52L1157.88 365.92M1149.48 365.92L1157.88 357.52M1184.59 357.52L1192.99 365.92M1184.59 365.92L1192.99 357.52M1272.36 357.52L1280.76 365.92M1272.36 365.92L1280.76 357.52M1307.47 357.52L1315.87 365.92M1307.47 365.92L1315.87 357.52M1395.25 357.52L1403.65 365.92M1395.25 365.92L1403.65 357.52M1412.8 357.52L1421.2 365.92M1412.8 365.92L1421.2 357.52M1430.36 357.52L1438.76 365.92M1430.36 365.92L1438.76 357.52M1447.91 357.52L1456.31 365.92M1447.91 365.92L1456.31 357.52M1535.69 357.52L1544.09 365.92M1535.69 365.92L1544.09 357.52M1149.48 375.07L1157.88 383.47M1149.48 383.47L1157.88 375.07M1184.59 375.07L1192.99 383.47M1184.59 383.47L1192.99 375.07M1272.36 375.07L1280.76 383.47M1272.36 383.47L1280.76 375.07M1325.03 375.07L1333.43 383.47M1325.03 383.47L1333.43 375.07M1377.69 375.07L1386.09 383.47M1377.69 383.47L1386.09 375.07M1395.25 375.07L1403.65 383.47M1395.25 383.47L1403.65 375.07M1412.8 375.07L1421.2 383.47M1412.8 383.47L1421.2 375.07M1430.36 375.07L1438.76 383.47M1430.36 383.47L1438.76 375.07M1447.91 375.07L1456.31 383.47M1447.91 383.47L1456.31 375.07M1535.69 375.07L1544.09 383.47M1535.69 383.47L1544.09 375.07M1149.48 392.62L1157.88 401.02M1149.48 401.02L1157.88 392.62M1184.59 392.62L1192.99 401.02M1184.59 401.02L1192.99 392.62M1254.81 392.62L1263.21 401.02M1254.81 401.02L1263.21 392.62M1272.36 392.62L1280.76 401.02M1272.36 401.02L1280.76 392.62M1307.47 392.62L1315.87 401.02M1307.47 401.02L1315.87 392.62M1325.03 392.62L1333.43 401.02M1325.03 401.02L1333.43 392.62M1412.8 392.62L1421.2 401.02M1412.8 401.02L1421.2 392.62M1430.36 392.62L1438.76 401.02M1430.36 401.02L1438.76 392.62M1447.91 392.62L1456.31 401.02M1447.91 401.02L1456.31 392.62M1535.69 392.62L1544.09 401.02M1535.69 401.02L1544.09 392.62M1149.48 410.17L1157.88 418.57M1149.48 418.57L1157.88 410.17M1184.59 410.17L1192.99 418.57M1184.59 418.57L1192.99 410.17M1219.7 410.17L1228.1 418.57M1219.7 418.57L1228.1 410.17M1254.81 410.17L1263.21 418.57M1254.81 418.57L1263.21 410.17M1272.36 410.17L1280.76 418.57M1272.36 418.57L1280.76 410.17M1289.92 410.17L1298.32 418.57M1289.92 418.57L1298.32 410.17M1307.47 410.17L1315.87 418.57M1307.47 418.57L1315.87 410.17M1325.03 410.17L1333.43 418.57M1325.03 418.57L1333.43 410.17M1360.14 410.17L1368.54 418.57M1360.14 418.57L1368.54 410.17M1377.69 410.17L1386.09 418.57M1377.69 418.57L1386.09 410.17M1395.25 410.17L1403.65 418.57M1395.25 418.57L1403.65 410.17M1412.8 410.17L1421.2 418.57M1412.8 418.57L1421.2 410.17M1430.36 410.17L1438.76 418.57M1430.36 418.57L1438.76 410.17M1447.91 410.17L1456.31 418.57M1447.91 418.57L1456.31 410.17M1465.47 410.17L1473.87 418.57M1465.47 418.57L1473.87 410.17M1483.02 410.17L1491.42 418.57M1483.02 418.57L1491.42 410.17M1500.58 410.17L1508.98 418.57M1500.58 418.57L1508.98 410.17M1535.69 410.17L1544.09 418.57M1535.69 418.57L1544.09 410.17M1149.48 427.72L1157.88 436.12M1149.48 436.12L1157.88 427.72M1184.59 427.72L1192.99 436.12M1184.59 436.12L1192.99 427.72M1219.7 427.72L1228.1 436.12M1219.7 436.12L1228.1 427.72M1272.36 427.72L1280.76 436.12M1272.36 436.12L1280.76 427.72M1307.47 427.72L1315.87 436.12M1307.47 436.12L1315.87 427.72M1325.03 427.72L1333.43 436.12M1325.03 436.12L1333.43 427.72M1360.14 427.72L1368.54 436.12M1360.14 436.12L1368.54 427.72M1377.69 427.72L1386.09 436.12M1377.69 436.12L1386.09 427.72M1395.25 427.72L1403.65 436.12M1395.25 436.12L1403.65 427.72M1430.36 427.72L1438.76 436.12M1430.36 436.12L1438.76 427.72M1447.91 427.72L1456.31 436.12M1447.91 436.12L1456.31 427.72M1465.47 427.72L1473.87 436.12M1465.47 436.12L1473.87 427.72M1500.58 427.72L1508.98 436.12M1500.58 436.12L1508.98 427.72M1535.69 427.72L1544.09 436.12M1535.69 436.12L1544.09 427.72M1149.48 445.27L1157.88 453.67M1149.48 453.67L1157.88 445.27M1272.36 445.27L1280.76 453.67M1272.36 453.67L1280.76 445.27M1307.47 445.27L1315.87 453.67M1307.47 453.67L1315.87 445.27M1325.03 445.27L1333.43 453.67M1325.03 453.67L1333.43 445.27M1377.69 445.27L1386.09 453.67M1377.69 453.67L1386.09 445.27M1395.25 445.27L1403.65 453.67M1395.25 453.67L1403.65 445.27M1430.36 445.27L1438.76 453.67M1430.36 453.67L1438.76 445.27M1447.91 445.27L1456.31 453.67M1447.91 453.67L1456.31 445.27M1465.47 445.27L1473.87 453.67M1465.47 453.67L1473.87 445.27M1535.69 445.27L1544.09 453.67M1535.69 453.67L1544.09 445.27M1149.48 462.82L1157.88 471.22M1149.48 471.22L1157.88 462.82M1184.59 462.82L1192.99 471.22M1184.59 471.22L1192.99 462.82M1202.14 462.82L1210.54 471.22M1202.14 471.22L1210.54 462.82M1237.25 462.82L1245.65 471.22M1237.25 471.22L1245.65 462.82M1307.47 462.82L1315.87 471.22M1307.47 471.22L1315.87 462.82M1325.03 462.82L1333.43 471.22M1325.03 471.22L1333.43 462.82M1377.69 462.82L1386.09 471.22M1377.69 471.22L1386.09 462.82M1430.36 462.82L1438.76 471.22M1430.36 471.22L1438.76 462.82M1447.91 462.82L1456.31 471.22M1447.91 471.22L1456.31 462.82M1465.47 462.82L1473.87 471.22M1465.47 471.22L1473.87 462.82M1500.58 462.82L1508.98 471.22M1500.58 471.22L1508.98 462.82M1535.69 462.82L1544.09 471.22M1535.69 471.22L1544.09 462.82M1465.47 480.37L1473.87 488.77M1465.47 488.77L1473.87 480.37M1535.69 480.37L1544.09 488.77M1535.69 488.77L1544.09 480.37M1535.69 497.93L1544.09 506.32M1535.69 506.32L1544.09 497.93M1535.69 515.47L1544.09 523.88M1535.69 523.88L1544.09 515.47M1535.69 533.02L1544.09 541.43M1535.69 541.43L1544.09 533.02" stroke="#000" stroke-width="1.05" fill="none"/>
<path d="M1144.9 334.15V582.35M1162.46 334.15V582.35M1180.01 334.15V582.35M1197.57 334.15V582.35M1215.12 334.15V582.35M1232.68 334.15V582.35M1250.23 334.15V582.35M1267.79 334.15V582.35M1285.34 334.15V582.35M1302.89 334.15V582.35M1320.45 334.15V582.35M1338.01 334.15V582.35M1355.56 334.15V582.35M1373.12 334.15V582.35M1390.67 334.15V582.35M1408.23 334.15V582.35M1425.78 334.15V582.35M1443.34 334.15V582.35M1460.89 334.15V582.35M1478.45 334.15V582.35M1496 334.15V582.35M1513.56 334.15V582.35M1531.11 334.15V582.35M1548.66 334.15V582.35M1143.65 335.4H1549.91M1143.65 352.95H1549.91M1143.65 370.5H1549.91M1143.65 388.05H1549.91M1143.65 405.6H1549.91M1143.65 423.15H1549.91M1143.65 440.7H1549.91M1143.65 458.25H1549.91M1143.65 475.8H1549.91M1143.65 493.35H1549.91M1143.65 510.9H1549.91M1143.65 528.45H1549.91M1143.65 546H1549.91M1143.65 563.55H1549.91M1143.65 581.1H1549.91" stroke="#000" stroke-width="2.5" fill="none"/>
<text x="1346.78" y="326.9" text-anchor="middle" font-size="31.5" fill="#000">(j) Canary</text>
<text x="1134.3" y="342.6" text-anchor="end" font-size="29" fill="#262626">43N</text>
<text x="1134.3" y="588.3" text-anchor="end" font-size="29" fill="#262626">16N</text>
<path fill="#efefff" d="M1180.01 689.2h17.86v17.85h-17.86zM1180.01 741.85h17.86v17.85h-17.86z"/><path fill="#9999ff" d="M1180.01 706.75h17.86v17.85h-17.86z"/><path fill="#fff4f4" d="M1425.78 706.75h17.86v17.85h-17.86zM1443.34 724.3h17.86v17.85h-17.86zM1180.01 759.4h17.86v17.85h-17.86zM1197.57 759.4h17.86v17.85h-17.86zM1285.34 794.5h17.86v17.85h-17.86zM1338.01 829.6h17.86v17.85h-17.86z"/><path fill="#3f3fff" d="M1180.01 724.3h17.86v17.85h-17.86z"/><path fill="#f4f4ff" d="M1250.23 724.3h17.86v17.85h-17.86z"/><path fill="#ffe9e9" d="M1425.78 724.3h17.86v17.85h-17.86zM1250.23 741.85h17.86v17.85h-17.86zM1425.78 741.85h17.86v17.85h-17.86zM1443.34 741.85h17.86v17.85h-17.86zM1531.11 759.4h17.86v17.85h-17.86zM1144.9 776.95h17.86v17.85h-17.86zM1478.45 776.95h17.86v17.85h-17.86z"/><path fill="#fff6f6" d="M1408.23 759.4h17.86v17.85h-17.86z"/><path fill="#ffd2d2" d="M1425.78 759.4h17.86v17.85h-17.86zM1443.34 759.4h17.86v17.85h-17.86zM1232.68 794.5h17.86v17.85h-17.86zM1390.67 794.5h17.86v17.85h-17.86zM1162.46 829.6h17.86v17.85h-17.86zM1180.01 829.6h17.86v17.85h-17.86zM1408.23 829.6h17.86v17.85h-17.86zM1408.23 847.15h17.86v17.85h-17.86zM1197.57 864.7h17.86v17.85h-17.86zM1338.01 864.7h17.86v17.85h-17.86z"/><path fill="#ff9999" d="M1180.01 776.95h17.86v17.85h-17.86zM1250.23 794.5h17.86v17.85h-17.86zM1408.23 794.5h17.86v17.85h-17.86zM1232.68 812.05h17.86v17.85h-17.86zM1408.23 812.05h17.86v17.85h-17.86zM1513.56 812.05h17.86v17.85h-17.86z"/><path fill="#ffdddd" d="M1197.57 776.95h17.86v17.85h-17.86zM1250.23 776.95h17.86v17.85h-17.86zM1460.89 776.95h17.86v17.85h-17.86z"/><path fill="#ffb0b0" d="M1215.12 776.95h17.86v17.85h-17.86zM1373.12 776.95h17.86v17.85h-17.86zM1408.23 776.95h17.86v17.85h-17.86zM1162.46 794.5h17.86v17.85h-17.86zM1513.56 794.5h17.86v17.85h-17.86zM1285.34 812.05h17.86v17.85h-17.86zM1338.01 812.05h17.86v17.85h-17.86zM1250.23 847.15h17.86v17.85h-17.86z"/><path fill="#ffc7c7" d="M1267.79 776.95h17.86v17.85h-17.86z"/><path fill="#ff6868" d="M1302.89 776.95h17.86v17.85h-17.86zM1443.34 776.95h17.86v17.85h-17.86zM1180.01 794.5h17.86v17.85h-17.86zM1460.89 794.5h17.86v17.85h-17.86zM1531.11 794.5h17.86v17.85h-17.86zM1302.89 847.15h17.86v17.85h-17.86zM1355.56 847.15h17.86v17.85h-17.86zM1232.68 864.7h17.86v17.85h-17.86z"/><path fill="#ff7474" d="M1320.45 776.95h17.86v17.85h-17.86zM1180.01 812.05h17.86v17.85h-17.86zM1197.57 812.05h17.86v17.85h-17.86zM1232.68 829.6h17.86v17.85h-17.86zM1232.68 847.15h17.86v17.85h-17.86zM1302.89 864.7h17.86v17.85h-17.86zM1408.23 864.7h17.86v17.85h-17.86z"/><path fill="#fff8f8" d="M1355.56 776.95h17.86v17.85h-17.86z"/><path fill="#ff2121" d="M1425.78 776.95h17.86v17.85h-17.86zM1267.79 794.5h17.86v17.85h-17.86zM1320.45 794.5h17.86v17.85h-17.86zM1425.78 794.5h17.86v17.85h-17.86zM1443.34 794.5h17.86v17.85h-17.86zM1478.45 794.5h17.86v17.85h-17.86zM1496 794.5h17.86v17.85h-17.86zM1144.9 812.05h17.86v17.85h-17.86zM1215.12 812.05h17.86v17.85h-17.86zM1267.79 812.05h17.86v17.85h-17.86zM1302.89 812.05h17.86v17.85h-17.86zM1320.45 812.05h17.86v17.85h-17.86zM1355.56 812.05h17.86v17.85h-17.86zM1425.78 812.05h17.86v17.85h-17.86zM1443.34 812.05h17.86v17.85h-17.86zM1460.89 812.05h17.86v17.85h-17.86zM1496 812.05h17.86v17.85h-17.86zM1144.9 829.6h17.86v17.85h-17.86zM1197.57 829.6h17.86v17.85h-17.86zM1215.12 829.6h17.86v17.85h-17.86zM1267.79 829.6h17.86v17.85h-17.86zM1285.34 829.6h17.86v17.85h-17.86zM1373.12 829.6h17.86v17.85h-17.86zM1390.67 829.6h17.86v17.85h-17.86zM1425.78 829.6h17.86v17.85h-17.86zM1460.89 829.6h17.86v17.85h-17.86zM1496 829.6h17.86v17.85h-17.86zM1215.12 847.15h17.86v17.85h-17.86zM1267.79 847.15h17.86v17.85h-17.86zM1285.34 847.15h17.86v17.85h-17.86zM1373.12 847.15h17.86v17.85h-17.86zM1390.67 847.15h17.86v17.85h-17.86zM1425.78 847.15h17.86v17.85h-17.86zM1144.9 864.7h17.86v17.85h-17.86zM1180.01 864.7h17.86v17.85h-17.86zM1215.12 864.7h17.86v17.85h-17.86zM1267.79 864.7h17.86v17.85h-17.86zM1285.34 864.7h17.86v17.85h-17.86zM1355.56 864.7h17.86v17.85h-17.86zM1373.12 864.7h17.86v17.85h-17.86zM1390.67 864.7h17.86v17.85h-17.86zM1425.78 864.7h17.86v17.85h-17.86zM1443.34 864.7h17.86v17.85h-17.86zM1460.89 864.7h17.86v17.85h-17.86zM1531.11 864.7h17.86v17.85h-17.86z"/><path fill="#ffbbbb" d="M1496 776.95h17.86v17.85h-17.86zM1197.57 794.5h17.86v17.85h-17.86zM1513.56 829.6h17.86v17.85h-17.86zM1162.46 847.15h17.86v17.85h-17.86zM1513.56 847.15h17.86v17.85h-17.86z"/><path fill="#e9e9ff" d="M1513.56 776.95h17.86v17.85h-17.86z"/><path fill="#ff8181" d="M1531.11 776.95h17.86v17.85h-17.86z"/><path fill="#ff5b5b" d="M1144.9 794.5h17.86v17.85h-17.86zM1373.12 794.5h17.86v17.85h-17.86zM1531.11 812.05h17.86v17.85h-17.86zM1302.89 829.6h17.86v17.85h-17.86zM1320.45 829.6h17.86v17.85h-17.86zM1531.11 829.6h17.86v17.85h-17.86zM1144.9 847.15h17.86v17.85h-17.86zM1478.45 847.15h17.86v17.85h-17.86z"/><path fill="#ff4d4d" d="M1215.12 794.5h17.86v17.85h-17.86zM1478.45 812.05h17.86v17.85h-17.86zM1180.01 847.15h17.86v17.85h-17.86z"/><path fill="#ff3030" d="M1302.89 794.5h17.86v17.85h-17.86zM1443.34 829.6h17.86v17.85h-17.86zM1478.45 864.7h17.86v17.85h-17.86z"/><path fill="#ff3f3f" d="M1355.56 794.5h17.86v17.85h-17.86zM1162.46 812.05h17.86v17.85h-17.86zM1373.12 812.05h17.86v17.85h-17.86zM1390.67 812.05h17.86v17.85h-17.86zM1355.56 829.6h17.86v17.85h-17.86zM1478.45 829.6h17.86v17.85h-17.86zM1443.34 847.15h17.86v17.85h-17.86zM1460.89 847.15h17.86v17.85h-17.86zM1496 847.15h17.86v17.85h-17.86zM1531.11 847.15h17.86v17.85h-17.86zM1513.56 864.7h17.86v17.85h-17.86z"/><path fill="#ffefef" d="M1250.23 829.6h17.86v17.85h-17.86z"/><path fill="#ff8d8d" d="M1197.57 847.15h17.86v17.85h-17.86zM1320.45 847.15h17.86v17.85h-17.86zM1338.01 847.15h17.86v17.85h-17.86zM1162.46 864.7h17.86v17.85h-17.86zM1320.45 864.7h17.86v17.85h-17.86zM1496 864.7h17.86v17.85h-17.86z"/><path fill="#ffa4a4" d="M1250.23 864.7h17.86v17.85h-17.86z"/>
<path d="M1430.36 693.77L1438.76 702.18M1430.36 702.18L1438.76 693.77M1184.59 711.32L1192.99 719.73M1184.59 719.73L1192.99 711.32M1184.59 728.88L1192.99 737.28M1184.59 737.28L1192.99 728.88M1412.8 746.42L1421.2 754.83M1412.8 754.83L1421.2 746.42M1430.36 746.42L1438.76 754.83M1430.36 754.83L1438.76 746.42M1535.69 746.42L1544.09 754.83M1535.69 754.83L1544.09 746.42M1149.48 763.98L1157.88 772.38M1149.48 772.38L1157.88 763.98M1307.47 763.98L1315.87 772.38M1307.47 772.38L1315.87 763.98M1377.69 763.98L1386.09 772.38M1377.69 772.38L1386.09 763.98M1430.36 763.98L1438.76 772.38M1430.36 772.38L1438.76 763.98M1447.91 763.98L1456.31 772.38M1447.91 772.38L1456.31 763.98M1500.58 763.98L1508.98 772.38M1500.58 772.38L1508.98 763.98M1535.69 763.98L1544.09 772.38M1535.69 772.38L1544.09 763.98M1149.48 781.52L1157.88 789.93M1149.48 789.93L1157.88 781.52M1167.03 781.52L1175.43 789.93M1167.03 789.93L1175.43 781.52M1202.14 781.52L1210.54 789.93M1202.14 789.93L1210.54 781.52M1219.7 781.52L1228.1 789.93M1219.7 789.93L1228.1 781.52M1254.81 781.52L1263.21 789.93M1254.81 789.93L1263.21 781.52M1272.36 781.52L1280.76 789.93M1272.36 789.93L1280.76 781.52M1307.47 781.52L1315.87 789.93M1307.47 789.93L1315.87 781.52M1325.03 781.52L1333.43 789.93M1325.03 789.93L1333.43 781.52M1360.14 781.52L1368.54 789.93M1360.14 789.93L1368.54 781.52M1377.69 781.52L1386.09 789.93M1377.69 789.93L1386.09 781.52M1412.8 781.52L1421.2 789.93M1412.8 789.93L1421.2 781.52M1430.36 781.52L1438.76 789.93M1430.36 789.93L1438.76 781.52M1447.91 781.52L1456.31 789.93M1447.91 789.93L1456.31 781.52M1465.47 781.52L1473.87 789.93M1465.47 789.93L1473.87 781.52M1483.02 781.52L1491.42 789.93M1483.02 789.93L1491.42 781.52M1500.58 781.52L1508.98 789.93M1500.58 789.93L1508.98 781.52M1535.69 781.52L1544.09 789.93M1535.69 789.93L1544.09 781.52M1149.48 799.07L1157.88 807.48M1149.48 807.48L1157.88 799.07M1167.03 799.07L1175.43 807.48M1167.03 807.48L1175.43 799.07M1184.59 799.07L1192.99 807.48M1184.59 807.48L1192.99 799.07M1202.14 799.07L1210.54 807.48M1202.14 807.48L1210.54 799.07M1219.7 799.07L1228.1 807.48M1219.7 807.48L1228.1 799.07M1272.36 799.07L1280.76 807.48M1272.36 807.48L1280.76 799.07M1307.47 799.07L1315.87 807.48M1307.47 807.48L1315.87 799.07M1325.03 799.07L1333.43 807.48M1325.03 807.48L1333.43 799.07M1360.14 799.07L1368.54 807.48M1360.14 807.48L1368.54 799.07M1377.69 799.07L1386.09 807.48M1377.69 807.48L1386.09 799.07M1395.25 799.07L1403.65 807.48M1395.25 807.48L1403.65 799.07M1430.36 799.07L1438.76 807.48M1430.36 807.48L1438.76 799.07M1447.91 799.07L1456.31 807.48M1447.91 807.48L1456.31 799.07M1465.47 799.07L1473.87 807.48M1465.47 807.48L1473.87 799.07M1483.02 799.07L1491.42 807.48M1483.02 807.48L1491.42 799.07M1500.58 799.07L1508.98 807.48M1500.58 807.48L1508.98 799.07M1535.69 799.07L1544.09 807.48M1535.69 807.48L1544.09 799.07M1149.48 816.62L1157.88 825.03M1149.48 825.03L1157.88 816.62M1167.03 816.62L1175.43 825.03M1167.03 825.03L1175.43 816.62M1184.59 816.62L1192.99 825.03M1184.59 825.03L1192.99 816.62M1202.14 816.62L1210.54 825.03M1202.14 825.03L1210.54 816.62M1219.7 816.62L1228.1 825.03M1219.7 825.03L1228.1 816.62M1272.36 816.62L1280.76 825.03M1272.36 825.03L1280.76 816.62M1289.92 816.62L1298.32 825.03M1289.92 825.03L1298.32 816.62M1307.47 816.62L1315.87 825.03M1307.47 825.03L1315.87 816.62M1325.03 816.62L1333.43 825.03M1325.03 825.03L1333.43 816.62M1360.14 816.62L1368.54 825.03M1360.14 825.03L1368.54 816.62M1377.69 816.62L1386.09 825.03M1377.69 825.03L1386.09 816.62M1395.25 816.62L1403.65 825.03M1395.25 825.03L1403.65 816.62M1430.36 816.62L1438.76 825.03M1430.36 825.03L1438.76 816.62M1447.91 816.62L1456.31 825.03M1447.91 825.03L1456.31 816.62M1465.47 816.62L1473.87 825.03M1465.47 825.03L1473.87 816.62M1483.02 816.62L1491.42 825.03M1483.02 825.03L1491.42 816.62M1500.58 816.62L1508.98 825.03M1500.58 825.03L1508.98 816.62M1535.69 816.62L1544.09 825.03M1535.69 825.03L1544.09 816.62M1149.48 834.17L1157.88 842.58M1149.48 842.58L1157.88 834.17M1167.03 834.17L1175.43 842.58M1167.03 842.58L1175.43 834.17M1184.59 834.17L1192.99 842.58M1184.59 842.58L1192.99 834.17M1202.14 834.17L1210.54 842.58M1202.14 842.58L1210.54 834.17M1219.7 834.17L1228.1 842.58M1219.7 842.58L1228.1 834.17M1237.25 834.17L1245.65 842.58M1237.25 842.58L1245.65 834.17M1272.36 834.17L1280.76 842.58M1272.36 842.58L1280.76 834.17M1289.92 834.17L1298.32 842.58M1289.92 842.58L1298.32 834.17M1307.47 834.17L1315.87 842.58M1307.47 842.58L1315.87 834.17M1325.03 834.17L1333.43 842.58M1325.03 842.58L1333.43 834.17M1360.14 834.17L1368.54 842.58M1360.14 842.58L1368.54 834.17M1377.69 834.17L1386.09 842.58M1377.69 842.58L1386.09 834.17M1395.25 834.17L1403.65 842.58M1395.25 842.58L1403.65 834.17M1430.36 834.17L1438.76 842.58M1430.36 842.58L1438.76 834.17M1447.91 834.17L1456.31 842.58M1447.91 842.58L1456.31 834.17M1465.47 834.17L1473.87 842.58M1465.47 842.58L1473.87 834.17M1483.02 834.17L1491.42 842.58M1483.02 842.58L1491.42 834.17M1500.58 834.17L1508.98 842.58M1500.58 842.58L1508.98 834.17M1518.13 834.17L1526.53 842.58M1518.13 842.58L1526.53 834.17M1535.69 834.17L1544.09 842.58M1535.69 842.58L1544.09 834.17M1149.48 851.73L1157.88 860.13M1149.48 860.13L1157.88 851.73M1167.03 851.73L1175.43 860.13M1167.03 860.13L1175.43 851.73M1184.59 851.73L1192.99 860.13M1184.59 860.13L1192.99 851.73M1202.14 851.73L1210.54 860.13M1202.14 860.13L1210.54 851.73M1219.7 851.73L1228.1 860.13M1219.7 860.13L1228.1 851.73M1237.25 851.73L1245.65 860.13M1237.25 860.13L1245.65 851.73M1254.81 851.73L1263.21 860.13M1254.81 860.13L1263.21 851.73M1272.36 851.73L1280.76 860.13M1272.36 860.13L1280.76 851.73M1289.92 851.73L1298.32 860.13M1289.92 860.13L1298.32 851.73M1307.47 851.73L1315.87 860.13M1307.47 860.13L1315.87 851.73M1325.03 851.73L1333.43 860.13M1325.03 860.13L1333.43 851.73M1342.58 851.73L1350.98 860.13M1342.58 860.13L1350.98 851.73M1360.14 851.73L1368.54 860.13M1360.14 860.13L1368.54 851.73M1377.69 851.73L1386.09 860.13M1377.69 860.13L1386.09 851.73M1395.25 851.73L1403.65 860.13M1395.25 860.13L1403.65 851.73M1430.36 851.73L1438.76 860.13M1430.36 860.13L1438.76 851.73M1447.91 851.73L1456.31 860.13M1447.91 860.13L1456.31 851.73M1465.47 851.73L1473.87 860.13M1465.47 860.13L1473.87 851.73M1483.02 851.73L1491.42 860.13M1483.02 860.13L1491.42 851.73M1500.58 851.73L1508.98 860.13M1500.58 860.13L1508.98 851.73M1518.13 851.73L1526.53 860.13M1518.13 860.13L1526.53 851.73M1535.69 851.73L1544.09 860.13M1535.69 860.13L1544.09 851.73M1149.48 869.27L1157.88 877.68M1149.48 877.68L1157.88 869.27M1167.03 869.27L1175.43 877.68M1167.03 877.68L1175.43 869.27M1184.59 869.27L1192.99 877.68M1184.59 877.68L1192.99 869.27M1219.7 869.27L1228.1 877.68M1219.7 877.68L1228.1 869.27M1237.25 869.27L1245.65 877.68M1237.25 877.68L1245.65 869.27M1254.81 869.27L1263.21 877.68M1254.81 877.68L1263.21 869.27M1272.36 869.27L1280.76 877.68M1272.36 877.68L1280.76 869.27M1289.92 869.27L1298.32 877.68M1289.92 877.68L1298.32 869.27M1307.47 869.27L1315.87 877.68M1307.47 877.68L1315.87 869.27M1325.03 869.27L1333.43 877.68M1325.03 877.68L1333.43 869.27M1360.14 869.27L1368.54 877.68M1360.14 877.68L1368.54 869.27M1377.69 869.27L1386.09 877.68M1377.69 877.68L1386.09 869.27M1395.25 869.27L1403.65 877.68M1395.25 877.68L1403.65 869.27M1412.8 869.27L1421.2 877.68M1412.8 877.68L1421.2 869.27M1430.36 869.27L1438.76 877.68M1430.36 877.68L1438.76 869.27M1447.91 869.27L1456.31 877.68M1447.91 877.68L1456.31 869.27M1465.47 869.27L1473.87 877.68M1465.47 877.68L1473.87 869.27M1483.02 869.27L1491.42 877.68M1483.02 877.68L1491.42 869.27M1500.58 869.27L1508.98 877.68M1500.58 877.68L1508.98 869.27M1518.13 869.27L1526.53 877.68M1518.13 877.68L1526.53 869.27M1535.69 869.27L1544.09 877.68M1535.69 877.68L1544.09 869.27" stroke="#000" stroke-width="1.05" fill="none"/>
<path d="M1144.9 652.85V883.5M1162.46 652.85V883.5M1180.01 652.85V883.5M1197.57 652.85V883.5M1215.12 652.85V883.5M1232.68 652.85V883.5M1250.23 652.85V883.5M1267.79 652.85V883.5M1285.34 652.85V883.5M1302.89 652.85V883.5M1320.45 652.85V883.5M1338.01 652.85V883.5M1355.56 652.85V883.5M1373.12 652.85V883.5M1390.67 652.85V883.5M1408.23 652.85V883.5M1425.78 652.85V883.5M1443.34 652.85V883.5M1460.89 652.85V883.5M1478.45 652.85V883.5M1496 652.85V883.5M1513.56 652.85V883.5M1531.11 652.85V883.5M1548.66 652.85V883.5M1143.65 654.1H1549.91M1143.65 671.65H1549.91M1143.65 689.2H1549.91M1143.65 706.75H1549.91M1143.65 724.3H1549.91M1143.65 741.85H1549.91M1143.65 759.4H1549.91M1143.65 776.95H1549.91M1143.65 794.5H1549.91M1143.65 812.05H1549.91M1143.65 829.6H1549.91M1143.65 847.15H1549.91M1143.65 864.7H1549.91M1143.65 882.25H1549.91" stroke="#000" stroke-width="2.5" fill="none"/>
<text x="1346.78" y="645.6" text-anchor="middle" font-size="31.5" fill="#000">(k) Humboldt</text>
<text x="1132.8" y="661.3" text-anchor="end" font-size="29" fill="#262626">16S</text>
<text x="1132.8" y="889.45" text-anchor="end" font-size="29" fill="#262626">41S</text>
<path fill="#fff4f4" d="M1144.9 1055.7h17.86v17.85h-17.86zM1338.01 1073.25h17.86v17.85h-17.86zM1250.23 1090.8h17.86v17.85h-17.86z"/><path fill="#fff8f8" d="M1215.12 1055.7h17.86v17.85h-17.86z"/><path fill="#fff6f6" d="M1232.68 1055.7h17.86v17.85h-17.86zM1496 1055.7h17.86v17.85h-17.86zM1513.56 1055.7h17.86v17.85h-17.86zM1285.34 1073.25h17.86v17.85h-17.86z"/><path fill="#ffe9e9" d="M1302.89 1055.7h17.86v17.85h-17.86zM1531.11 1055.7h17.86v17.85h-17.86zM1162.46 1108.35h17.86v17.85h-17.86z"/><path fill="#ffd2d2" d="M1408.23 1055.7h17.86v17.85h-17.86zM1425.78 1055.7h17.86v17.85h-17.86zM1180.01 1073.25h17.86v17.85h-17.86zM1355.56 1073.25h17.86v17.85h-17.86zM1144.9 1090.8h17.86v17.85h-17.86zM1460.89 1090.8h17.86v17.85h-17.86zM1320.45 1108.35h17.86v17.85h-17.86zM1355.56 1108.35h17.86v17.85h-17.86zM1496 1108.35h17.86v17.85h-17.86z"/><path fill="#efefff" d="M1443.34 1055.7h17.86v17.85h-17.86zM1513.56 1073.25h17.86v17.85h-17.86z"/><path fill="#ffbbbb" d="M1144.9 1073.25h17.86v17.85h-17.86zM1197.57 1073.25h17.86v17.85h-17.86zM1215.12 1073.25h17.86v17.85h-17.86zM1390.67 1073.25h17.86v17.85h-17.86zM1320.45 1090.8h17.86v17.85h-17.86zM1338.01 1090.8h17.86v17.85h-17.86zM1250.23 1108.35h17.86v17.85h-17.86zM1338.01 1108.35h17.86v17.85h-17.86zM1460.89 1108.35h17.86v17.85h-17.86z"/><path fill="#ffc7c7" d="M1162.46 1073.25h17.86v17.85h-17.86zM1373.12 1073.25h17.86v17.85h-17.86z"/><path fill="#f4f4ff" d="M1232.68 1073.25h17.86v17.85h-17.86z"/><path fill="#ffb0b0" d="M1302.89 1073.25h17.86v17.85h-17.86zM1531.11 1073.25h17.86v17.85h-17.86zM1232.68 1108.35h17.86v17.85h-17.86z"/><path fill="#ff4d4d" d="M1320.45 1073.25h17.86v17.85h-17.86zM1180.01 1090.8h17.86v17.85h-17.86z"/><path fill="#ff9999" d="M1408.23 1073.25h17.86v17.85h-17.86zM1513.56 1090.8h17.86v17.85h-17.86z"/><path fill="#ff3f3f" d="M1425.78 1073.25h17.86v17.85h-17.86zM1390.67 1090.8h17.86v17.85h-17.86z"/><path fill="#ff7474" d="M1443.34 1073.25h17.86v17.85h-17.86zM1162.46 1090.8h17.86v17.85h-17.86zM1215.12 1090.8h17.86v17.85h-17.86zM1373.12 1090.8h17.86v17.85h-17.86zM1285.34 1108.35h17.86v17.85h-17.86zM1443.34 1108.35h17.86v17.85h-17.86z"/><path fill="#ff5b5b" d="M1478.45 1073.25h17.86v17.85h-17.86z"/><path fill="#ff6868" d="M1496 1073.25h17.86v17.85h-17.86zM1267.79 1090.8h17.86v17.85h-17.86zM1302.89 1090.8h17.86v17.85h-17.86zM1373.12 1108.35h17.86v17.85h-17.86zM1390.67 1108.35h17.86v17.85h-17.86zM1478.45 1108.35h17.86v17.85h-17.86z"/><path fill="#ffa4a4" d="M1197.57 1090.8h17.86v17.85h-17.86zM1478.45 1090.8h17.86v17.85h-17.86zM1496 1090.8h17.86v17.85h-17.86zM1408.23 1108.35h17.86v17.85h-17.86z"/><path fill="#ffdddd" d="M1232.68 1090.8h17.86v17.85h-17.86zM1302.89 1108.35h17.86v17.85h-17.86zM1425.78 1108.35h17.86v17.85h-17.86z"/><path fill="#ff2121" d="M1285.34 1090.8h17.86v17.85h-17.86zM1443.34 1090.8h17.86v17.85h-17.86z"/><path fill="#ff8d8d" d="M1355.56 1090.8h17.86v17.85h-17.86zM1408.23 1090.8h17.86v17.85h-17.86zM1425.78 1090.8h17.86v17.85h-17.86zM1531.11 1090.8h17.86v17.85h-17.86zM1180.01 1108.35h17.86v17.85h-17.86zM1215.12 1108.35h17.86v17.85h-17.86zM1267.79 1108.35h17.86v17.85h-17.86zM1531.11 1108.35h17.86v17.85h-17.86z"/><path fill="#ddddff" d="M1144.9 1108.35h17.86v17.85h-17.86z"/><path fill="#ffefef" d="M1513.56 1108.35h17.86v17.85h-17.86z"/>
<path d="M1535.69 1025.17L1544.09 1033.58M1535.69 1033.58L1544.09 1025.17M1535.69 1042.73L1544.09 1051.13M1535.69 1051.13L1544.09 1042.73M1184.59 1060.28L1192.99 1068.68M1184.59 1068.68L1192.99 1060.28M1219.7 1060.28L1228.1 1068.68M1219.7 1068.68L1228.1 1060.28M1377.69 1060.28L1386.09 1068.68M1377.69 1068.68L1386.09 1060.28M1395.25 1060.28L1403.65 1068.68M1395.25 1068.68L1403.65 1060.28M1412.8 1060.28L1421.2 1068.68M1412.8 1068.68L1421.2 1060.28M1430.36 1060.28L1438.76 1068.68M1430.36 1068.68L1438.76 1060.28M1465.47 1060.28L1473.87 1068.68M1465.47 1068.68L1473.87 1060.28M1483.02 1060.28L1491.42 1068.68M1483.02 1068.68L1491.42 1060.28M1535.69 1060.28L1544.09 1068.68M1535.69 1068.68L1544.09 1060.28M1149.48 1077.83L1157.88 1086.23M1149.48 1086.23L1157.88 1077.83M1167.03 1077.83L1175.43 1086.23M1167.03 1086.23L1175.43 1077.83M1184.59 1077.83L1192.99 1086.23M1184.59 1086.23L1192.99 1077.83M1219.7 1077.83L1228.1 1086.23M1219.7 1086.23L1228.1 1077.83M1307.47 1077.83L1315.87 1086.23M1307.47 1086.23L1315.87 1077.83M1325.03 1077.83L1333.43 1086.23M1325.03 1086.23L1333.43 1077.83M1360.14 1077.83L1368.54 1086.23M1360.14 1086.23L1368.54 1077.83M1377.69 1077.83L1386.09 1086.23M1377.69 1086.23L1386.09 1077.83M1395.25 1077.83L1403.65 1086.23M1395.25 1086.23L1403.65 1077.83M1412.8 1077.83L1421.2 1086.23M1412.8 1086.23L1421.2 1077.83M1430.36 1077.83L1438.76 1086.23M1430.36 1086.23L1438.76 1077.83M1447.91 1077.83L1456.31 1086.23M1447.91 1086.23L1456.31 1077.83M1483.02 1077.83L1491.42 1086.23M1483.02 1086.23L1491.42 1077.83M1500.58 1077.83L1508.98 1086.23M1500.58 1086.23L1508.98 1077.83M1535.69 1077.83L1544.09 1086.23M1535.69 1086.23L1544.09 1077.83M1149.48 1095.38L1157.88 1103.78M1149.48 1103.78L1157.88 1095.38M1167.03 1095.38L1175.43 1103.78M1167.03 1103.78L1175.43 1095.38M1184.59 1095.38L1192.99 1103.78M1184.59 1103.78L1192.99 1095.38M1202.14 1095.38L1210.54 1103.78M1202.14 1103.78L1210.54 1095.38M1219.7 1095.38L1228.1 1103.78M1219.7 1103.78L1228.1 1095.38M1272.36 1095.38L1280.76 1103.78M1272.36 1103.78L1280.76 1095.38M1289.92 1095.38L1298.32 1103.78M1289.92 1103.78L1298.32 1095.38M1307.47 1095.38L1315.87 1103.78M1307.47 1103.78L1315.87 1095.38M1342.58 1095.38L1350.98 1103.78M1342.58 1103.78L1350.98 1095.38M1360.14 1095.38L1368.54 1103.78M1360.14 1103.78L1368.54 1095.38M1377.69 1095.38L1386.09 1103.78M1377.69 1103.78L1386.09 1095.38M1395.25 1095.38L1403.65 1103.78M1395.25 1103.78L1403.65 1095.38M1412.8 1095.38L1421.2 1103.78M1412.8 1103.78L1421.2 1095.38M1430.36 1095.38L1438.76 1103.78M1430.36 1103.78L1438.76 1095.38M1447.91 1095.38L1456.31 1103.78M1447.91 1103.78L1456.31 1095.38M1483.02 1095.38L1491.42 1103.78M1483.02 1103.78L1491.42 1095.38M1500.58 1095.38L1508.98 1103.78M1500.58 1103.78L1508.98 1095.38M1535.69 1095.38L1544.09 1103.78M1535.69 1103.78L1544.09 1095.38M1184.59 1112.92L1192.99 1121.33M1184.59 1121.33L1192.99 1112.92M1219.7 1112.92L1228.1 1121.33M1219.7 1121.33L1228.1 1112.92M1272.36 1112.92L1280.76 1121.33M1272.36 1121.33L1280.76 1112.92M1289.92 1112.92L1298.32 1121.33M1289.92 1121.33L1298.32 1112.92M1360.14 1112.92L1368.54 1121.33M1360.14 1121.33L1368.54 1112.92M1377.69 1112.92L1386.09 1121.33M1377.69 1121.33L1386.09 1112.92M1395.25 1112.92L1403.65 1121.33M1395.25 1121.33L1403.65 1112.92M1412.8 1112.92L1421.2 1121.33M1412.8 1121.33L1421.2 1112.92M1447.91 1112.92L1456.31 1121.33M1447.91 1121.33L1456.31 1112.92M1483.02 1112.92L1491.42 1121.33M1483.02 1121.33L1491.42 1112.92M1500.58 1112.92L1508.98 1121.33M1500.58 1121.33L1508.98 1112.92M1535.69 1112.92L1544.09 1121.33M1535.69 1121.33L1544.09 1112.92" stroke="#000" stroke-width="1.05" fill="none"/>
<path d="M1144.9 949.15V1127.15M1162.46 949.15V1127.15M1180.01 949.15V1127.15M1197.57 949.15V1127.15M1215.12 949.15V1127.15M1232.68 949.15V1127.15M1250.23 949.15V1127.15M1267.79 949.15V1127.15M1285.34 949.15V1127.15M1302.89 949.15V1127.15M1320.45 949.15V1127.15M1338.01 949.15V1127.15M1355.56 949.15V1127.15M1373.12 949.15V1127.15M1390.67 949.15V1127.15M1408.23 949.15V1127.15M1425.78 949.15V1127.15M1443.34 949.15V1127.15M1460.89 949.15V1127.15M1478.45 949.15V1127.15M1496 949.15V1127.15M1513.56 949.15V1127.15M1531.11 949.15V1127.15M1548.66 949.15V1127.15M1143.65 950.4H1549.91M1143.65 967.95H1549.91M1143.65 985.5H1549.91M1143.65 1003.05H1549.91M1143.65 1020.6H1549.91M1143.65 1038.15H1549.91M1143.65 1055.7H1549.91M1143.65 1073.25H1549.91M1143.65 1090.8H1549.91M1143.65 1108.35H1549.91M1143.65 1125.9H1549.91" stroke="#000" stroke-width="2.5" fill="none"/>
<text x="1346.78" y="941.9" text-anchor="middle" font-size="31.5" fill="#000">(l) Benguela</text>
<text x="1132.8" y="957.6" text-anchor="end" font-size="29" fill="#262626">16S</text>
<text x="1132.8" y="1133.1" text-anchor="end" font-size="29" fill="#262626">35S</text>
<text x="1148.08" y="1159.2" text-anchor="middle" font-size="29" fill="#262626">1</text>
<text x="1219.3" y="1159.2" text-anchor="middle" font-size="29" fill="#262626">5</text>
<text x="1312.27" y="1159.2" text-anchor="middle" font-size="29" fill="#262626">10</text>
<text x="1400.65" y="1159.2" text-anchor="middle" font-size="29" fill="#262626">15</text>
<text x="1487.32" y="1159.2" text-anchor="middle" font-size="29" fill="#262626">20</text>
<text x="1346.78" y="1192" text-anchor="middle" font-size="31.9" fill="#262626">Model index</text>
<g shape-rendering="crispEdges"><rect x="1144" y="1210.5" width="6.94" height="27" fill="#0000ff"/><rect x="1150.34" y="1210.5" width="6.94" height="27" fill="#0808ff"/><rect x="1156.69" y="1210.5" width="6.94" height="27" fill="#1010ff"/><rect x="1163.03" y="1210.5" width="6.94" height="27" fill="#1919ff"/><rect x="1169.37" y="1210.5" width="6.94" height="27" fill="#2121ff"/><rect x="1175.72" y="1210.5" width="6.94" height="27" fill="#2929ff"/><rect x="1182.06" y="1210.5" width="6.94" height="27" fill="#3131ff"/><rect x="1188.4" y="1210.5" width="6.94" height="27" fill="#3a3aff"/><rect x="1194.75" y="1210.5" width="6.94" height="27" fill="#4242ff"/><rect x="1201.09" y="1210.5" width="6.94" height="27" fill="#4a4aff"/><rect x="1207.43" y="1210.5" width="6.94" height="27" fill="#5252ff"/><rect x="1213.78" y="1210.5" width="6.94" height="27" fill="#5a5aff"/><rect x="1220.12" y="1210.5" width="6.94" height="27" fill="#6363ff"/><rect x="1226.46" y="1210.5" width="6.94" height="27" fill="#6b6bff"/><rect x="1232.8" y="1210.5" width="6.94" height="27" fill="#7373ff"/><rect x="1239.15" y="1210.5" width="6.94" height="27" fill="#7b7bff"/><rect x="1245.49" y="1210.5" width="6.94" height="27" fill="#8484ff"/><rect x="1251.83" y="1210.5" width="6.94" height="27" fill="#8c8cff"/><rect x="1258.18" y="1210.5" width="6.94" height="27" fill="#9494ff"/><rect x="1264.52" y="1210.5" width="6.94" height="27" fill="#9c9cff"/><rect x="1270.86" y="1210.5" width="6.94" height="27" fill="#a5a5ff"/><rect x="1277.21" y="1210.5" width="6.94" height="27" fill="#adadff"/><rect x="1283.55" y="1210.5" width="6.94" height="27" fill="#b5b5ff"/><rect x="1289.89" y="1210.5" width="6.94" height="27" fill="#bdbdff"/><rect x="1296.24" y="1210.5" width="6.94" height="27" fill="#c5c5ff"/><rect x="1302.58" y="1210.5" width="6.94" height="27" fill="#ceceff"/><rect x="1308.92" y="1210.5" width="6.94" height="27" fill="#d6d6ff"/><rect x="1315.27" y="1210.5" width="6.94" height="27" fill="#dedeff"/><rect x="1321.61" y="1210.5" width="6.94" height="27" fill="#e6e6ff"/><rect x="1327.95" y="1210.5" width="6.94" height="27" fill="#efefff"/><rect x="1334.3" y="1210.5" width="6.94" height="27" fill="#f7f7ff"/><rect x="1340.64" y="1210.5" width="6.94" height="27" fill="#ffffff"/><rect x="1346.98" y="1210.5" width="6.94" height="27" fill="#ffffff"/><rect x="1353.33" y="1210.5" width="6.94" height="27" fill="#fff7f7"/><rect x="1359.67" y="1210.5" width="6.94" height="27" fill="#ffefef"/><rect x="1366.01" y="1210.5" width="6.94" height="27" fill="#ffe6e6"/><rect x="1372.36" y="1210.5" width="6.94" height="27" fill="#ffdede"/><rect x="1378.7" y="1210.5" width="6.94" height="27" fill="#ffd6d6"/><rect x="1385.04" y="1210.5" width="6.94" height="27" fill="#ffcece"/><rect x="1391.38" y="1210.5" width="6.94" height="27" fill="#ffc5c5"/><rect x="1397.73" y="1210.5" width="6.94" height="27" fill="#ffbdbd"/><rect x="1404.07" y="1210.5" width="6.94" height="27" fill="#ffb5b5"/><rect x="1410.41" y="1210.5" width="6.94" height="27" fill="#ffadad"/><rect x="1416.76" y="1210.5" width="6.94" height="27" fill="#ffa5a5"/><rect x="1423.1" y="1210.5" width="6.94" height="27" fill="#ff9c9c"/><rect x="1429.44" y="1210.5" width="6.94" height="27" fill="#ff9494"/><rect x="1435.79" y="1210.5" width="6.94" height="27" fill="#ff8c8c"/><rect x="1442.13" y="1210.5" width="6.94" height="27" fill="#ff8484"/><rect x="1448.47" y="1210.5" width="6.94" height="27" fill="#ff7b7b"/><rect x="1454.82" y="1210.5" width="6.94" height="27" fill="#ff7373"/><rect x="1461.16" y="1210.5" width="6.94" height="27" fill="#ff6b6b"/><rect x="1467.5" y="1210.5" width="6.94" height="27" fill="#ff6363"/><rect x="1473.85" y="1210.5" width="6.94" height="27" fill="#ff5a5a"/><rect x="1480.19" y="1210.5" width="6.94" height="27" fill="#ff5252"/><rect x="1486.53" y="1210.5" width="6.94" height="27" fill="#ff4a4a"/><rect x="1492.88" y="1210.5" width="6.94" height="27" fill="#ff4242"/><rect x="1499.22" y="1210.5" width="6.94" height="27" fill="#ff3a3a"/><rect x="1505.56" y="1210.5" width="6.94" height="27" fill="#ff3131"/><rect x="1511.91" y="1210.5" width="6.94" height="27" fill="#ff2929"/><rect x="1518.25" y="1210.5" width="6.94" height="27" fill="#ff2121"/><rect x="1524.59" y="1210.5" width="6.94" height="27" fill="#ff1919"/><rect x="1530.94" y="1210.5" width="6.94" height="27" fill="#ff1010"/><rect x="1537.28" y="1210.5" width="6.94" height="27" fill="#ff0808"/><rect x="1543.62" y="1210.5" width="6.94" height="27" fill="#ff0000"/></g>
<rect x="1144" y="1210.5" width="405.96" height="27" fill="none" stroke="#1a1a1a" stroke-width="2.2"/>
<text x="1184.6" y="1269.9" text-anchor="middle" font-size="29" fill="#262626">-20</text>
<text x="1265.79" y="1269.9" text-anchor="middle" font-size="29" fill="#262626">-10</text>
<text x="1346.98" y="1269.9" text-anchor="middle" font-size="29" fill="#262626">0</text>
<text x="1428.18" y="1269.9" text-anchor="middle" font-size="29" fill="#262626">10</text>
<text x="1509.37" y="1269.9" text-anchor="middle" font-size="29" fill="#262626">20</text>
<path d="M1184.6 1236.5V1233.2M1265.79 1236.5V1233.2M1346.98 1236.5V1233.2M1428.18 1236.5V1233.2M1509.37 1236.5V1233.2" stroke="#1a1a1a" stroke-width="1.8"/>
<text x="1346.98" y="1300.7" text-anchor="middle" font-size="29" fill="#262626">Termination (day)</text>
<path fill="#ffd2d2" d="M1676.6 40.4h17.86v17.85h-17.86zM1746.82 40.4h17.86v17.85h-17.86zM1676.6 57.95h17.86v17.85h-17.86zM1746.82 57.95h17.86v17.85h-17.86zM1746.82 75.5h17.86v17.85h-17.86zM1764.38 75.5h17.86v17.85h-17.86zM1975.03 110.6h17.86v17.85h-17.86zM2045.25 110.6h17.86v17.85h-17.86zM1852.15 128.15h17.86v17.85h-17.86zM1852.15 145.7h17.86v17.85h-17.86zM1922.37 180.8h17.86v17.85h-17.86zM1904.81 215.9h17.86v17.85h-17.86zM1834.59 233.45h17.86v17.85h-17.86zM1904.81 233.45h17.86v17.85h-17.86z"/><path fill="#e9e9ff" d="M1694.15 40.4h17.86v17.85h-17.86zM1729.26 40.4h17.86v17.85h-17.86zM1834.59 40.4h17.86v17.85h-17.86zM1729.26 57.95h17.86v17.85h-17.86zM1834.59 57.95h17.86v17.85h-17.86zM1676.6 75.5h17.86v17.85h-17.86zM1834.59 75.5h17.86v17.85h-17.86zM2062.81 110.6h17.86v17.85h-17.86zM1764.38 145.7h17.86v17.85h-17.86zM1887.26 145.7h17.86v17.85h-17.86zM1975.03 145.7h17.86v17.85h-17.86zM2010.14 145.7h17.86v17.85h-17.86zM1746.82 163.25h17.86v17.85h-17.86zM1834.59 163.25h17.86v17.85h-17.86zM1729.26 180.8h17.86v17.85h-17.86zM1781.93 180.8h17.86v17.85h-17.86zM2027.7 180.8h17.86v17.85h-17.86zM1834.59 198.35h17.86v17.85h-17.86zM1834.59 215.9h17.86v17.85h-17.86zM1676.6 233.45h17.86v17.85h-17.86zM1746.82 233.45h17.86v17.85h-17.86zM1852.15 233.45h17.86v17.85h-17.86z"/><path fill="#ffe9e9" d="M1764.38 40.4h17.86v17.85h-17.86zM1904.81 40.4h17.86v17.85h-17.86zM1957.48 40.4h17.86v17.85h-17.86zM1852.15 57.95h17.86v17.85h-17.86zM1904.81 57.95h17.86v17.85h-17.86zM1817.04 93.05h17.86v17.85h-17.86zM1869.7 93.05h17.86v17.85h-17.86zM1975.03 93.05h17.86v17.85h-17.86zM1922.37 145.7h17.86v17.85h-17.86zM1817.04 180.8h17.86v17.85h-17.86zM1817.04 198.35h17.86v17.85h-17.86z"/><path fill="#ffb0b0" d="M1799.48 40.4h17.86v17.85h-17.86zM2045.25 57.95h17.86v17.85h-17.86zM1922.37 198.35h17.86v17.85h-17.86zM1922.37 215.9h17.86v17.85h-17.86z"/><path fill="#ddddff" d="M1817.04 40.4h17.86v17.85h-17.86zM1694.15 57.95h17.86v17.85h-17.86zM1869.7 57.95h17.86v17.85h-17.86zM1834.59 93.05h17.86v17.85h-17.86zM1922.37 93.05h17.86v17.85h-17.86zM1904.81 110.6h17.86v17.85h-17.86zM1939.92 110.6h17.86v17.85h-17.86zM2027.7 110.6h17.86v17.85h-17.86zM1746.82 128.15h17.86v17.85h-17.86zM1887.26 128.15h17.86v17.85h-17.86zM1904.81 128.15h17.86v17.85h-17.86zM2062.81 128.15h17.86v17.85h-17.86zM1834.59 145.7h17.86v17.85h-17.86zM1939.92 145.7h17.86v17.85h-17.86zM1957.48 145.7h17.86v17.85h-17.86zM1694.15 163.25h17.86v17.85h-17.86zM1711.71 163.25h17.86v17.85h-17.86zM2027.7 163.25h17.86v17.85h-17.86zM1869.7 180.8h17.86v17.85h-17.86zM1992.59 180.8h17.86v17.85h-17.86zM1729.26 198.35h17.86v17.85h-17.86zM1887.26 198.35h17.86v17.85h-17.86zM1729.26 215.9h17.86v17.85h-17.86zM1887.26 215.9h17.86v17.85h-17.86zM1992.59 215.9h17.86v17.85h-17.86zM2062.81 215.9h17.86v17.85h-17.86zM1975.03 233.45h17.86v17.85h-17.86z"/><path fill="#ffefef" d="M1852.15 40.4h17.86v17.85h-17.86zM1922.37 40.4h17.86v17.85h-17.86zM1975.03 40.4h17.86v17.85h-17.86zM2045.25 40.4h17.86v17.85h-17.86zM1799.48 57.95h17.86v17.85h-17.86zM1922.37 57.95h17.86v17.85h-17.86zM1939.92 57.95h17.86v17.85h-17.86zM1729.26 75.5h17.86v17.85h-17.86zM1764.38 93.05h17.86v17.85h-17.86zM1852.15 93.05h17.86v17.85h-17.86zM1817.04 163.25h17.86v17.85h-17.86zM1817.04 233.45h17.86v17.85h-17.86z"/><path fill="#efefff" d="M1869.7 40.4h17.86v17.85h-17.86zM2010.14 40.4h17.86v17.85h-17.86zM2010.14 57.95h17.86v17.85h-17.86zM1852.15 75.5h17.86v17.85h-17.86zM2027.7 75.5h17.86v17.85h-17.86zM1904.81 93.05h17.86v17.85h-17.86zM1939.92 93.05h17.86v17.85h-17.86zM1939.92 128.15h17.86v17.85h-17.86zM1975.03 180.8h17.86v17.85h-17.86zM2062.81 180.8h17.86v17.85h-17.86zM1887.26 233.45h17.86v17.85h-17.86zM1992.59 233.45h17.86v17.85h-17.86z"/><path fill="#bbbbff" d="M1992.59 40.4h17.86v17.85h-17.86zM1887.26 75.5h17.86v17.85h-17.86zM1781.93 93.05h17.86v17.85h-17.86zM2010.14 93.05h17.86v17.85h-17.86zM1799.48 110.6h17.86v17.85h-17.86zM1869.7 110.6h17.86v17.85h-17.86zM1887.26 110.6h17.86v17.85h-17.86zM1729.26 128.15h17.86v17.85h-17.86zM1711.71 145.7h17.86v17.85h-17.86zM1869.7 145.7h17.86v17.85h-17.86zM1799.48 163.25h17.86v17.85h-17.86zM2010.14 163.25h17.86v17.85h-17.86zM1975.03 198.35h17.86v17.85h-17.86zM2010.14 198.35h17.86v17.85h-17.86zM1869.7 215.9h17.86v17.85h-17.86z"/><path fill="#ffdddd" d="M1764.38 57.95h17.86v17.85h-17.86zM1957.48 57.95h17.86v17.85h-17.86zM1975.03 57.95h17.86v17.85h-17.86zM2027.7 57.95h17.86v17.85h-17.86zM1957.48 75.5h17.86v17.85h-17.86zM1676.6 110.6h17.86v17.85h-17.86zM1817.04 110.6h17.86v17.85h-17.86zM1852.15 110.6h17.86v17.85h-17.86zM1904.81 198.35h17.86v17.85h-17.86z"/><path fill="#c7c7ff" d="M1817.04 57.95h17.86v17.85h-17.86zM1869.7 75.5h17.86v17.85h-17.86zM1711.71 93.05h17.86v17.85h-17.86zM1869.7 128.15h17.86v17.85h-17.86zM2027.7 128.15h17.86v17.85h-17.86zM1746.82 145.7h17.86v17.85h-17.86zM1869.7 163.25h17.86v17.85h-17.86zM1711.71 180.8h17.86v17.85h-17.86zM1711.71 198.35h17.86v17.85h-17.86zM1764.38 198.35h17.86v17.85h-17.86zM1781.93 198.35h17.86v17.85h-17.86zM1869.7 198.35h17.86v17.85h-17.86zM1957.48 198.35h17.86v17.85h-17.86zM1711.71 215.9h17.86v17.85h-17.86zM2010.14 215.9h17.86v17.85h-17.86zM2045.25 215.9h17.86v17.85h-17.86zM1869.7 233.45h17.86v17.85h-17.86zM1957.48 233.45h17.86v17.85h-17.86zM2010.14 233.45h17.86v17.85h-17.86z"/><path fill="#d2d2ff" d="M1887.26 57.95h17.86v17.85h-17.86zM2010.14 110.6h17.86v17.85h-17.86zM1799.48 128.15h17.86v17.85h-17.86zM1676.6 145.7h17.86v17.85h-17.86zM2062.81 145.7h17.86v17.85h-17.86zM2045.25 233.45h17.86v17.85h-17.86z"/><path fill="#b0b0ff" d="M1992.59 57.95h17.86v17.85h-17.86zM1694.15 75.5h17.86v17.85h-17.86zM1887.26 93.05h17.86v17.85h-17.86zM1694.15 110.6h17.86v17.85h-17.86zM1799.48 145.7h17.86v17.85h-17.86zM2045.25 163.25h17.86v17.85h-17.86zM1799.48 180.8h17.86v17.85h-17.86zM2045.25 180.8h17.86v17.85h-17.86zM2045.25 198.35h17.86v17.85h-17.86zM1957.48 215.9h17.86v17.85h-17.86zM2027.7 215.9h17.86v17.85h-17.86z"/><path fill="#9999ff" d="M1711.71 75.5h17.86v17.85h-17.86zM1799.48 93.05h17.86v17.85h-17.86zM1711.71 110.6h17.86v17.85h-17.86zM1694.15 128.15h17.86v17.85h-17.86zM1711.71 128.15h17.86v17.85h-17.86zM1992.59 128.15h17.86v17.85h-17.86zM1694.15 145.7h17.86v17.85h-17.86zM1729.26 145.7h17.86v17.85h-17.86zM1781.93 215.9h17.86v17.85h-17.86z"/><path fill="#8d8dff" d="M1799.48 75.5h17.86v17.85h-17.86z"/><path fill="#f4f4ff" d="M1922.37 75.5h17.86v17.85h-17.86zM1729.26 110.6h17.86v17.85h-17.86zM1922.37 128.15h17.86v17.85h-17.86zM1957.48 128.15h17.86v17.85h-17.86zM2045.25 128.15h17.86v17.85h-17.86zM1729.26 163.25h17.86v17.85h-17.86zM1852.15 163.25h17.86v17.85h-17.86zM1887.26 163.25h17.86v17.85h-17.86zM1975.03 163.25h17.86v17.85h-17.86zM2062.81 163.25h17.86v17.85h-17.86zM1694.15 180.8h17.86v17.85h-17.86zM1764.38 180.8h17.86v17.85h-17.86zM1887.26 180.8h17.86v17.85h-17.86zM2062.81 198.35h17.86v17.85h-17.86zM1694.15 215.9h17.86v17.85h-17.86zM1729.26 233.45h17.86v17.85h-17.86zM1799.48 233.45h17.86v17.85h-17.86zM1939.92 233.45h17.86v17.85h-17.86z"/><path fill="#a4a4ff" d="M1992.59 75.5h17.86v17.85h-17.86zM1694.15 93.05h17.86v17.85h-17.86zM1781.93 110.6h17.86v17.85h-17.86zM2027.7 145.7h17.86v17.85h-17.86zM2010.14 180.8h17.86v17.85h-17.86zM1799.48 198.35h17.86v17.85h-17.86zM2027.7 198.35h17.86v17.85h-17.86zM1764.38 215.9h17.86v17.85h-17.86zM1975.03 215.9h17.86v17.85h-17.86zM1764.38 233.45h17.86v17.85h-17.86z"/><path fill="#fff4f4" d="M2010.14 75.5h17.86v17.85h-17.86zM1957.48 110.6h17.86v17.85h-17.86zM1817.04 215.9h17.86v17.85h-17.86z"/><path fill="#ff8d8d" d="M2045.25 75.5h17.86v17.85h-17.86zM1922.37 233.45h17.86v17.85h-17.86z"/><path fill="#ffbbbb" d="M1746.82 93.05h17.86v17.85h-17.86zM2045.25 93.05h17.86v17.85h-17.86zM1922.37 163.25h17.86v17.85h-17.86z"/><path fill="#5b5bff" d="M1992.59 93.05h17.86v17.85h-17.86zM1992.59 110.6h17.86v17.85h-17.86zM1781.93 128.15h17.86v17.85h-17.86zM1781.93 233.45h17.86v17.85h-17.86z"/><path fill="#ffc7c7" d="M1764.38 110.6h17.86v17.85h-17.86z"/><path fill="#6868ff" d="M1781.93 145.7h17.86v17.85h-17.86z"/><path fill="#8181ff" d="M1992.59 145.7h17.86v17.85h-17.86zM1799.48 215.9h17.86v17.85h-17.86z"/>
<path d="M1821.62 44.97L1830.02 53.38M1821.62 53.38L1830.02 44.97M1962.06 44.97L1970.46 53.38M1962.06 53.38L1970.46 44.97M1997.17 44.97L2005.57 53.38M1997.17 53.38L2005.57 44.97M1768.95 62.53L1777.35 70.93M1768.95 70.93L1777.35 62.53M1821.62 62.53L1830.02 70.93M1821.62 70.93L1830.02 62.53M1962.06 62.53L1970.46 70.93M1962.06 70.93L1970.46 62.53M1979.61 62.53L1988.01 70.93M1979.61 70.93L1988.01 62.53M1997.17 62.53L2005.57 70.93M1997.17 70.93L2005.57 62.53M1698.73 80.08L1707.13 88.48M1698.73 88.48L1707.13 80.08M1716.29 80.08L1724.69 88.48M1716.29 88.48L1724.69 80.08M1768.95 80.08L1777.35 88.48M1768.95 88.48L1777.35 80.08M1804.06 80.08L1812.46 88.48M1804.06 88.48L1812.46 80.08M1891.84 80.08L1900.24 88.48M1891.84 88.48L1900.24 80.08M1962.06 80.08L1970.46 88.48M1962.06 88.48L1970.46 80.08M1997.17 80.08L2005.57 88.48M1997.17 88.48L2005.57 80.08M2049.83 80.08L2058.23 88.48M2049.83 88.48L2058.23 80.08M2067.39 80.08L2075.79 88.48M2067.39 88.48L2075.79 80.08M1698.73 97.63L1707.13 106.03M1698.73 106.03L1707.13 97.63M1716.29 97.63L1724.69 106.03M1716.29 106.03L1724.69 97.63M1891.84 97.63L1900.24 106.03M1891.84 106.03L1900.24 97.63M1926.95 97.63L1935.35 106.03M1926.95 106.03L1935.35 97.63M1997.17 97.63L2005.57 106.03M1997.17 106.03L2005.57 97.63M2014.72 97.63L2023.12 106.03M2014.72 106.03L2023.12 97.63M2067.39 97.63L2075.79 106.03M2067.39 106.03L2075.79 97.63M1698.73 115.17L1707.13 123.58M1698.73 123.58L1707.13 115.17M1716.29 115.17L1724.69 123.58M1716.29 123.58L1724.69 115.17M1733.84 115.17L1742.24 123.58M1733.84 123.58L1742.24 115.17M1786.51 115.17L1794.91 123.58M1786.51 123.58L1794.91 115.17M1804.06 115.17L1812.46 123.58M1804.06 123.58L1812.46 115.17M1856.73 115.17L1865.13 123.58M1856.73 123.58L1865.13 115.17M1874.28 115.17L1882.68 123.58M1874.28 123.58L1882.68 115.17M1891.84 115.17L1900.24 123.58M1891.84 123.58L1900.24 115.17M1909.39 115.17L1917.79 123.58M1909.39 123.58L1917.79 115.17M1944.5 115.17L1952.9 123.58M1944.5 123.58L1952.9 115.17M1997.17 115.17L2005.57 123.58M1997.17 123.58L2005.57 115.17M2049.83 115.17L2058.23 123.58M2049.83 123.58L2058.23 115.17M2067.39 115.17L2075.79 123.58M2067.39 123.58L2075.79 115.17M1698.73 132.73L1707.13 141.12M1698.73 141.12L1707.13 132.73M1716.29 132.73L1724.69 141.12M1716.29 141.12L1724.69 132.73M1733.84 132.73L1742.24 141.12M1733.84 141.12L1742.24 132.73M1786.51 132.73L1794.91 141.12M1786.51 141.12L1794.91 132.73M1874.28 132.73L1882.68 141.12M1874.28 141.12L1882.68 132.73M1909.39 132.73L1917.79 141.12M1909.39 141.12L1917.79 132.73M1944.5 132.73L1952.9 141.12M1944.5 141.12L1952.9 132.73M1997.17 132.73L2005.57 141.12M1997.17 141.12L2005.57 132.73M2067.39 132.73L2075.79 141.12M2067.39 141.12L2075.79 132.73M1698.73 150.28L1707.13 158.68M1698.73 158.68L1707.13 150.28M1716.29 150.28L1724.69 158.68M1716.29 158.68L1724.69 150.28M1733.84 150.28L1742.24 158.68M1733.84 158.68L1742.24 150.28M1751.4 150.28L1759.8 158.68M1751.4 158.68L1759.8 150.28M1786.51 150.28L1794.91 158.68M1786.51 158.68L1794.91 150.28M1804.06 150.28L1812.46 158.68M1804.06 158.68L1812.46 150.28M1874.28 150.28L1882.68 158.68M1874.28 158.68L1882.68 150.28M1909.39 150.28L1917.79 158.68M1909.39 158.68L1917.79 150.28M1997.17 150.28L2005.57 158.68M1997.17 158.68L2005.57 150.28M2014.72 150.28L2023.12 158.68M2014.72 158.68L2023.12 150.28M2032.28 150.28L2040.68 158.68M2032.28 158.68L2040.68 150.28M2067.39 150.28L2075.79 158.68M2067.39 158.68L2075.79 150.28M1698.73 167.83L1707.13 176.22M1698.73 176.22L1707.13 167.83M1733.84 167.83L1742.24 176.22M1733.84 176.22L1742.24 167.83M1786.51 167.83L1794.91 176.22M1786.51 176.22L1794.91 167.83M1804.06 167.83L1812.46 176.22M1804.06 176.22L1812.46 167.83M1874.28 167.83L1882.68 176.22M1874.28 176.22L1882.68 167.83M1926.95 167.83L1935.35 176.22M1926.95 176.22L1935.35 167.83M2014.72 167.83L2023.12 176.22M2014.72 176.22L2023.12 167.83M2049.83 167.83L2058.23 176.22M2049.83 176.22L2058.23 167.83M2067.39 167.83L2075.79 176.22M2067.39 176.22L2075.79 167.83M1716.29 185.38L1724.69 193.78M1716.29 193.78L1724.69 185.38M1804.06 185.38L1812.46 193.78M1804.06 193.78L1812.46 185.38M1821.62 185.38L1830.02 193.78M1821.62 193.78L1830.02 185.38M1874.28 185.38L1882.68 193.78M1874.28 193.78L1882.68 185.38M1909.39 185.38L1917.79 193.78M1909.39 193.78L1917.79 185.38M1926.95 185.38L1935.35 193.78M1926.95 193.78L1935.35 185.38M1962.06 185.38L1970.46 193.78M1962.06 193.78L1970.46 185.38M1979.61 185.38L1988.01 193.78M1979.61 193.78L1988.01 185.38M2014.72 185.38L2023.12 193.78M2014.72 193.78L2023.12 185.38M2032.28 185.38L2040.68 193.78M2032.28 193.78L2040.68 185.38M2049.83 185.38L2058.23 193.78M2049.83 193.78L2058.23 185.38M2067.39 185.38L2075.79 193.78M2067.39 193.78L2075.79 185.38M1716.29 202.93L1724.69 211.33M1716.29 211.33L1724.69 202.93M1768.95 202.93L1777.35 211.33M1768.95 211.33L1777.35 202.93M1786.51 202.93L1794.91 211.33M1786.51 211.33L1794.91 202.93M1804.06 202.93L1812.46 211.33M1804.06 211.33L1812.46 202.93M1821.62 202.93L1830.02 211.33M1821.62 211.33L1830.02 202.93M1874.28 202.93L1882.68 211.33M1874.28 211.33L1882.68 202.93M1909.39 202.93L1917.79 211.33M1909.39 211.33L1917.79 202.93M1926.95 202.93L1935.35 211.33M1926.95 211.33L1935.35 202.93M1962.06 202.93L1970.46 211.33M1962.06 211.33L1970.46 202.93M1979.61 202.93L1988.01 211.33M1979.61 211.33L1988.01 202.93M2014.72 202.93L2023.12 211.33M2014.72 211.33L2023.12 202.93M2032.28 202.93L2040.68 211.33M2032.28 211.33L2040.68 202.93M2049.83 202.93L2058.23 211.33M2049.83 211.33L2058.23 202.93M2067.39 202.93L2075.79 211.33M2067.39 211.33L2075.79 202.93M1716.29 220.48L1724.69 228.88M1716.29 228.88L1724.69 220.48M1768.95 220.48L1777.35 228.88M1768.95 228.88L1777.35 220.48M1786.51 220.48L1794.91 228.88M1786.51 228.88L1794.91 220.48M1804.06 220.48L1812.46 228.88M1804.06 228.88L1812.46 220.48M1874.28 220.48L1882.68 228.88M1874.28 228.88L1882.68 220.48M1909.39 220.48L1917.79 228.88M1909.39 228.88L1917.79 220.48M1926.95 220.48L1935.35 228.88M1926.95 228.88L1935.35 220.48M1962.06 220.48L1970.46 228.88M1962.06 228.88L1970.46 220.48M1979.61 220.48L1988.01 228.88M1979.61 228.88L1988.01 220.48M2014.72 220.48L2023.12 228.88M2014.72 228.88L2023.12 220.48M2032.28 220.48L2040.68 228.88M2032.28 228.88L2040.68 220.48M2049.83 220.48L2058.23 228.88M2049.83 228.88L2058.23 220.48M2067.39 220.48L2075.79 228.88M2067.39 228.88L2075.79 220.48M1768.95 238.03L1777.35 246.43M1768.95 246.43L1777.35 238.03M1786.51 238.03L1794.91 246.43M1786.51 246.43L1794.91 238.03M1874.28 238.03L1882.68 246.43M1874.28 246.43L1882.68 238.03M1909.39 238.03L1917.79 246.43M1909.39 246.43L1917.79 238.03M1926.95 238.03L1935.35 246.43M1926.95 246.43L1935.35 238.03M1962.06 238.03L1970.46 246.43M1962.06 246.43L1970.46 238.03M2014.72 238.03L2023.12 246.43M2014.72 246.43L2023.12 238.03M2067.39 238.03L2075.79 246.43M2067.39 246.43L2075.79 238.03" stroke="#000" stroke-width="1.05" fill="none"/>
<path d="M1676.6 39.15V252.25M1694.15 39.15V252.25M1711.71 39.15V252.25M1729.26 39.15V252.25M1746.82 39.15V252.25M1764.38 39.15V252.25M1781.93 39.15V252.25M1799.48 39.15V252.25M1817.04 39.15V252.25M1834.59 39.15V252.25M1852.15 39.15V252.25M1869.7 39.15V252.25M1887.26 39.15V252.25M1904.81 39.15V252.25M1922.37 39.15V252.25M1939.92 39.15V252.25M1957.48 39.15V252.25M1975.03 39.15V252.25M1992.59 39.15V252.25M2010.14 39.15V252.25M2027.7 39.15V252.25M2045.25 39.15V252.25M2062.81 39.15V252.25M2080.36 39.15V252.25M1675.35 40.4H2081.61M1675.35 57.95H2081.61M1675.35 75.5H2081.61M1675.35 93.05H2081.61M1675.35 110.6H2081.61M1675.35 128.15H2081.61M1675.35 145.7H2081.61M1675.35 163.25H2081.61M1675.35 180.8H2081.61M1675.35 198.35H2081.61M1675.35 215.9H2081.61M1675.35 233.45H2081.61M1675.35 251H2081.61" stroke="#000" stroke-width="2.5" fill="none"/>
<text x="1878.48" y="31.9" text-anchor="middle" font-size="31.5" fill="#000">(m) California</text>
<text x="1666" y="47.6" text-anchor="end" font-size="29" fill="#262626">47N</text>
<text x="1666" y="258.2" text-anchor="end" font-size="29" fill="#262626">24N</text>
<path fill="#ffb0b0" d="M1676.6 335.4h17.86v17.85h-17.86zM1834.59 335.4h17.86v17.85h-17.86zM1694.15 352.95h17.86v17.85h-17.86zM1746.82 352.95h17.86v17.85h-17.86zM1799.48 352.95h17.86v17.85h-17.86zM1904.81 352.95h17.86v17.85h-17.86zM2045.25 352.95h17.86v17.85h-17.86zM1676.6 370.5h17.86v17.85h-17.86zM1764.38 370.5h17.86v17.85h-17.86zM1676.6 388.05h17.86v17.85h-17.86zM1992.59 388.05h17.86v17.85h-17.86zM1676.6 405.6h17.86v17.85h-17.86zM1834.59 405.6h17.86v17.85h-17.86zM1975.03 405.6h17.86v17.85h-17.86zM1676.6 423.15h17.86v17.85h-17.86zM1834.59 423.15h17.86v17.85h-17.86zM1869.7 423.15h17.86v17.85h-17.86zM1887.26 423.15h17.86v17.85h-17.86zM1922.37 423.15h17.86v17.85h-17.86zM2045.25 423.15h17.86v17.85h-17.86zM1799.48 440.7h17.86v17.85h-17.86zM1817.04 440.7h17.86v17.85h-17.86zM1939.92 440.7h17.86v17.85h-17.86zM1957.48 440.7h17.86v17.85h-17.86zM2045.25 440.7h17.86v17.85h-17.86zM1834.59 458.25h17.86v17.85h-17.86zM1852.15 458.25h17.86v17.85h-17.86zM1869.7 458.25h17.86v17.85h-17.86zM1939.92 458.25h17.86v17.85h-17.86zM1852.15 493.35h17.86v17.85h-17.86zM2010.14 563.55h17.86v17.85h-17.86z"/><path fill="#ff9999" d="M1694.15 335.4h17.86v17.85h-17.86zM1869.7 335.4h17.86v17.85h-17.86zM1904.81 335.4h17.86v17.85h-17.86zM2045.25 335.4h17.86v17.85h-17.86zM2062.81 335.4h17.86v17.85h-17.86zM2062.81 352.95h17.86v17.85h-17.86zM1746.82 370.5h17.86v17.85h-17.86zM1904.81 370.5h17.86v17.85h-17.86zM2010.14 370.5h17.86v17.85h-17.86zM2062.81 370.5h17.86v17.85h-17.86zM1817.04 405.6h17.86v17.85h-17.86zM1922.37 405.6h17.86v17.85h-17.86zM1939.92 405.6h17.86v17.85h-17.86zM1957.48 405.6h17.86v17.85h-17.86zM2027.7 423.15h17.86v17.85h-17.86zM1887.26 458.25h17.86v17.85h-17.86zM1957.48 458.25h17.86v17.85h-17.86zM1676.6 475.8h17.86v17.85h-17.86zM1957.48 475.8h17.86v17.85h-17.86z"/><path fill="#ff8d8d" d="M1711.71 335.4h17.86v17.85h-17.86zM1746.82 335.4h17.86v17.85h-17.86zM1957.48 335.4h17.86v17.85h-17.86zM1834.59 370.5h17.86v17.85h-17.86zM1992.59 370.5h17.86v17.85h-17.86zM1817.04 388.05h17.86v17.85h-17.86zM1834.59 388.05h17.86v17.85h-17.86zM1904.81 405.6h17.86v17.85h-17.86zM2027.7 405.6h17.86v17.85h-17.86zM1817.04 423.15h17.86v17.85h-17.86zM1939.92 423.15h17.86v17.85h-17.86zM1922.37 458.25h17.86v17.85h-17.86zM1817.04 475.8h17.86v17.85h-17.86zM1904.81 475.8h17.86v17.85h-17.86zM1922.37 475.8h17.86v17.85h-17.86z"/><path fill="#ffd2d2" d="M1729.26 335.4h17.86v17.85h-17.86zM1887.26 335.4h17.86v17.85h-17.86zM1939.92 335.4h17.86v17.85h-17.86zM1852.15 370.5h17.86v17.85h-17.86zM2062.81 388.05h17.86v17.85h-17.86zM1799.48 405.6h17.86v17.85h-17.86zM1975.03 423.15h17.86v17.85h-17.86zM2010.14 423.15h17.86v17.85h-17.86zM1711.71 458.25h17.86v17.85h-17.86zM2010.14 458.25h17.86v17.85h-17.86zM1694.15 475.8h17.86v17.85h-17.86zM1869.7 475.8h17.86v17.85h-17.86zM1975.03 475.8h17.86v17.85h-17.86zM1922.37 528.45h17.86v17.85h-17.86z"/><path fill="#ff5b5b" d="M1764.38 335.4h17.86v17.85h-17.86zM2010.14 510.9h17.86v17.85h-17.86z"/><path fill="#ff6868" d="M1781.93 335.4h17.86v17.85h-17.86zM1799.48 335.4h17.86v17.85h-17.86zM1975.03 335.4h17.86v17.85h-17.86zM2010.14 335.4h17.86v17.85h-17.86zM2027.7 335.4h17.86v17.85h-17.86zM1781.93 352.95h17.86v17.85h-17.86zM1922.37 352.95h17.86v17.85h-17.86zM1975.03 352.95h17.86v17.85h-17.86zM1992.59 352.95h17.86v17.85h-17.86zM2010.14 352.95h17.86v17.85h-17.86zM1957.48 370.5h17.86v17.85h-17.86zM1975.03 370.5h17.86v17.85h-17.86zM2027.7 370.5h17.86v17.85h-17.86zM1922.37 388.05h17.86v17.85h-17.86zM1975.03 388.05h17.86v17.85h-17.86z"/><path fill="#ff2121" d="M1817.04 335.4h17.86v17.85h-17.86zM1992.59 335.4h17.86v17.85h-17.86zM2027.7 352.95h17.86v17.85h-17.86z"/><path fill="#ffdddd" d="M1852.15 335.4h17.86v17.85h-17.86zM1711.71 352.95h17.86v17.85h-17.86zM1852.15 352.95h17.86v17.85h-17.86zM1711.71 388.05h17.86v17.85h-17.86zM1764.38 388.05h17.86v17.85h-17.86zM1799.48 388.05h17.86v17.85h-17.86zM2010.14 388.05h17.86v17.85h-17.86zM1852.15 405.6h17.86v17.85h-17.86zM2045.25 405.6h17.86v17.85h-17.86zM2062.81 405.6h17.86v17.85h-17.86zM1852.15 423.15h17.86v17.85h-17.86zM2062.81 423.15h17.86v17.85h-17.86zM1904.81 440.7h17.86v17.85h-17.86zM2045.25 458.25h17.86v17.85h-17.86zM2010.14 475.8h17.86v17.85h-17.86zM2062.81 475.8h17.86v17.85h-17.86zM1676.6 493.35h17.86v17.85h-17.86zM1694.15 493.35h17.86v17.85h-17.86zM1711.71 493.35h17.86v17.85h-17.86zM1817.04 493.35h17.86v17.85h-17.86zM1694.15 510.9h17.86v17.85h-17.86zM1781.93 546h17.86v17.85h-17.86zM2027.7 563.55h17.86v17.85h-17.86z"/><path fill="#ff7474" d="M1922.37 335.4h17.86v17.85h-17.86zM1764.38 352.95h17.86v17.85h-17.86zM1957.48 352.95h17.86v17.85h-17.86zM1817.04 370.5h17.86v17.85h-17.86zM1922.37 370.5h17.86v17.85h-17.86zM1957.48 388.05h17.86v17.85h-17.86zM1904.81 458.25h17.86v17.85h-17.86zM1975.03 458.25h17.86v17.85h-17.86zM2010.14 546h17.86v17.85h-17.86z"/><path fill="#ffbbbb" d="M1676.6 352.95h17.86v17.85h-17.86zM1939.92 352.95h17.86v17.85h-17.86zM1781.93 370.5h17.86v17.85h-17.86zM1939.92 370.5h17.86v17.85h-17.86zM2045.25 370.5h17.86v17.85h-17.86zM1852.15 388.05h17.86v17.85h-17.86zM1939.92 388.05h17.86v17.85h-17.86zM1694.15 423.15h17.86v17.85h-17.86zM1834.59 440.7h17.86v17.85h-17.86zM1975.03 440.7h17.86v17.85h-17.86zM2010.14 440.7h17.86v17.85h-17.86zM1694.15 458.25h17.86v17.85h-17.86zM1939.92 475.8h17.86v17.85h-17.86zM1834.59 493.35h17.86v17.85h-17.86zM1939.92 493.35h17.86v17.85h-17.86zM1922.37 510.9h17.86v17.85h-17.86z"/><path fill="#ffe9e9" d="M1729.26 352.95h17.86v17.85h-17.86zM1869.7 352.95h17.86v17.85h-17.86zM1694.15 370.5h17.86v17.85h-17.86zM1799.48 370.5h17.86v17.85h-17.86zM1869.7 370.5h17.86v17.85h-17.86zM1694.15 388.05h17.86v17.85h-17.86zM1869.7 388.05h17.86v17.85h-17.86zM2045.25 388.05h17.86v17.85h-17.86zM1694.15 405.6h17.86v17.85h-17.86zM1887.26 405.6h17.86v17.85h-17.86zM1957.48 423.15h17.86v17.85h-17.86zM1711.71 440.7h17.86v17.85h-17.86zM2062.81 458.25h17.86v17.85h-17.86zM1676.6 510.9h17.86v17.85h-17.86zM1852.15 510.9h17.86v17.85h-17.86z"/><path fill="#ff4d4d" d="M1817.04 352.95h17.86v17.85h-17.86zM1852.15 475.8h17.86v17.85h-17.86z"/><path fill="#ff8181" d="M1834.59 352.95h17.86v17.85h-17.86zM1904.81 388.05h17.86v17.85h-17.86zM1676.6 458.25h17.86v17.85h-17.86zM1834.59 475.8h17.86v17.85h-17.86z"/><path fill="#efefff" d="M1711.71 370.5h17.86v17.85h-17.86zM1711.71 405.6h17.86v17.85h-17.86zM1781.93 423.15h17.86v17.85h-17.86zM1694.15 440.7h17.86v17.85h-17.86zM1729.26 440.7h17.86v17.85h-17.86zM2027.7 528.45h17.86v17.85h-17.86z"/><path fill="#ffefef" d="M1729.26 370.5h17.86v17.85h-17.86zM1729.26 388.05h17.86v17.85h-17.86zM2010.14 405.6h17.86v17.85h-17.86zM1764.38 423.15h17.86v17.85h-17.86zM1676.6 440.7h17.86v17.85h-17.86zM1852.15 440.7h17.86v17.85h-17.86zM1746.82 458.25h17.86v17.85h-17.86z"/><path fill="#ffc7c7" d="M1746.82 388.05h17.86v17.85h-17.86zM1799.48 423.15h17.86v17.85h-17.86zM1869.7 440.7h17.86v17.85h-17.86zM1887.26 440.7h17.86v17.85h-17.86zM1799.48 458.25h17.86v17.85h-17.86zM1711.71 475.8h17.86v17.85h-17.86zM1887.26 475.8h17.86v17.85h-17.86zM2010.14 493.35h17.86v17.85h-17.86zM1694.15 528.45h17.86v17.85h-17.86zM2045.25 528.45h17.86v17.85h-17.86z"/><path fill="#d2d2ff" d="M1781.93 388.05h17.86v17.85h-17.86zM1746.82 440.7h17.86v17.85h-17.86zM1729.26 493.35h17.86v17.85h-17.86zM2062.81 510.9h17.86v17.85h-17.86zM1904.81 546h17.86v17.85h-17.86zM1729.26 563.55h17.86v17.85h-17.86z"/><path fill="#fff4f4" d="M1887.26 388.05h17.86v17.85h-17.86zM1764.38 405.6h17.86v17.85h-17.86zM1869.7 405.6h17.86v17.85h-17.86zM1992.59 405.6h17.86v17.85h-17.86zM2027.7 440.7h17.86v17.85h-17.86zM1957.48 493.35h17.86v17.85h-17.86zM1676.6 528.45h17.86v17.85h-17.86z"/><path fill="#ffa4a4" d="M2027.7 388.05h17.86v17.85h-17.86zM1904.81 423.15h17.86v17.85h-17.86zM1817.04 458.25h17.86v17.85h-17.86zM1904.81 493.35h17.86v17.85h-17.86zM1922.37 493.35h17.86v17.85h-17.86z"/><path fill="#e9e9ff" d="M1729.26 405.6h17.86v17.85h-17.86zM1711.71 423.15h17.86v17.85h-17.86zM1764.38 440.7h17.86v17.85h-17.86zM2027.7 458.25h17.86v17.85h-17.86zM1799.48 475.8h17.86v17.85h-17.86zM1975.03 493.35h17.86v17.85h-17.86zM1834.59 510.9h17.86v17.85h-17.86zM1939.92 510.9h17.86v17.85h-17.86zM1746.82 546h17.86v17.85h-17.86zM1781.93 563.55h17.86v17.85h-17.86zM1922.37 563.55h17.86v17.85h-17.86z"/><path fill="#ddddff" d="M1746.82 405.6h17.86v17.85h-17.86zM1746.82 423.15h17.86v17.85h-17.86zM1781.93 440.7h17.86v17.85h-17.86zM1781.93 458.25h17.86v17.85h-17.86zM1992.59 458.25h17.86v17.85h-17.86zM1746.82 475.8h17.86v17.85h-17.86zM2045.25 493.35h17.86v17.85h-17.86zM1729.26 510.9h17.86v17.85h-17.86zM1904.81 528.45h17.86v17.85h-17.86zM1694.15 546h17.86v17.85h-17.86zM1746.82 563.55h17.86v17.85h-17.86z"/><path fill="#bbbbff" d="M1781.93 405.6h17.86v17.85h-17.86zM1729.26 458.25h17.86v17.85h-17.86zM1764.38 493.35h17.86v17.85h-17.86zM1711.71 510.9h17.86v17.85h-17.86zM1781.93 510.9h17.86v17.85h-17.86zM2045.25 510.9h17.86v17.85h-17.86zM2045.25 546h17.86v17.85h-17.86z"/><path fill="#b0b0ff" d="M1992.59 423.15h17.86v17.85h-17.86zM1764.38 475.8h17.86v17.85h-17.86zM2027.7 493.35h17.86v17.85h-17.86z"/><path fill="#fff8f8" d="M1922.37 440.7h17.86v17.85h-17.86zM2062.81 440.7h17.86v17.85h-17.86z"/><path fill="#8181ff" d="M1992.59 440.7h17.86v17.85h-17.86zM1711.71 546h17.86v17.85h-17.86zM1887.26 546h17.86v17.85h-17.86zM2062.81 546h17.86v17.85h-17.86zM1992.59 563.55h17.86v17.85h-17.86z"/><path fill="#c7c7ff" d="M1764.38 458.25h17.86v17.85h-17.86zM2027.7 475.8h17.86v17.85h-17.86zM1746.82 493.35h17.86v17.85h-17.86zM1746.82 510.9h17.86v17.85h-17.86zM1764.38 510.9h17.86v17.85h-17.86zM1869.7 510.9h17.86v17.85h-17.86zM1887.26 510.9h17.86v17.85h-17.86zM2027.7 510.9h17.86v17.85h-17.86zM2062.81 528.45h17.86v17.85h-17.86z"/><path fill="#9999ff" d="M1729.26 475.8h17.86v17.85h-17.86zM1992.59 475.8h17.86v17.85h-17.86zM1711.71 528.45h17.86v17.85h-17.86zM1852.15 528.45h17.86v17.85h-17.86zM1887.26 528.45h17.86v17.85h-17.86zM1676.6 546h17.86v17.85h-17.86zM1764.38 546h17.86v17.85h-17.86zM1904.81 563.55h17.86v17.85h-17.86z"/><path fill="#8d8dff" d="M1781.93 475.8h17.86v17.85h-17.86zM1781.93 493.35h17.86v17.85h-17.86zM1817.04 510.9h17.86v17.85h-17.86zM1834.59 528.45h17.86v17.85h-17.86zM1939.92 528.45h17.86v17.85h-17.86zM1869.7 546h17.86v17.85h-17.86zM1992.59 546h17.86v17.85h-17.86zM1764.38 563.55h17.86v17.85h-17.86z"/><path fill="#5b5bff" d="M1799.48 493.35h17.86v17.85h-17.86zM1975.03 528.45h17.86v17.85h-17.86zM1694.15 563.55h17.86v17.85h-17.86zM1711.71 563.55h17.86v17.85h-17.86z"/><path fill="#1111ff" d="M1992.59 493.35h17.86v17.85h-17.86zM1799.48 510.9h17.86v17.85h-17.86zM1992.59 510.9h17.86v17.85h-17.86zM1799.48 528.45h17.86v17.85h-17.86zM1799.48 546h17.86v17.85h-17.86zM1817.04 546h17.86v17.85h-17.86zM1939.92 546h17.86v17.85h-17.86zM1957.48 546h17.86v17.85h-17.86zM1975.03 546h17.86v17.85h-17.86zM1799.48 563.55h17.86v17.85h-17.86zM1817.04 563.55h17.86v17.85h-17.86zM1852.15 563.55h17.86v17.85h-17.86zM1939.92 563.55h17.86v17.85h-17.86zM1957.48 563.55h17.86v17.85h-17.86zM1975.03 563.55h17.86v17.85h-17.86z"/><path fill="#a4a4ff" d="M1957.48 510.9h17.86v17.85h-17.86zM1869.7 528.45h17.86v17.85h-17.86z"/><path fill="#7474ff" d="M1975.03 510.9h17.86v17.85h-17.86zM1992.59 528.45h17.86v17.85h-17.86zM1869.7 563.55h17.86v17.85h-17.86z"/><path fill="#f4f4ff" d="M1729.26 528.45h17.86v17.85h-17.86zM1781.93 528.45h17.86v17.85h-17.86z"/><path fill="#3f3fff" d="M1817.04 528.45h17.86v17.85h-17.86zM1957.48 528.45h17.86v17.85h-17.86zM1834.59 563.55h17.86v17.85h-17.86zM1887.26 563.55h17.86v17.85h-17.86z"/><path fill="#ff3f3f" d="M2010.14 528.45h17.86v17.85h-17.86z"/><path fill="#6868ff" d="M1834.59 546h17.86v17.85h-17.86zM2045.25 563.55h17.86v17.85h-17.86zM2062.81 563.55h17.86v17.85h-17.86z"/><path fill="#3030ff" d="M1852.15 546h17.86v17.85h-17.86zM1676.6 563.55h17.86v17.85h-17.86z"/>
<path d="M1681.18 339.97L1689.58 348.37M1681.18 348.37L1689.58 339.97M1698.73 339.97L1707.13 348.37M1698.73 348.37L1707.13 339.97M1716.29 339.97L1724.69 348.37M1716.29 348.37L1724.69 339.97M1751.4 339.97L1759.8 348.37M1751.4 348.37L1759.8 339.97M1768.95 339.97L1777.35 348.37M1768.95 348.37L1777.35 339.97M1786.51 339.97L1794.91 348.37M1786.51 348.37L1794.91 339.97M1804.06 339.97L1812.46 348.37M1804.06 348.37L1812.46 339.97M1821.62 339.97L1830.02 348.37M1821.62 348.37L1830.02 339.97M1839.17 339.97L1847.57 348.37M1839.17 348.37L1847.57 339.97M1874.28 339.97L1882.68 348.37M1874.28 348.37L1882.68 339.97M1891.84 339.97L1900.24 348.37M1891.84 348.37L1900.24 339.97M1909.39 339.97L1917.79 348.37M1909.39 348.37L1917.79 339.97M1926.95 339.97L1935.35 348.37M1926.95 348.37L1935.35 339.97M1962.06 339.97L1970.46 348.37M1962.06 348.37L1970.46 339.97M1979.61 339.97L1988.01 348.37M1979.61 348.37L1988.01 339.97M1997.17 339.97L2005.57 348.37M1997.17 348.37L2005.57 339.97M2014.72 339.97L2023.12 348.37M2014.72 348.37L2023.12 339.97M2032.28 339.97L2040.68 348.37M2032.28 348.37L2040.68 339.97M2049.83 339.97L2058.23 348.37M2049.83 348.37L2058.23 339.97M2067.39 339.97L2075.79 348.37M2067.39 348.37L2075.79 339.97M1681.18 357.52L1689.58 365.92M1681.18 365.92L1689.58 357.52M1698.73 357.52L1707.13 365.92M1698.73 365.92L1707.13 357.52M1716.29 357.52L1724.69 365.92M1716.29 365.92L1724.69 357.52M1751.4 357.52L1759.8 365.92M1751.4 365.92L1759.8 357.52M1768.95 357.52L1777.35 365.92M1768.95 365.92L1777.35 357.52M1786.51 357.52L1794.91 365.92M1786.51 365.92L1794.91 357.52M1804.06 357.52L1812.46 365.92M1804.06 365.92L1812.46 357.52M1821.62 357.52L1830.02 365.92M1821.62 365.92L1830.02 357.52M1839.17 357.52L1847.57 365.92M1839.17 365.92L1847.57 357.52M1856.73 357.52L1865.13 365.92M1856.73 365.92L1865.13 357.52M1909.39 357.52L1917.79 365.92M1909.39 365.92L1917.79 357.52M1926.95 357.52L1935.35 365.92M1926.95 365.92L1935.35 357.52M1944.5 357.52L1952.9 365.92M1944.5 365.92L1952.9 357.52M1962.06 357.52L1970.46 365.92M1962.06 365.92L1970.46 357.52M1979.61 357.52L1988.01 365.92M1979.61 365.92L1988.01 357.52M1997.17 357.52L2005.57 365.92M1997.17 365.92L2005.57 357.52M2014.72 357.52L2023.12 365.92M2014.72 365.92L2023.12 357.52M2032.28 357.52L2040.68 365.92M2032.28 365.92L2040.68 357.52M2067.39 357.52L2075.79 365.92M2067.39 365.92L2075.79 357.52M1681.18 375.07L1689.58 383.47M1681.18 383.47L1689.58 375.07M1698.73 375.07L1707.13 383.47M1698.73 383.47L1707.13 375.07M1751.4 375.07L1759.8 383.47M1751.4 383.47L1759.8 375.07M1768.95 375.07L1777.35 383.47M1768.95 383.47L1777.35 375.07M1786.51 375.07L1794.91 383.47M1786.51 383.47L1794.91 375.07M1821.62 375.07L1830.02 383.47M1821.62 383.47L1830.02 375.07M1839.17 375.07L1847.57 383.47M1839.17 383.47L1847.57 375.07M1856.73 375.07L1865.13 383.47M1856.73 383.47L1865.13 375.07M1909.39 375.07L1917.79 383.47M1909.39 383.47L1917.79 375.07M1926.95 375.07L1935.35 383.47M1926.95 383.47L1935.35 375.07M1944.5 375.07L1952.9 383.47M1944.5 383.47L1952.9 375.07M1962.06 375.07L1970.46 383.47M1962.06 383.47L1970.46 375.07M1979.61 375.07L1988.01 383.47M1979.61 383.47L1988.01 375.07M1997.17 375.07L2005.57 383.47M1997.17 383.47L2005.57 375.07M2014.72 375.07L2023.12 383.47M2014.72 383.47L2023.12 375.07M2032.28 375.07L2040.68 383.47M2032.28 383.47L2040.68 375.07M2049.83 375.07L2058.23 383.47M2049.83 383.47L2058.23 375.07M2067.39 375.07L2075.79 383.47M2067.39 383.47L2075.79 375.07M1681.18 392.62L1689.58 401.02M1681.18 401.02L1689.58 392.62M1821.62 392.62L1830.02 401.02M1821.62 401.02L1830.02 392.62M1839.17 392.62L1847.57 401.02M1839.17 401.02L1847.57 392.62M1856.73 392.62L1865.13 401.02M1856.73 401.02L1865.13 392.62M1909.39 392.62L1917.79 401.02M1909.39 401.02L1917.79 392.62M1926.95 392.62L1935.35 401.02M1926.95 401.02L1935.35 392.62M1944.5 392.62L1952.9 401.02M1944.5 401.02L1952.9 392.62M1962.06 392.62L1970.46 401.02M1962.06 401.02L1970.46 392.62M1979.61 392.62L1988.01 401.02M1979.61 401.02L1988.01 392.62M2032.28 392.62L2040.68 401.02M2032.28 401.02L2040.68 392.62M2067.39 392.62L2075.79 401.02M2067.39 401.02L2075.79 392.62M1681.18 410.17L1689.58 418.57M1681.18 418.57L1689.58 410.17M1821.62 410.17L1830.02 418.57M1821.62 418.57L1830.02 410.17M1839.17 410.17L1847.57 418.57M1839.17 418.57L1847.57 410.17M1909.39 410.17L1917.79 418.57M1909.39 418.57L1917.79 410.17M1926.95 410.17L1935.35 418.57M1926.95 418.57L1935.35 410.17M1944.5 410.17L1952.9 418.57M1944.5 418.57L1952.9 410.17M1962.06 410.17L1970.46 418.57M1962.06 418.57L1970.46 410.17M1979.61 410.17L1988.01 418.57M1979.61 418.57L1988.01 410.17M2032.28 410.17L2040.68 418.57M2032.28 418.57L2040.68 410.17M2067.39 410.17L2075.79 418.57M2067.39 418.57L2075.79 410.17M1681.18 427.72L1689.58 436.12M1681.18 436.12L1689.58 427.72M1698.73 427.72L1707.13 436.12M1698.73 436.12L1707.13 427.72M1821.62 427.72L1830.02 436.12M1821.62 436.12L1830.02 427.72M1839.17 427.72L1847.57 436.12M1839.17 436.12L1847.57 427.72M1874.28 427.72L1882.68 436.12M1874.28 436.12L1882.68 427.72M1891.84 427.72L1900.24 436.12M1891.84 436.12L1900.24 427.72M1909.39 427.72L1917.79 436.12M1909.39 436.12L1917.79 427.72M1926.95 427.72L1935.35 436.12M1926.95 436.12L1935.35 427.72M1944.5 427.72L1952.9 436.12M1944.5 436.12L1952.9 427.72M1962.06 427.72L1970.46 436.12M1962.06 436.12L1970.46 427.72M2032.28 427.72L2040.68 436.12M2032.28 436.12L2040.68 427.72M2049.83 427.72L2058.23 436.12M2049.83 436.12L2058.23 427.72M2067.39 427.72L2075.79 436.12M2067.39 436.12L2075.79 427.72M1681.18 445.27L1689.58 453.67M1681.18 453.67L1689.58 445.27M1821.62 445.27L1830.02 453.67M1821.62 453.67L1830.02 445.27M1909.39 445.27L1917.79 453.67M1909.39 453.67L1917.79 445.27M1926.95 445.27L1935.35 453.67M1926.95 453.67L1935.35 445.27M1944.5 445.27L1952.9 453.67M1944.5 453.67L1952.9 445.27M1962.06 445.27L1970.46 453.67M1962.06 453.67L1970.46 445.27M1979.61 445.27L1988.01 453.67M1979.61 453.67L1988.01 445.27M2049.83 445.27L2058.23 453.67M2049.83 453.67L2058.23 445.27M2067.39 445.27L2075.79 453.67M2067.39 453.67L2075.79 445.27M1681.18 462.82L1689.58 471.22M1681.18 471.22L1689.58 462.82M1733.84 462.82L1742.24 471.22M1733.84 471.22L1742.24 462.82M1768.95 462.82L1777.35 471.22M1768.95 471.22L1777.35 462.82M1804.06 462.82L1812.46 471.22M1804.06 471.22L1812.46 462.82M1821.62 462.82L1830.02 471.22M1821.62 471.22L1830.02 462.82M1839.17 462.82L1847.57 471.22M1839.17 471.22L1847.57 462.82M1856.73 462.82L1865.13 471.22M1856.73 471.22L1865.13 462.82M1874.28 462.82L1882.68 471.22M1874.28 471.22L1882.68 462.82M1891.84 462.82L1900.24 471.22M1891.84 471.22L1900.24 462.82M1909.39 462.82L1917.79 471.22M1909.39 471.22L1917.79 462.82M1926.95 462.82L1935.35 471.22M1926.95 471.22L1935.35 462.82M1944.5 462.82L1952.9 471.22M1944.5 471.22L1952.9 462.82M1962.06 462.82L1970.46 471.22M1962.06 471.22L1970.46 462.82M1979.61 462.82L1988.01 471.22M1979.61 471.22L1988.01 462.82M2067.39 462.82L2075.79 471.22M2067.39 471.22L2075.79 462.82M1681.18 480.37L1689.58 488.77M1681.18 488.77L1689.58 480.37M1733.84 480.37L1742.24 488.77M1733.84 488.77L1742.24 480.37M1768.95 480.37L1777.35 488.77M1768.95 488.77L1777.35 480.37M1786.51 480.37L1794.91 488.77M1786.51 488.77L1794.91 480.37M1821.62 480.37L1830.02 488.77M1821.62 488.77L1830.02 480.37M1839.17 480.37L1847.57 488.77M1839.17 488.77L1847.57 480.37M1856.73 480.37L1865.13 488.77M1856.73 488.77L1865.13 480.37M1909.39 480.37L1917.79 488.77M1909.39 488.77L1917.79 480.37M1926.95 480.37L1935.35 488.77M1926.95 488.77L1935.35 480.37M1944.5 480.37L1952.9 488.77M1944.5 488.77L1952.9 480.37M1962.06 480.37L1970.46 488.77M1962.06 488.77L1970.46 480.37M1979.61 480.37L1988.01 488.77M1979.61 488.77L1988.01 480.37M1997.17 480.37L2005.57 488.77M1997.17 488.77L2005.57 480.37M2014.72 480.37L2023.12 488.77M2014.72 488.77L2023.12 480.37M2067.39 480.37L2075.79 488.77M2067.39 488.77L2075.79 480.37M1751.4 497.93L1759.8 506.32M1751.4 506.32L1759.8 497.93M1768.95 497.93L1777.35 506.32M1768.95 506.32L1777.35 497.93M1786.51 497.93L1794.91 506.32M1786.51 506.32L1794.91 497.93M1804.06 497.93L1812.46 506.32M1804.06 506.32L1812.46 497.93M1856.73 497.93L1865.13 506.32M1856.73 506.32L1865.13 497.93M1909.39 497.93L1917.79 506.32M1909.39 506.32L1917.79 497.93M1926.95 497.93L1935.35 506.32M1926.95 506.32L1935.35 497.93M1997.17 497.93L2005.57 506.32M1997.17 506.32L2005.57 497.93M2014.72 497.93L2023.12 506.32M2014.72 506.32L2023.12 497.93M1804.06 515.47L1812.46 523.88M1804.06 523.88L1812.46 515.47M1821.62 515.47L1830.02 523.88M1821.62 523.88L1830.02 515.47M1926.95 515.47L1935.35 523.88M1926.95 523.88L1935.35 515.47M1962.06 515.47L1970.46 523.88M1962.06 523.88L1970.46 515.47M1979.61 515.47L1988.01 523.88M1979.61 523.88L1988.01 515.47M1997.17 515.47L2005.57 523.88M1997.17 523.88L2005.57 515.47M2014.72 515.47L2023.12 523.88M2014.72 523.88L2023.12 515.47M2067.39 515.47L2075.79 523.88M2067.39 523.88L2075.79 515.47M1716.29 533.02L1724.69 541.43M1716.29 541.43L1724.69 533.02M1804.06 533.02L1812.46 541.43M1804.06 541.43L1812.46 533.02M1821.62 533.02L1830.02 541.43M1821.62 541.43L1830.02 533.02M1839.17 533.02L1847.57 541.43M1839.17 541.43L1847.57 533.02M1856.73 533.02L1865.13 541.43M1856.73 541.43L1865.13 533.02M1874.28 533.02L1882.68 541.43M1874.28 541.43L1882.68 533.02M1891.84 533.02L1900.24 541.43M1891.84 541.43L1900.24 533.02M1944.5 533.02L1952.9 541.43M1944.5 541.43L1952.9 533.02M1962.06 533.02L1970.46 541.43M1962.06 541.43L1970.46 533.02M1979.61 533.02L1988.01 541.43M1979.61 541.43L1988.01 533.02M1997.17 533.02L2005.57 541.43M1997.17 541.43L2005.57 533.02M2014.72 533.02L2023.12 541.43M2014.72 541.43L2023.12 533.02M2067.39 533.02L2075.79 541.43M2067.39 541.43L2075.79 533.02M1681.18 550.57L1689.58 558.98M1681.18 558.98L1689.58 550.57M1716.29 550.57L1724.69 558.98M1716.29 558.98L1724.69 550.57M1804.06 550.57L1812.46 558.98M1804.06 558.98L1812.46 550.57M1821.62 550.57L1830.02 558.98M1821.62 558.98L1830.02 550.57M1839.17 550.57L1847.57 558.98M1839.17 558.98L1847.57 550.57M1856.73 550.57L1865.13 558.98M1856.73 558.98L1865.13 550.57M1874.28 550.57L1882.68 558.98M1874.28 558.98L1882.68 550.57M1891.84 550.57L1900.24 558.98M1891.84 558.98L1900.24 550.57M1909.39 550.57L1917.79 558.98M1909.39 558.98L1917.79 550.57M1944.5 550.57L1952.9 558.98M1944.5 558.98L1952.9 550.57M1962.06 550.57L1970.46 558.98M1962.06 558.98L1970.46 550.57M1979.61 550.57L1988.01 558.98M1979.61 558.98L1988.01 550.57M1997.17 550.57L2005.57 558.98M1997.17 558.98L2005.57 550.57M2014.72 550.57L2023.12 558.98M2014.72 558.98L2023.12 550.57M2067.39 550.57L2075.79 558.98M2067.39 558.98L2075.79 550.57M1681.18 568.12L1689.58 576.52M1681.18 576.52L1689.58 568.12M1698.73 568.12L1707.13 576.52M1698.73 576.52L1707.13 568.12M1716.29 568.12L1724.69 576.52M1716.29 576.52L1724.69 568.12M1768.95 568.12L1777.35 576.52M1768.95 576.52L1777.35 568.12M1804.06 568.12L1812.46 576.52M1804.06 576.52L1812.46 568.12M1821.62 568.12L1830.02 576.52M1821.62 576.52L1830.02 568.12M1839.17 568.12L1847.57 576.52M1839.17 576.52L1847.57 568.12M1856.73 568.12L1865.13 576.52M1856.73 576.52L1865.13 568.12M1874.28 568.12L1882.68 576.52M1874.28 576.52L1882.68 568.12M1891.84 568.12L1900.24 576.52M1891.84 576.52L1900.24 568.12M1909.39 568.12L1917.79 576.52M1909.39 576.52L1917.79 568.12M1944.5 568.12L1952.9 576.52M1944.5 576.52L1952.9 568.12M1962.06 568.12L1970.46 576.52M1962.06 576.52L1970.46 568.12M1979.61 568.12L1988.01 576.52M1979.61 576.52L1988.01 568.12M1997.17 568.12L2005.57 576.52M1997.17 576.52L2005.57 568.12M2014.72 568.12L2023.12 576.52M2014.72 576.52L2023.12 568.12M2049.83 568.12L2058.23 576.52M2049.83 576.52L2058.23 568.12M2067.39 568.12L2075.79 576.52M2067.39 576.52L2075.79 568.12" stroke="#000" stroke-width="1.05" fill="none"/>
<path d="M1676.6 334.15V582.35M1694.15 334.15V582.35M1711.71 334.15V582.35M1729.26 334.15V582.35M1746.82 334.15V582.35M1764.38 334.15V582.35M1781.93 334.15V582.35M1799.48 334.15V582.35M1817.04 334.15V582.35M1834.59 334.15V582.35M1852.15 334.15V582.35M1869.7 334.15V582.35M1887.26 334.15V582.35M1904.81 334.15V582.35M1922.37 334.15V582.35M1939.92 334.15V582.35M1957.48 334.15V582.35M1975.03 334.15V582.35M1992.59 334.15V582.35M2010.14 334.15V582.35M2027.7 334.15V582.35M2045.25 334.15V582.35M2062.81 334.15V582.35M2080.36 334.15V582.35M1675.35 335.4H2081.61M1675.35 352.95H2081.61M1675.35 370.5H2081.61M1675.35 388.05H2081.61M1675.35 405.6H2081.61M1675.35 423.15H2081.61M1675.35 440.7H2081.61M1675.35 458.25H2081.61M1675.35 475.8H2081.61M1675.35 493.35H2081.61M1675.35 510.9H2081.61M1675.35 528.45H2081.61M1675.35 546H2081.61M1675.35 563.55H2081.61M1675.35 581.1H2081.61" stroke="#000" stroke-width="2.5" fill="none"/>
<text x="1878.48" y="326.9" text-anchor="middle" font-size="31.5" fill="#000">(n) Canary</text>
<text x="1666" y="342.6" text-anchor="end" font-size="29" fill="#262626">43N</text>
<text x="1666" y="588.3" text-anchor="end" font-size="29" fill="#262626">16N</text>
<path fill="#ff6868" d="M1676.6 654.1h17.86v17.85h-17.86zM2045.25 706.75h17.86v17.85h-17.86zM2045.25 724.3h17.86v17.85h-17.86zM1676.6 759.4h17.86v17.85h-17.86zM1676.6 847.15h17.86v17.85h-17.86zM1904.81 847.15h17.86v17.85h-17.86zM2010.14 847.15h17.86v17.85h-17.86zM2010.14 864.7h17.86v17.85h-17.86z"/><path fill="#ffbbbb" d="M1694.15 654.1h17.86v17.85h-17.86zM1887.26 654.1h17.86v17.85h-17.86zM1694.15 671.65h17.86v17.85h-17.86zM1729.26 671.65h17.86v17.85h-17.86zM1887.26 671.65h17.86v17.85h-17.86zM2027.7 671.65h17.86v17.85h-17.86zM1676.6 689.2h17.86v17.85h-17.86zM1694.15 689.2h17.86v17.85h-17.86zM1799.48 689.2h17.86v17.85h-17.86zM1869.7 689.2h17.86v17.85h-17.86zM1869.7 706.75h17.86v17.85h-17.86zM1957.48 794.5h17.86v17.85h-17.86zM1711.71 812.05h17.86v17.85h-17.86zM1711.71 847.15h17.86v17.85h-17.86zM1694.15 864.7h17.86v17.85h-17.86z"/><path fill="#c7c7ff" d="M1711.71 654.1h17.86v17.85h-17.86zM1764.38 654.1h17.86v17.85h-17.86zM1711.71 671.65h17.86v17.85h-17.86zM1992.59 671.65h17.86v17.85h-17.86zM1711.71 689.2h17.86v17.85h-17.86zM1764.38 706.75h17.86v17.85h-17.86zM1975.03 724.3h17.86v17.85h-17.86zM1922.37 741.85h17.86v17.85h-17.86zM1992.59 741.85h17.86v17.85h-17.86zM1729.26 776.95h17.86v17.85h-17.86z"/><path fill="#ffa4a4" d="M1729.26 654.1h17.86v17.85h-17.86zM1869.7 654.1h17.86v17.85h-17.86zM1746.82 689.2h17.86v17.85h-17.86zM1887.26 741.85h17.86v17.85h-17.86zM1694.15 759.4h17.86v17.85h-17.86zM1817.04 759.4h17.86v17.85h-17.86zM1817.04 794.5h17.86v17.85h-17.86zM1817.04 812.05h17.86v17.85h-17.86zM2045.25 812.05h17.86v17.85h-17.86zM1869.7 829.6h17.86v17.85h-17.86z"/><path fill="#ffefef" d="M1746.82 654.1h17.86v17.85h-17.86zM1834.59 654.1h17.86v17.85h-17.86zM1904.81 654.1h17.86v17.85h-17.86zM1746.82 671.65h17.86v17.85h-17.86zM1887.26 689.2h17.86v17.85h-17.86zM1852.15 724.3h17.86v17.85h-17.86zM1869.7 724.3h17.86v17.85h-17.86zM1852.15 741.85h17.86v17.85h-17.86zM1799.48 759.4h17.86v17.85h-17.86zM1764.38 776.95h17.86v17.85h-17.86zM1694.15 794.5h17.86v17.85h-17.86zM1729.26 812.05h17.86v17.85h-17.86zM1781.93 812.05h17.86v17.85h-17.86zM1939.92 812.05h17.86v17.85h-17.86zM1729.26 829.6h17.86v17.85h-17.86zM1939.92 829.6h17.86v17.85h-17.86zM1729.26 847.15h17.86v17.85h-17.86zM1957.48 847.15h17.86v17.85h-17.86z"/><path fill="#ff8d8d" d="M1781.93 654.1h17.86v17.85h-17.86zM1939.92 654.1h17.86v17.85h-17.86zM1676.6 671.65h17.86v17.85h-17.86zM1939.92 671.65h17.86v17.85h-17.86zM2010.14 689.2h17.86v17.85h-17.86zM2010.14 706.75h17.86v17.85h-17.86zM1746.82 724.3h17.86v17.85h-17.86zM2010.14 724.3h17.86v17.85h-17.86zM2027.7 724.3h17.86v17.85h-17.86zM1887.26 759.4h17.86v17.85h-17.86zM1817.04 776.95h17.86v17.85h-17.86zM2045.25 794.5h17.86v17.85h-17.86zM1746.82 829.6h17.86v17.85h-17.86zM1904.81 829.6h17.86v17.85h-17.86zM1922.37 829.6h17.86v17.85h-17.86zM2010.14 829.6h17.86v17.85h-17.86zM1764.38 847.15h17.86v17.85h-17.86zM1834.59 847.15h17.86v17.85h-17.86zM2062.81 847.15h17.86v17.85h-17.86zM1676.6 864.7h17.86v17.85h-17.86zM1887.26 864.7h17.86v17.85h-17.86zM2027.7 864.7h17.86v17.85h-17.86z"/><path fill="#ff5b5b" d="M1799.48 654.1h17.86v17.85h-17.86zM2027.7 847.15h17.86v17.85h-17.86z"/><path fill="#ffe9e9" d="M1817.04 654.1h17.86v17.85h-17.86zM2062.81 654.1h17.86v17.85h-17.86zM1781.93 689.2h17.86v17.85h-17.86zM1992.59 689.2h17.86v17.85h-17.86zM1694.15 706.75h17.86v17.85h-17.86zM1799.48 706.75h17.86v17.85h-17.86zM1852.15 706.75h17.86v17.85h-17.86zM1992.59 706.75h17.86v17.85h-17.86zM1676.6 724.3h17.86v17.85h-17.86zM2062.81 724.3h17.86v17.85h-17.86zM1817.04 741.85h17.86v17.85h-17.86zM2062.81 776.95h17.86v17.85h-17.86zM1764.38 794.5h17.86v17.85h-17.86zM1834.59 794.5h17.86v17.85h-17.86zM2027.7 794.5h17.86v17.85h-17.86zM1746.82 812.05h17.86v17.85h-17.86zM1764.38 812.05h17.86v17.85h-17.86zM1869.7 812.05h17.86v17.85h-17.86zM1694.15 829.6h17.86v17.85h-17.86zM1957.48 829.6h17.86v17.85h-17.86zM1975.03 829.6h17.86v17.85h-17.86z"/><path fill="#bbbbff" d="M1922.37 654.1h17.86v17.85h-17.86z"/><path fill="#e9e9ff" d="M1975.03 654.1h17.86v17.85h-17.86zM2010.14 654.1h17.86v17.85h-17.86zM1975.03 671.65h17.86v17.85h-17.86zM1764.38 689.2h17.86v17.85h-17.86zM1957.48 706.75h17.86v17.85h-17.86zM1711.71 724.3h17.86v17.85h-17.86zM1904.81 724.3h17.86v17.85h-17.86zM1957.48 724.3h17.86v17.85h-17.86zM1711.71 741.85h17.86v17.85h-17.86zM1799.48 776.95h17.86v17.85h-17.86zM1694.15 812.05h17.86v17.85h-17.86zM1922.37 812.05h17.86v17.85h-17.86zM1711.71 864.7h17.86v17.85h-17.86zM1764.38 864.7h17.86v17.85h-17.86z"/><path fill="#a4a4ff" d="M1992.59 654.1h17.86v17.85h-17.86zM1764.38 671.65h17.86v17.85h-17.86zM1992.59 812.05h17.86v17.85h-17.86z"/><path fill="#fff4f4" d="M2027.7 654.1h17.86v17.85h-17.86zM1922.37 724.3h17.86v17.85h-17.86zM2010.14 776.95h17.86v17.85h-17.86zM1869.7 794.5h17.86v17.85h-17.86zM1676.6 812.05h17.86v17.85h-17.86zM2027.7 812.05h17.86v17.85h-17.86zM1992.59 829.6h17.86v17.85h-17.86z"/><path fill="#ff9999" d="M2045.25 654.1h17.86v17.85h-17.86zM1676.6 776.95h17.86v17.85h-17.86zM1852.15 829.6h17.86v17.85h-17.86zM1694.15 847.15h17.86v17.85h-17.86zM1746.82 847.15h17.86v17.85h-17.86zM1781.93 864.7h17.86v17.85h-17.86z"/><path fill="#ffd2d2" d="M1781.93 671.65h17.86v17.85h-17.86zM1817.04 671.65h17.86v17.85h-17.86zM1904.81 671.65h17.86v17.85h-17.86zM2062.81 671.65h17.86v17.85h-17.86zM1729.26 689.2h17.86v17.85h-17.86zM1676.6 706.75h17.86v17.85h-17.86zM1834.59 706.75h17.86v17.85h-17.86zM1887.26 706.75h17.86v17.85h-17.86zM2062.81 706.75h17.86v17.85h-17.86zM1817.04 724.3h17.86v17.85h-17.86zM1834.59 724.3h17.86v17.85h-17.86zM1939.92 724.3h17.86v17.85h-17.86zM1834.59 741.85h17.86v17.85h-17.86zM1869.7 741.85h17.86v17.85h-17.86zM1939.92 741.85h17.86v17.85h-17.86zM1834.59 759.4h17.86v17.85h-17.86zM1904.81 759.4h17.86v17.85h-17.86zM1957.48 759.4h17.86v17.85h-17.86zM2062.81 759.4h17.86v17.85h-17.86zM1711.71 776.95h17.86v17.85h-17.86zM1834.59 776.95h17.86v17.85h-17.86zM1852.15 776.95h17.86v17.85h-17.86zM1904.81 776.95h17.86v17.85h-17.86zM1975.03 776.95h17.86v17.85h-17.86zM1676.6 794.5h17.86v17.85h-17.86zM1711.71 794.5h17.86v17.85h-17.86zM1887.26 794.5h17.86v17.85h-17.86zM1904.81 794.5h17.86v17.85h-17.86zM1975.03 794.5h17.86v17.85h-17.86zM1852.15 812.05h17.86v17.85h-17.86zM1904.81 812.05h17.86v17.85h-17.86zM1975.03 812.05h17.86v17.85h-17.86zM1676.6 829.6h17.86v17.85h-17.86zM1781.93 829.6h17.86v17.85h-17.86zM1834.59 829.6h17.86v17.85h-17.86zM1887.26 829.6h17.86v17.85h-17.86zM1939.92 847.15h17.86v17.85h-17.86zM1975.03 847.15h17.86v17.85h-17.86zM1729.26 864.7h17.86v17.85h-17.86zM1834.59 864.7h17.86v17.85h-17.86zM1852.15 864.7h17.86v17.85h-17.86z"/><path fill="#ffb0b0" d="M1799.48 671.65h17.86v17.85h-17.86zM1869.7 671.65h17.86v17.85h-17.86zM2010.14 671.65h17.86v17.85h-17.86zM2045.25 671.65h17.86v17.85h-17.86zM1817.04 689.2h17.86v17.85h-17.86zM1939.92 689.2h17.86v17.85h-17.86zM1817.04 706.75h17.86v17.85h-17.86zM1939.92 706.75h17.86v17.85h-17.86zM1887.26 724.3h17.86v17.85h-17.86zM1676.6 741.85h17.86v17.85h-17.86zM2010.14 741.85h17.86v17.85h-17.86zM2027.7 741.85h17.86v17.85h-17.86zM1869.7 759.4h17.86v17.85h-17.86zM2027.7 759.4h17.86v17.85h-17.86zM1694.15 776.95h17.86v17.85h-17.86zM1887.26 776.95h17.86v17.85h-17.86zM1957.48 812.05h17.86v17.85h-17.86zM1764.38 829.6h17.86v17.85h-17.86zM1799.48 829.6h17.86v17.85h-17.86zM1781.93 847.15h17.86v17.85h-17.86zM1852.15 847.15h17.86v17.85h-17.86zM1992.59 847.15h17.86v17.85h-17.86zM2045.25 847.15h17.86v17.85h-17.86zM1746.82 864.7h17.86v17.85h-17.86zM1904.81 864.7h17.86v17.85h-17.86zM2045.25 864.7h17.86v17.85h-17.86zM2062.81 864.7h17.86v17.85h-17.86z"/><path fill="#efefff" d="M1852.15 671.65h17.86v17.85h-17.86zM1922.37 671.65h17.86v17.85h-17.86zM1781.93 706.75h17.86v17.85h-17.86zM1799.48 724.3h17.86v17.85h-17.86zM1764.38 759.4h17.86v17.85h-17.86zM1781.93 759.4h17.86v17.85h-17.86zM1922.37 794.5h17.86v17.85h-17.86zM1939.92 864.7h17.86v17.85h-17.86z"/><path fill="#f8f8ff" d="M1957.48 689.2h17.86v17.85h-17.86zM1957.48 864.7h17.86v17.85h-17.86z"/><path fill="#ddddff" d="M1975.03 689.2h17.86v17.85h-17.86zM1711.71 706.75h17.86v17.85h-17.86zM1764.38 741.85h17.86v17.85h-17.86zM1904.81 741.85h17.86v17.85h-17.86zM1975.03 741.85h17.86v17.85h-17.86zM1781.93 776.95h17.86v17.85h-17.86zM1781.93 794.5h17.86v17.85h-17.86z"/><path fill="#ff8181" d="M2027.7 689.2h17.86v17.85h-17.86zM1817.04 829.6h17.86v17.85h-17.86zM1887.26 847.15h17.86v17.85h-17.86zM1922.37 864.7h17.86v17.85h-17.86z"/><path fill="#ff7474" d="M2045.25 689.2h17.86v17.85h-17.86zM1746.82 706.75h17.86v17.85h-17.86zM2027.7 706.75h17.86v17.85h-17.86zM2027.7 829.6h17.86v17.85h-17.86zM1869.7 847.15h17.86v17.85h-17.86zM1869.7 864.7h17.86v17.85h-17.86zM1992.59 864.7h17.86v17.85h-17.86z"/><path fill="#ffc7c7" d="M2062.81 689.2h17.86v17.85h-17.86zM1746.82 741.85h17.86v17.85h-17.86zM1746.82 759.4h17.86v17.85h-17.86zM1746.82 794.5h17.86v17.85h-17.86zM1852.15 794.5h17.86v17.85h-17.86zM1711.71 829.6h17.86v17.85h-17.86zM2062.81 829.6h17.86v17.85h-17.86z"/><path fill="#d2d2ff" d="M1975.03 706.75h17.86v17.85h-17.86zM1729.26 724.3h17.86v17.85h-17.86zM1781.93 724.3h17.86v17.85h-17.86zM1799.48 812.05h17.86v17.85h-17.86z"/><path fill="#b0b0ff" d="M1764.38 724.3h17.86v17.85h-17.86zM1729.26 741.85h17.86v17.85h-17.86zM1781.93 741.85h17.86v17.85h-17.86zM1729.26 759.4h17.86v17.85h-17.86zM1992.59 776.95h17.86v17.85h-17.86z"/><path fill="#ff3f3f" d="M2045.25 741.85h17.86v17.85h-17.86zM1817.04 847.15h17.86v17.85h-17.86z"/><path fill="#ffdddd" d="M1852.15 759.4h17.86v17.85h-17.86zM1939.92 759.4h17.86v17.85h-17.86zM2010.14 759.4h17.86v17.85h-17.86zM1746.82 776.95h17.86v17.85h-17.86zM1869.7 776.95h17.86v17.85h-17.86zM1957.48 776.95h17.86v17.85h-17.86zM2027.7 776.95h17.86v17.85h-17.86zM2045.25 829.6h17.86v17.85h-17.86z"/><path fill="#ff1111" d="M2045.25 759.4h17.86v17.85h-17.86z"/><path fill="#ff2121" d="M2045.25 776.95h17.86v17.85h-17.86zM1799.48 847.15h17.86v17.85h-17.86zM1922.37 847.15h17.86v17.85h-17.86zM1799.48 864.7h17.86v17.85h-17.86z"/><path fill="#9999ff" d="M1799.48 794.5h17.86v17.85h-17.86zM1992.59 794.5h17.86v17.85h-17.86z"/><path fill="#ff4d4d" d="M1817.04 864.7h17.86v17.85h-17.86z"/>
<path d="M1681.18 658.67L1689.58 667.08M1681.18 667.08L1689.58 658.67M1698.73 658.67L1707.13 667.08M1698.73 667.08L1707.13 658.67M1716.29 658.67L1724.69 667.08M1716.29 667.08L1724.69 658.67M1733.84 658.67L1742.24 667.08M1733.84 667.08L1742.24 658.67M1768.95 658.67L1777.35 667.08M1768.95 667.08L1777.35 658.67M1786.51 658.67L1794.91 667.08M1786.51 667.08L1794.91 658.67M1804.06 658.67L1812.46 667.08M1804.06 667.08L1812.46 658.67M1821.62 658.67L1830.02 667.08M1821.62 667.08L1830.02 658.67M1874.28 658.67L1882.68 667.08M1874.28 667.08L1882.68 658.67M1891.84 658.67L1900.24 667.08M1891.84 667.08L1900.24 658.67M1926.95 658.67L1935.35 667.08M1926.95 667.08L1935.35 658.67M1944.5 658.67L1952.9 667.08M1944.5 667.08L1952.9 658.67M1997.17 658.67L2005.57 667.08M1997.17 667.08L2005.57 658.67M2049.83 658.67L2058.23 667.08M2049.83 667.08L2058.23 658.67M2067.39 658.67L2075.79 667.08M2067.39 667.08L2075.79 658.67M1681.18 676.22L1689.58 684.62M1681.18 684.62L1689.58 676.22M1698.73 676.22L1707.13 684.62M1698.73 684.62L1707.13 676.22M1716.29 676.22L1724.69 684.62M1716.29 684.62L1724.69 676.22M1733.84 676.22L1742.24 684.62M1733.84 684.62L1742.24 676.22M1751.4 676.22L1759.8 684.62M1751.4 684.62L1759.8 676.22M1768.95 676.22L1777.35 684.62M1768.95 684.62L1777.35 676.22M1786.51 676.22L1794.91 684.62M1786.51 684.62L1794.91 676.22M1804.06 676.22L1812.46 684.62M1804.06 684.62L1812.46 676.22M1821.62 676.22L1830.02 684.62M1821.62 684.62L1830.02 676.22M1874.28 676.22L1882.68 684.62M1874.28 684.62L1882.68 676.22M1891.84 676.22L1900.24 684.62M1891.84 684.62L1900.24 676.22M1909.39 676.22L1917.79 684.62M1909.39 684.62L1917.79 676.22M1944.5 676.22L1952.9 684.62M1944.5 684.62L1952.9 676.22M1979.61 676.22L1988.01 684.62M1979.61 684.62L1988.01 676.22M2014.72 676.22L2023.12 684.62M2014.72 684.62L2023.12 676.22M2032.28 676.22L2040.68 684.62M2032.28 684.62L2040.68 676.22M2049.83 676.22L2058.23 684.62M2049.83 684.62L2058.23 676.22M2067.39 676.22L2075.79 684.62M2067.39 684.62L2075.79 676.22M1681.18 693.77L1689.58 702.18M1681.18 702.18L1689.58 693.77M1698.73 693.77L1707.13 702.18M1698.73 702.18L1707.13 693.77M1716.29 693.77L1724.69 702.18M1716.29 702.18L1724.69 693.77M1733.84 693.77L1742.24 702.18M1733.84 702.18L1742.24 693.77M1751.4 693.77L1759.8 702.18M1751.4 702.18L1759.8 693.77M1786.51 693.77L1794.91 702.18M1786.51 702.18L1794.91 693.77M1804.06 693.77L1812.46 702.18M1804.06 702.18L1812.46 693.77M1821.62 693.77L1830.02 702.18M1821.62 702.18L1830.02 693.77M1874.28 693.77L1882.68 702.18M1874.28 702.18L1882.68 693.77M1891.84 693.77L1900.24 702.18M1891.84 702.18L1900.24 693.77M1909.39 693.77L1917.79 702.18M1909.39 702.18L1917.79 693.77M1944.5 693.77L1952.9 702.18M1944.5 702.18L1952.9 693.77M1962.06 693.77L1970.46 702.18M1962.06 702.18L1970.46 693.77M1979.61 693.77L1988.01 702.18M1979.61 702.18L1988.01 693.77M2014.72 693.77L2023.12 702.18M2014.72 702.18L2023.12 693.77M2032.28 693.77L2040.68 702.18M2032.28 702.18L2040.68 693.77M2049.83 693.77L2058.23 702.18M2049.83 702.18L2058.23 693.77M2067.39 693.77L2075.79 702.18M2067.39 702.18L2075.79 693.77M1681.18 711.32L1689.58 719.73M1681.18 719.73L1689.58 711.32M1698.73 711.32L1707.13 719.73M1698.73 719.73L1707.13 711.32M1716.29 711.32L1724.69 719.73M1716.29 719.73L1724.69 711.32M1751.4 711.32L1759.8 719.73M1751.4 719.73L1759.8 711.32M1768.95 711.32L1777.35 719.73M1768.95 719.73L1777.35 711.32M1786.51 711.32L1794.91 719.73M1786.51 719.73L1794.91 711.32M1804.06 711.32L1812.46 719.73M1804.06 719.73L1812.46 711.32M1821.62 711.32L1830.02 719.73M1821.62 719.73L1830.02 711.32M1839.17 711.32L1847.57 719.73M1839.17 719.73L1847.57 711.32M1856.73 711.32L1865.13 719.73M1856.73 719.73L1865.13 711.32M1874.28 711.32L1882.68 719.73M1874.28 719.73L1882.68 711.32M1891.84 711.32L1900.24 719.73M1891.84 719.73L1900.24 711.32M1944.5 711.32L1952.9 719.73M1944.5 719.73L1952.9 711.32M1962.06 711.32L1970.46 719.73M1962.06 719.73L1970.46 711.32M1979.61 711.32L1988.01 719.73M1979.61 719.73L1988.01 711.32M2014.72 711.32L2023.12 719.73M2014.72 719.73L2023.12 711.32M2032.28 711.32L2040.68 719.73M2032.28 719.73L2040.68 711.32M2049.83 711.32L2058.23 719.73M2049.83 719.73L2058.23 711.32M2067.39 711.32L2075.79 719.73M2067.39 719.73L2075.79 711.32M1681.18 728.88L1689.58 737.28M1681.18 737.28L1689.58 728.88M1733.84 728.88L1742.24 737.28M1733.84 737.28L1742.24 728.88M1751.4 728.88L1759.8 737.28M1751.4 737.28L1759.8 728.88M1768.95 728.88L1777.35 737.28M1768.95 737.28L1777.35 728.88M1786.51 728.88L1794.91 737.28M1786.51 737.28L1794.91 728.88M1821.62 728.88L1830.02 737.28M1821.62 737.28L1830.02 728.88M1839.17 728.88L1847.57 737.28M1839.17 737.28L1847.57 728.88M1874.28 728.88L1882.68 737.28M1874.28 737.28L1882.68 728.88M1891.84 728.88L1900.24 737.28M1891.84 737.28L1900.24 728.88M1944.5 728.88L1952.9 737.28M1944.5 737.28L1952.9 728.88M1979.61 728.88L1988.01 737.28M1979.61 737.28L1988.01 728.88M2014.72 728.88L2023.12 737.28M2014.72 737.28L2023.12 728.88M2032.28 728.88L2040.68 737.28M2032.28 737.28L2040.68 728.88M2049.83 728.88L2058.23 737.28M2049.83 737.28L2058.23 728.88M2067.39 728.88L2075.79 737.28M2067.39 737.28L2075.79 728.88M1681.18 746.42L1689.58 754.83M1681.18 754.83L1689.58 746.42M1733.84 746.42L1742.24 754.83M1733.84 754.83L1742.24 746.42M1751.4 746.42L1759.8 754.83M1751.4 754.83L1759.8 746.42M1768.95 746.42L1777.35 754.83M1768.95 754.83L1777.35 746.42M1786.51 746.42L1794.91 754.83M1786.51 754.83L1794.91 746.42M1839.17 746.42L1847.57 754.83M1839.17 754.83L1847.57 746.42M1874.28 746.42L1882.68 754.83M1874.28 754.83L1882.68 746.42M1891.84 746.42L1900.24 754.83M1891.84 754.83L1900.24 746.42M1909.39 746.42L1917.79 754.83M1909.39 754.83L1917.79 746.42M1944.5 746.42L1952.9 754.83M1944.5 754.83L1952.9 746.42M1979.61 746.42L1988.01 754.83M1979.61 754.83L1988.01 746.42M2014.72 746.42L2023.12 754.83M2014.72 754.83L2023.12 746.42M2032.28 746.42L2040.68 754.83M2032.28 754.83L2040.68 746.42M2049.83 746.42L2058.23 754.83M2049.83 754.83L2058.23 746.42M2067.39 746.42L2075.79 754.83M2067.39 754.83L2075.79 746.42M1681.18 763.98L1689.58 772.38M1681.18 772.38L1689.58 763.98M1698.73 763.98L1707.13 772.38M1698.73 772.38L1707.13 763.98M1733.84 763.98L1742.24 772.38M1733.84 772.38L1742.24 763.98M1751.4 763.98L1759.8 772.38M1751.4 772.38L1759.8 763.98M1821.62 763.98L1830.02 772.38M1821.62 772.38L1830.02 763.98M1839.17 763.98L1847.57 772.38M1839.17 772.38L1847.57 763.98M1856.73 763.98L1865.13 772.38M1856.73 772.38L1865.13 763.98M1874.28 763.98L1882.68 772.38M1874.28 772.38L1882.68 763.98M1891.84 763.98L1900.24 772.38M1891.84 772.38L1900.24 763.98M1909.39 763.98L1917.79 772.38M1909.39 772.38L1917.79 763.98M1962.06 763.98L1970.46 772.38M1962.06 772.38L1970.46 763.98M2032.28 763.98L2040.68 772.38M2032.28 772.38L2040.68 763.98M2049.83 763.98L2058.23 772.38M2049.83 772.38L2058.23 763.98M2067.39 763.98L2075.79 772.38M2067.39 772.38L2075.79 763.98M1681.18 781.52L1689.58 789.93M1681.18 789.93L1689.58 781.52M1698.73 781.52L1707.13 789.93M1698.73 789.93L1707.13 781.52M1716.29 781.52L1724.69 789.93M1716.29 789.93L1724.69 781.52M1733.84 781.52L1742.24 789.93M1733.84 789.93L1742.24 781.52M1786.51 781.52L1794.91 789.93M1786.51 789.93L1794.91 781.52M1804.06 781.52L1812.46 789.93M1804.06 789.93L1812.46 781.52M1821.62 781.52L1830.02 789.93M1821.62 789.93L1830.02 781.52M1856.73 781.52L1865.13 789.93M1856.73 789.93L1865.13 781.52M1874.28 781.52L1882.68 789.93M1874.28 789.93L1882.68 781.52M1891.84 781.52L1900.24 789.93M1891.84 789.93L1900.24 781.52M1909.39 781.52L1917.79 789.93M1909.39 789.93L1917.79 781.52M1979.61 781.52L1988.01 789.93M1979.61 789.93L1988.01 781.52M1997.17 781.52L2005.57 789.93M1997.17 789.93L2005.57 781.52M2049.83 781.52L2058.23 789.93M2049.83 789.93L2058.23 781.52M2067.39 781.52L2075.79 789.93M2067.39 789.93L2075.79 781.52M1681.18 799.07L1689.58 807.48M1681.18 807.48L1689.58 799.07M1716.29 799.07L1724.69 807.48M1716.29 807.48L1724.69 799.07M1804.06 799.07L1812.46 807.48M1804.06 807.48L1812.46 799.07M1821.62 799.07L1830.02 807.48M1821.62 807.48L1830.02 799.07M1891.84 799.07L1900.24 807.48M1891.84 807.48L1900.24 799.07M1909.39 799.07L1917.79 807.48M1909.39 807.48L1917.79 799.07M1962.06 799.07L1970.46 807.48M1962.06 807.48L1970.46 799.07M1979.61 799.07L1988.01 807.48M1979.61 807.48L1988.01 799.07M1997.17 799.07L2005.57 807.48M1997.17 807.48L2005.57 799.07M2049.83 799.07L2058.23 807.48M2049.83 807.48L2058.23 799.07M2067.39 799.07L2075.79 807.48M2067.39 807.48L2075.79 799.07M1716.29 816.62L1724.69 825.03M1716.29 825.03L1724.69 816.62M1751.4 816.62L1759.8 825.03M1751.4 825.03L1759.8 816.62M1804.06 816.62L1812.46 825.03M1804.06 825.03L1812.46 816.62M1821.62 816.62L1830.02 825.03M1821.62 825.03L1830.02 816.62M1856.73 816.62L1865.13 825.03M1856.73 825.03L1865.13 816.62M1874.28 816.62L1882.68 825.03M1874.28 825.03L1882.68 816.62M1909.39 816.62L1917.79 825.03M1909.39 825.03L1917.79 816.62M1962.06 816.62L1970.46 825.03M1962.06 825.03L1970.46 816.62M1979.61 816.62L1988.01 825.03M1979.61 825.03L1988.01 816.62M1997.17 816.62L2005.57 825.03M1997.17 825.03L2005.57 816.62M2049.83 816.62L2058.23 825.03M2049.83 825.03L2058.23 816.62M2067.39 816.62L2075.79 825.03M2067.39 825.03L2075.79 816.62M1681.18 834.17L1689.58 842.58M1681.18 842.58L1689.58 834.17M1698.73 834.17L1707.13 842.58M1698.73 842.58L1707.13 834.17M1716.29 834.17L1724.69 842.58M1716.29 842.58L1724.69 834.17M1751.4 834.17L1759.8 842.58M1751.4 842.58L1759.8 834.17M1768.95 834.17L1777.35 842.58M1768.95 842.58L1777.35 834.17M1786.51 834.17L1794.91 842.58M1786.51 842.58L1794.91 834.17M1804.06 834.17L1812.46 842.58M1804.06 842.58L1812.46 834.17M1821.62 834.17L1830.02 842.58M1821.62 842.58L1830.02 834.17M1839.17 834.17L1847.57 842.58M1839.17 842.58L1847.57 834.17M1856.73 834.17L1865.13 842.58M1856.73 842.58L1865.13 834.17M1874.28 834.17L1882.68 842.58M1874.28 842.58L1882.68 834.17M1891.84 834.17L1900.24 842.58M1891.84 842.58L1900.24 834.17M1909.39 834.17L1917.79 842.58M1909.39 842.58L1917.79 834.17M1926.95 834.17L1935.35 842.58M1926.95 842.58L1935.35 834.17M1962.06 834.17L1970.46 842.58M1962.06 842.58L1970.46 834.17M1979.61 834.17L1988.01 842.58M1979.61 842.58L1988.01 834.17M2014.72 834.17L2023.12 842.58M2014.72 842.58L2023.12 834.17M2032.28 834.17L2040.68 842.58M2032.28 842.58L2040.68 834.17M2067.39 834.17L2075.79 842.58M2067.39 842.58L2075.79 834.17M1681.18 851.73L1689.58 860.13M1681.18 860.13L1689.58 851.73M1698.73 851.73L1707.13 860.13M1698.73 860.13L1707.13 851.73M1716.29 851.73L1724.69 860.13M1716.29 860.13L1724.69 851.73M1751.4 851.73L1759.8 860.13M1751.4 860.13L1759.8 851.73M1768.95 851.73L1777.35 860.13M1768.95 860.13L1777.35 851.73M1786.51 851.73L1794.91 860.13M1786.51 860.13L1794.91 851.73M1804.06 851.73L1812.46 860.13M1804.06 860.13L1812.46 851.73M1821.62 851.73L1830.02 860.13M1821.62 860.13L1830.02 851.73M1839.17 851.73L1847.57 860.13M1839.17 860.13L1847.57 851.73M1856.73 851.73L1865.13 860.13M1856.73 860.13L1865.13 851.73M1874.28 851.73L1882.68 860.13M1874.28 860.13L1882.68 851.73M1891.84 851.73L1900.24 860.13M1891.84 860.13L1900.24 851.73M1909.39 851.73L1917.79 860.13M1909.39 860.13L1917.79 851.73M1926.95 851.73L1935.35 860.13M1926.95 860.13L1935.35 851.73M1962.06 851.73L1970.46 860.13M1962.06 860.13L1970.46 851.73M1979.61 851.73L1988.01 860.13M1979.61 860.13L1988.01 851.73M2014.72 851.73L2023.12 860.13M2014.72 860.13L2023.12 851.73M2032.28 851.73L2040.68 860.13M2032.28 860.13L2040.68 851.73M2049.83 851.73L2058.23 860.13M2049.83 860.13L2058.23 851.73M2067.39 851.73L2075.79 860.13M2067.39 860.13L2075.79 851.73M1681.18 869.27L1689.58 877.68M1681.18 877.68L1689.58 869.27M1733.84 869.27L1742.24 877.68M1733.84 877.68L1742.24 869.27M1786.51 869.27L1794.91 877.68M1786.51 877.68L1794.91 869.27M1804.06 869.27L1812.46 877.68M1804.06 877.68L1812.46 869.27M1821.62 869.27L1830.02 877.68M1821.62 877.68L1830.02 869.27M1839.17 869.27L1847.57 877.68M1839.17 877.68L1847.57 869.27M1856.73 869.27L1865.13 877.68M1856.73 877.68L1865.13 869.27M1874.28 869.27L1882.68 877.68M1874.28 877.68L1882.68 869.27M1891.84 869.27L1900.24 877.68M1891.84 877.68L1900.24 869.27M1926.95 869.27L1935.35 877.68M1926.95 877.68L1935.35 869.27M1997.17 869.27L2005.57 877.68M1997.17 877.68L2005.57 869.27M2014.72 869.27L2023.12 877.68M2014.72 877.68L2023.12 869.27M2032.28 869.27L2040.68 877.68M2032.28 877.68L2040.68 869.27M2067.39 869.27L2075.79 877.68M2067.39 877.68L2075.79 869.27" stroke="#000" stroke-width="1.05" fill="none"/>
<path d="M1676.6 652.85V883.5M1694.15 652.85V883.5M1711.71 652.85V883.5M1729.26 652.85V883.5M1746.82 652.85V883.5M1764.38 652.85V883.5M1781.93 652.85V883.5M1799.48 652.85V883.5M1817.04 652.85V883.5M1834.59 652.85V883.5M1852.15 652.85V883.5M1869.7 652.85V883.5M1887.26 652.85V883.5M1904.81 652.85V883.5M1922.37 652.85V883.5M1939.92 652.85V883.5M1957.48 652.85V883.5M1975.03 652.85V883.5M1992.59 652.85V883.5M2010.14 652.85V883.5M2027.7 652.85V883.5M2045.25 652.85V883.5M2062.81 652.85V883.5M2080.36 652.85V883.5M1675.35 654.1H2081.61M1675.35 671.65H2081.61M1675.35 689.2H2081.61M1675.35 706.75H2081.61M1675.35 724.3H2081.61M1675.35 741.85H2081.61M1675.35 759.4H2081.61M1675.35 776.95H2081.61M1675.35 794.5H2081.61M1675.35 812.05H2081.61M1675.35 829.6H2081.61M1675.35 847.15H2081.61M1675.35 864.7H2081.61M1675.35 882.25H2081.61" stroke="#000" stroke-width="2.5" fill="none"/>
<text x="1878.48" y="645.6" text-anchor="middle" font-size="31.5" fill="#000">(o) Humboldt</text>
<text x="1664.5" y="661.3" text-anchor="end" font-size="29" fill="#262626">16S</text>
<text x="1664.5" y="889.45" text-anchor="end" font-size="29" fill="#262626">41S</text>
<path fill="#a4a4ff" d="M1676.6 950.4h17.86v17.85h-17.86zM1817.04 950.4h17.86v17.85h-17.86zM1904.81 950.4h17.86v17.85h-17.86zM1922.37 950.4h17.86v17.85h-17.86zM1817.04 967.95h17.86v17.85h-17.86z"/><path fill="#ddddff" d="M1694.15 950.4h17.86v17.85h-17.86zM2062.81 950.4h17.86v17.85h-17.86zM1676.6 985.5h17.86v17.85h-17.86zM1817.04 985.5h17.86v17.85h-17.86zM1676.6 1003.05h17.86v17.85h-17.86zM1992.59 1003.05h17.86v17.85h-17.86z"/><path fill="#6868ff" d="M1711.71 950.4h17.86v17.85h-17.86zM1764.38 950.4h17.86v17.85h-17.86zM1711.71 967.95h17.86v17.85h-17.86zM1764.38 967.95h17.86v17.85h-17.86zM1992.59 1073.25h17.86v17.85h-17.86z"/><path fill="#ffe9e9" d="M1729.26 950.4h17.86v17.85h-17.86zM2010.14 950.4h17.86v17.85h-17.86zM1729.26 967.95h17.86v17.85h-17.86zM1852.15 967.95h17.86v17.85h-17.86zM1939.92 967.95h17.86v17.85h-17.86zM2010.14 967.95h17.86v17.85h-17.86zM1729.26 985.5h17.86v17.85h-17.86zM1852.15 985.5h17.86v17.85h-17.86zM1887.26 985.5h17.86v17.85h-17.86zM1939.92 985.5h17.86v17.85h-17.86zM1694.15 1003.05h17.86v17.85h-17.86zM1746.82 1003.05h17.86v17.85h-17.86zM1834.59 1003.05h17.86v17.85h-17.86zM1852.15 1003.05h17.86v17.85h-17.86zM1887.26 1003.05h17.86v17.85h-17.86zM2010.14 1003.05h17.86v17.85h-17.86zM1711.71 1020.6h17.86v17.85h-17.86zM1729.26 1038.15h17.86v17.85h-17.86zM1729.26 1055.7h17.86v17.85h-17.86zM1729.26 1090.8h17.86v17.85h-17.86zM2027.7 1090.8h17.86v17.85h-17.86zM1975.03 1108.35h17.86v17.85h-17.86z"/><path fill="#ffefef" d="M1746.82 950.4h17.86v17.85h-17.86zM1852.15 950.4h17.86v17.85h-17.86zM1957.48 967.95h17.86v17.85h-17.86zM1694.15 985.5h17.86v17.85h-17.86zM1869.7 985.5h17.86v17.85h-17.86zM1764.38 1090.8h17.86v17.85h-17.86z"/><path fill="#ff6868" d="M1781.93 950.4h17.86v17.85h-17.86zM2010.14 1020.6h17.86v17.85h-17.86zM1746.82 1038.15h17.86v17.85h-17.86zM1817.04 1038.15h17.86v17.85h-17.86zM1852.15 1038.15h17.86v17.85h-17.86zM1711.71 1055.7h17.86v17.85h-17.86zM1711.71 1073.25h17.86v17.85h-17.86zM1781.93 1073.25h17.86v17.85h-17.86zM1904.81 1073.25h17.86v17.85h-17.86zM1711.71 1090.8h17.86v17.85h-17.86zM1817.04 1090.8h17.86v17.85h-17.86zM2062.81 1108.35h17.86v17.85h-17.86z"/><path fill="#c7c7ff" d="M1869.7 950.4h17.86v17.85h-17.86zM1975.03 950.4h17.86v17.85h-17.86zM1992.59 985.5h17.86v17.85h-17.86zM1764.38 1003.05h17.86v17.85h-17.86zM1764.38 1020.6h17.86v17.85h-17.86zM1922.37 1020.6h17.86v17.85h-17.86z"/><path fill="#b0b0ff" d="M1887.26 950.4h17.86v17.85h-17.86zM1676.6 967.95h17.86v17.85h-17.86zM1904.81 967.95h17.86v17.85h-17.86zM1711.71 985.5h17.86v17.85h-17.86zM1904.81 985.5h17.86v17.85h-17.86zM1922.37 1003.05h17.86v17.85h-17.86z"/><path fill="#d2d2ff" d="M1957.48 950.4h17.86v17.85h-17.86z"/><path fill="#5b5bff" d="M1992.59 950.4h17.86v17.85h-17.86zM1992.59 1055.7h17.86v17.85h-17.86z"/><path fill="#ffbbbb" d="M2027.7 950.4h17.86v17.85h-17.86zM1869.7 967.95h17.86v17.85h-17.86zM2027.7 985.5h17.86v17.85h-17.86zM1764.38 1073.25h17.86v17.85h-17.86zM1834.59 1073.25h17.86v17.85h-17.86zM1939.92 1073.25h17.86v17.85h-17.86z"/><path fill="#ff8181" d="M2045.25 950.4h17.86v17.85h-17.86zM1746.82 1055.7h17.86v17.85h-17.86zM1887.26 1055.7h17.86v17.85h-17.86zM2010.14 1108.35h17.86v17.85h-17.86z"/><path fill="#ffdddd" d="M1694.15 967.95h17.86v17.85h-17.86zM2062.81 1003.05h17.86v17.85h-17.86zM1781.93 1020.6h17.86v17.85h-17.86zM1957.48 1108.35h17.86v17.85h-17.86z"/><path fill="#ffc7c7" d="M1746.82 967.95h17.86v17.85h-17.86zM1799.48 967.95h17.86v17.85h-17.86zM1694.15 1020.6h17.86v17.85h-17.86zM1694.15 1055.7h17.86v17.85h-17.86zM1781.93 1055.7h17.86v17.85h-17.86zM1694.15 1073.25h17.86v17.85h-17.86zM1957.48 1090.8h17.86v17.85h-17.86z"/><path fill="#ff7474" d="M1781.93 967.95h17.86v17.85h-17.86zM1746.82 1020.6h17.86v17.85h-17.86zM1904.81 1055.7h17.86v17.85h-17.86zM2010.14 1055.7h17.86v17.85h-17.86zM1975.03 1073.25h17.86v17.85h-17.86zM2010.14 1073.25h17.86v17.85h-17.86zM1746.82 1090.8h17.86v17.85h-17.86zM1869.7 1108.35h17.86v17.85h-17.86zM2045.25 1108.35h17.86v17.85h-17.86z"/><path fill="#8181ff" d="M1922.37 967.95h17.86v17.85h-17.86zM1992.59 1038.15h17.86v17.85h-17.86zM1992.59 1090.8h17.86v17.85h-17.86z"/><path fill="#bbbbff" d="M1992.59 967.95h17.86v17.85h-17.86zM1764.38 985.5h17.86v17.85h-17.86z"/><path fill="#ffb0b0" d="M2027.7 967.95h17.86v17.85h-17.86zM1781.93 985.5h17.86v17.85h-17.86zM1975.03 985.5h17.86v17.85h-17.86zM1939.92 1003.05h17.86v17.85h-17.86zM2027.7 1003.05h17.86v17.85h-17.86zM1834.59 1020.6h17.86v17.85h-17.86zM1852.15 1020.6h17.86v17.85h-17.86zM2062.81 1020.6h17.86v17.85h-17.86zM1676.6 1038.15h17.86v17.85h-17.86zM1694.15 1038.15h17.86v17.85h-17.86zM1799.48 1038.15h17.86v17.85h-17.86zM1676.6 1055.7h17.86v17.85h-17.86zM1939.92 1055.7h17.86v17.85h-17.86zM1729.26 1073.25h17.86v17.85h-17.86zM1746.82 1073.25h17.86v17.85h-17.86zM1852.15 1073.25h17.86v17.85h-17.86zM1887.26 1073.25h17.86v17.85h-17.86zM1922.37 1073.25h17.86v17.85h-17.86zM1834.59 1090.8h17.86v17.85h-17.86z"/><path fill="#ff2121" d="M2045.25 967.95h17.86v17.85h-17.86zM2045.25 985.5h17.86v17.85h-17.86zM2045.25 1003.05h17.86v17.85h-17.86zM2045.25 1020.6h17.86v17.85h-17.86zM1957.48 1038.15h17.86v17.85h-17.86zM2045.25 1038.15h17.86v17.85h-17.86zM1957.48 1055.7h17.86v17.85h-17.86zM1676.6 1108.35h17.86v17.85h-17.86zM1711.71 1108.35h17.86v17.85h-17.86zM1746.82 1108.35h17.86v17.85h-17.86zM1781.93 1108.35h17.86v17.85h-17.86zM1799.48 1108.35h17.86v17.85h-17.86zM1887.26 1108.35h17.86v17.85h-17.86zM1922.37 1108.35h17.86v17.85h-17.86zM2027.7 1108.35h17.86v17.85h-17.86z"/><path fill="#ffd2d2" d="M1746.82 985.5h17.86v17.85h-17.86zM1799.48 985.5h17.86v17.85h-17.86zM1957.48 985.5h17.86v17.85h-17.86zM1729.26 1003.05h17.86v17.85h-17.86zM1781.93 1003.05h17.86v17.85h-17.86zM1729.26 1020.6h17.86v17.85h-17.86zM1817.04 1020.6h17.86v17.85h-17.86zM1887.26 1020.6h17.86v17.85h-17.86zM1781.93 1038.15h17.86v17.85h-17.86zM1869.7 1038.15h17.86v17.85h-17.86zM1904.81 1038.15h17.86v17.85h-17.86zM1869.7 1055.7h17.86v17.85h-17.86zM1922.37 1055.7h17.86v17.85h-17.86zM1676.6 1073.25h17.86v17.85h-17.86zM1869.7 1073.25h17.86v17.85h-17.86zM2027.7 1073.25h17.86v17.85h-17.86zM1694.15 1090.8h17.86v17.85h-17.86zM1869.7 1090.8h17.86v17.85h-17.86zM1764.38 1108.35h17.86v17.85h-17.86zM1939.92 1108.35h17.86v17.85h-17.86z"/><path fill="#fff4f4" d="M1834.59 985.5h17.86v17.85h-17.86zM2010.14 985.5h17.86v17.85h-17.86zM2062.81 985.5h17.86v17.85h-17.86zM1922.37 1038.15h17.86v17.85h-17.86z"/><path fill="#9999ff" d="M1922.37 985.5h17.86v17.85h-17.86z"/><path fill="#ff9999" d="M1799.48 1003.05h17.86v17.85h-17.86zM1711.71 1038.15h17.86v17.85h-17.86zM2027.7 1038.15h17.86v17.85h-17.86zM2027.7 1055.7h17.86v17.85h-17.86zM2062.81 1090.8h17.86v17.85h-17.86zM1729.26 1108.35h17.86v17.85h-17.86zM1852.15 1108.35h17.86v17.85h-17.86zM1992.59 1108.35h17.86v17.85h-17.86z"/><path fill="#efefff" d="M1904.81 1003.05h17.86v17.85h-17.86z"/><path fill="#ff8d8d" d="M1957.48 1003.05h17.86v17.85h-17.86zM1975.03 1003.05h17.86v17.85h-17.86zM1799.48 1020.6h17.86v17.85h-17.86zM2027.7 1020.6h17.86v17.85h-17.86zM1834.59 1038.15h17.86v17.85h-17.86zM1887.26 1038.15h17.86v17.85h-17.86zM1939.92 1038.15h17.86v17.85h-17.86zM2062.81 1038.15h17.86v17.85h-17.86zM1834.59 1055.7h17.86v17.85h-17.86zM1852.15 1055.7h17.86v17.85h-17.86zM1799.48 1073.25h17.86v17.85h-17.86zM1957.48 1073.25h17.86v17.85h-17.86zM1852.15 1090.8h17.86v17.85h-17.86zM1887.26 1090.8h17.86v17.85h-17.86zM1922.37 1090.8h17.86v17.85h-17.86zM1975.03 1090.8h17.86v17.85h-17.86zM2045.25 1090.8h17.86v17.85h-17.86zM1694.15 1108.35h17.86v17.85h-17.86z"/><path fill="#e9e9ff" d="M1676.6 1020.6h17.86v17.85h-17.86zM1992.59 1020.6h17.86v17.85h-17.86z"/><path fill="#ffa4a4" d="M1939.92 1020.6h17.86v17.85h-17.86zM1799.48 1055.7h17.86v17.85h-17.86zM2045.25 1055.7h17.86v17.85h-17.86zM2062.81 1055.7h17.86v17.85h-17.86zM2045.25 1073.25h17.86v17.85h-17.86zM2062.81 1073.25h17.86v17.85h-17.86zM1676.6 1090.8h17.86v17.85h-17.86zM1939.92 1090.8h17.86v17.85h-17.86zM2010.14 1090.8h17.86v17.85h-17.86zM1834.59 1108.35h17.86v17.85h-17.86z"/><path fill="#ff4d4d" d="M1957.48 1020.6h17.86v17.85h-17.86zM1975.03 1020.6h17.86v17.85h-17.86zM1817.04 1073.25h17.86v17.85h-17.86zM1781.93 1090.8h17.86v17.85h-17.86zM1904.81 1090.8h17.86v17.85h-17.86z"/><path fill="#ff3f3f" d="M1975.03 1038.15h17.86v17.85h-17.86zM2010.14 1038.15h17.86v17.85h-17.86zM1799.48 1090.8h17.86v17.85h-17.86zM1817.04 1108.35h17.86v17.85h-17.86zM1904.81 1108.35h17.86v17.85h-17.86z"/><path fill="#ff5b5b" d="M1817.04 1055.7h17.86v17.85h-17.86zM1975.03 1055.7h17.86v17.85h-17.86z"/>
<path d="M1681.18 954.97L1689.58 963.38M1681.18 963.38L1689.58 954.97M1716.29 954.97L1724.69 963.38M1716.29 963.38L1724.69 954.97M1733.84 954.97L1742.24 963.38M1733.84 963.38L1742.24 954.97M1768.95 954.97L1777.35 963.38M1768.95 963.38L1777.35 954.97M1786.51 954.97L1794.91 963.38M1786.51 963.38L1794.91 954.97M1821.62 954.97L1830.02 963.38M1821.62 963.38L1830.02 954.97M1874.28 954.97L1882.68 963.38M1874.28 963.38L1882.68 954.97M1891.84 954.97L1900.24 963.38M1891.84 963.38L1900.24 954.97M1909.39 954.97L1917.79 963.38M1909.39 963.38L1917.79 954.97M1926.95 954.97L1935.35 963.38M1926.95 963.38L1935.35 954.97M1997.17 954.97L2005.57 963.38M1997.17 963.38L2005.57 954.97M2032.28 954.97L2040.68 963.38M2032.28 963.38L2040.68 954.97M2049.83 954.97L2058.23 963.38M2049.83 963.38L2058.23 954.97M2067.39 954.97L2075.79 963.38M2067.39 963.38L2075.79 954.97M1681.18 972.52L1689.58 980.92M1681.18 980.92L1689.58 972.52M1716.29 972.52L1724.69 980.92M1716.29 980.92L1724.69 972.52M1768.95 972.52L1777.35 980.92M1768.95 980.92L1777.35 972.52M1786.51 972.52L1794.91 980.92M1786.51 980.92L1794.91 972.52M1821.62 972.52L1830.02 980.92M1821.62 980.92L1830.02 972.52M1874.28 972.52L1882.68 980.92M1874.28 980.92L1882.68 972.52M1909.39 972.52L1917.79 980.92M1909.39 980.92L1917.79 972.52M1926.95 972.52L1935.35 980.92M1926.95 980.92L1935.35 972.52M1997.17 972.52L2005.57 980.92M1997.17 980.92L2005.57 972.52M2032.28 972.52L2040.68 980.92M2032.28 980.92L2040.68 972.52M2049.83 972.52L2058.23 980.92M2049.83 980.92L2058.23 972.52M1681.18 990.07L1689.58 998.48M1681.18 998.48L1689.58 990.07M1716.29 990.07L1724.69 998.48M1716.29 998.48L1724.69 990.07M1751.4 990.07L1759.8 998.48M1751.4 998.48L1759.8 990.07M1768.95 990.07L1777.35 998.48M1768.95 998.48L1777.35 990.07M1786.51 990.07L1794.91 998.48M1786.51 998.48L1794.91 990.07M1804.06 990.07L1812.46 998.48M1804.06 998.48L1812.46 990.07M1856.73 990.07L1865.13 998.48M1856.73 998.48L1865.13 990.07M1909.39 990.07L1917.79 998.48M1909.39 998.48L1917.79 990.07M1926.95 990.07L1935.35 998.48M1926.95 998.48L1935.35 990.07M1944.5 990.07L1952.9 998.48M1944.5 998.48L1952.9 990.07M1962.06 990.07L1970.46 998.48M1962.06 998.48L1970.46 990.07M1979.61 990.07L1988.01 998.48M1979.61 998.48L1988.01 990.07M1997.17 990.07L2005.57 998.48M1997.17 998.48L2005.57 990.07M2032.28 990.07L2040.68 998.48M2032.28 998.48L2040.68 990.07M2049.83 990.07L2058.23 998.48M2049.83 998.48L2058.23 990.07M2067.39 990.07L2075.79 998.48M2067.39 998.48L2075.79 990.07M1733.84 1007.62L1742.24 1016.02M1733.84 1016.02L1742.24 1007.62M1751.4 1007.62L1759.8 1016.02M1751.4 1016.02L1759.8 1007.62M1768.95 1007.62L1777.35 1016.02M1768.95 1016.02L1777.35 1007.62M1804.06 1007.62L1812.46 1016.02M1804.06 1016.02L1812.46 1007.62M1856.73 1007.62L1865.13 1016.02M1856.73 1016.02L1865.13 1007.62M1926.95 1007.62L1935.35 1016.02M1926.95 1016.02L1935.35 1007.62M1944.5 1007.62L1952.9 1016.02M1944.5 1016.02L1952.9 1007.62M1962.06 1007.62L1970.46 1016.02M1962.06 1016.02L1970.46 1007.62M1979.61 1007.62L1988.01 1016.02M1979.61 1016.02L1988.01 1007.62M2014.72 1007.62L2023.12 1016.02M2014.72 1016.02L2023.12 1007.62M2032.28 1007.62L2040.68 1016.02M2032.28 1016.02L2040.68 1007.62M2049.83 1007.62L2058.23 1016.02M2049.83 1016.02L2058.23 1007.62M2067.39 1007.62L2075.79 1016.02M2067.39 1016.02L2075.79 1007.62M1698.73 1025.17L1707.13 1033.58M1698.73 1033.58L1707.13 1025.17M1716.29 1025.17L1724.69 1033.58M1716.29 1033.58L1724.69 1025.17M1733.84 1025.17L1742.24 1033.58M1733.84 1033.58L1742.24 1025.17M1751.4 1025.17L1759.8 1033.58M1751.4 1033.58L1759.8 1025.17M1786.51 1025.17L1794.91 1033.58M1786.51 1033.58L1794.91 1025.17M1804.06 1025.17L1812.46 1033.58M1804.06 1033.58L1812.46 1025.17M1821.62 1025.17L1830.02 1033.58M1821.62 1033.58L1830.02 1025.17M1839.17 1025.17L1847.57 1033.58M1839.17 1033.58L1847.57 1025.17M1856.73 1025.17L1865.13 1033.58M1856.73 1033.58L1865.13 1025.17M1944.5 1025.17L1952.9 1033.58M1944.5 1033.58L1952.9 1025.17M1962.06 1025.17L1970.46 1033.58M1962.06 1033.58L1970.46 1025.17M1979.61 1025.17L1988.01 1033.58M1979.61 1033.58L1988.01 1025.17M2014.72 1025.17L2023.12 1033.58M2014.72 1033.58L2023.12 1025.17M2032.28 1025.17L2040.68 1033.58M2032.28 1033.58L2040.68 1025.17M2049.83 1025.17L2058.23 1033.58M2049.83 1033.58L2058.23 1025.17M2067.39 1025.17L2075.79 1033.58M2067.39 1033.58L2075.79 1025.17M1681.18 1042.73L1689.58 1051.13M1681.18 1051.13L1689.58 1042.73M1698.73 1042.73L1707.13 1051.13M1698.73 1051.13L1707.13 1042.73M1716.29 1042.73L1724.69 1051.13M1716.29 1051.13L1724.69 1042.73M1733.84 1042.73L1742.24 1051.13M1733.84 1051.13L1742.24 1042.73M1751.4 1042.73L1759.8 1051.13M1751.4 1051.13L1759.8 1042.73M1786.51 1042.73L1794.91 1051.13M1786.51 1051.13L1794.91 1042.73M1804.06 1042.73L1812.46 1051.13M1804.06 1051.13L1812.46 1042.73M1821.62 1042.73L1830.02 1051.13M1821.62 1051.13L1830.02 1042.73M1839.17 1042.73L1847.57 1051.13M1839.17 1051.13L1847.57 1042.73M1856.73 1042.73L1865.13 1051.13M1856.73 1051.13L1865.13 1042.73M1874.28 1042.73L1882.68 1051.13M1874.28 1051.13L1882.68 1042.73M1891.84 1042.73L1900.24 1051.13M1891.84 1051.13L1900.24 1042.73M1909.39 1042.73L1917.79 1051.13M1909.39 1051.13L1917.79 1042.73M1944.5 1042.73L1952.9 1051.13M1944.5 1051.13L1952.9 1042.73M1962.06 1042.73L1970.46 1051.13M1962.06 1051.13L1970.46 1042.73M1979.61 1042.73L1988.01 1051.13M1979.61 1051.13L1988.01 1042.73M1997.17 1042.73L2005.57 1051.13M1997.17 1051.13L2005.57 1042.73M2014.72 1042.73L2023.12 1051.13M2014.72 1051.13L2023.12 1042.73M2032.28 1042.73L2040.68 1051.13M2032.28 1051.13L2040.68 1042.73M2049.83 1042.73L2058.23 1051.13M2049.83 1051.13L2058.23 1042.73M2067.39 1042.73L2075.79 1051.13M2067.39 1051.13L2075.79 1042.73M1681.18 1060.28L1689.58 1068.68M1681.18 1068.68L1689.58 1060.28M1698.73 1060.28L1707.13 1068.68M1698.73 1068.68L1707.13 1060.28M1716.29 1060.28L1724.69 1068.68M1716.29 1068.68L1724.69 1060.28M1733.84 1060.28L1742.24 1068.68M1733.84 1068.68L1742.24 1060.28M1751.4 1060.28L1759.8 1068.68M1751.4 1068.68L1759.8 1060.28M1786.51 1060.28L1794.91 1068.68M1786.51 1068.68L1794.91 1060.28M1804.06 1060.28L1812.46 1068.68M1804.06 1068.68L1812.46 1060.28M1821.62 1060.28L1830.02 1068.68M1821.62 1068.68L1830.02 1060.28M1839.17 1060.28L1847.57 1068.68M1839.17 1068.68L1847.57 1060.28M1856.73 1060.28L1865.13 1068.68M1856.73 1068.68L1865.13 1060.28M1874.28 1060.28L1882.68 1068.68M1874.28 1068.68L1882.68 1060.28M1891.84 1060.28L1900.24 1068.68M1891.84 1068.68L1900.24 1060.28M1909.39 1060.28L1917.79 1068.68M1909.39 1068.68L1917.79 1060.28M1926.95 1060.28L1935.35 1068.68M1926.95 1068.68L1935.35 1060.28M1944.5 1060.28L1952.9 1068.68M1944.5 1068.68L1952.9 1060.28M1962.06 1060.28L1970.46 1068.68M1962.06 1068.68L1970.46 1060.28M1979.61 1060.28L1988.01 1068.68M1979.61 1068.68L1988.01 1060.28M1997.17 1060.28L2005.57 1068.68M1997.17 1068.68L2005.57 1060.28M2014.72 1060.28L2023.12 1068.68M2014.72 1068.68L2023.12 1060.28M2032.28 1060.28L2040.68 1068.68M2032.28 1068.68L2040.68 1060.28M2049.83 1060.28L2058.23 1068.68M2049.83 1068.68L2058.23 1060.28M2067.39 1060.28L2075.79 1068.68M2067.39 1068.68L2075.79 1060.28M1681.18 1077.83L1689.58 1086.23M1681.18 1086.23L1689.58 1077.83M1698.73 1077.83L1707.13 1086.23M1698.73 1086.23L1707.13 1077.83M1716.29 1077.83L1724.69 1086.23M1716.29 1086.23L1724.69 1077.83M1733.84 1077.83L1742.24 1086.23M1733.84 1086.23L1742.24 1077.83M1751.4 1077.83L1759.8 1086.23M1751.4 1086.23L1759.8 1077.83M1768.95 1077.83L1777.35 1086.23M1768.95 1086.23L1777.35 1077.83M1786.51 1077.83L1794.91 1086.23M1786.51 1086.23L1794.91 1077.83M1804.06 1077.83L1812.46 1086.23M1804.06 1086.23L1812.46 1077.83M1821.62 1077.83L1830.02 1086.23M1821.62 1086.23L1830.02 1077.83M1839.17 1077.83L1847.57 1086.23M1839.17 1086.23L1847.57 1077.83M1856.73 1077.83L1865.13 1086.23M1856.73 1086.23L1865.13 1077.83M1874.28 1077.83L1882.68 1086.23M1874.28 1086.23L1882.68 1077.83M1891.84 1077.83L1900.24 1086.23M1891.84 1086.23L1900.24 1077.83M1909.39 1077.83L1917.79 1086.23M1909.39 1086.23L1917.79 1077.83M1926.95 1077.83L1935.35 1086.23M1926.95 1086.23L1935.35 1077.83M1944.5 1077.83L1952.9 1086.23M1944.5 1086.23L1952.9 1077.83M1962.06 1077.83L1970.46 1086.23M1962.06 1086.23L1970.46 1077.83M1979.61 1077.83L1988.01 1086.23M1979.61 1086.23L1988.01 1077.83M1997.17 1077.83L2005.57 1086.23M1997.17 1086.23L2005.57 1077.83M2014.72 1077.83L2023.12 1086.23M2014.72 1086.23L2023.12 1077.83M2032.28 1077.83L2040.68 1086.23M2032.28 1086.23L2040.68 1077.83M2049.83 1077.83L2058.23 1086.23M2049.83 1086.23L2058.23 1077.83M2067.39 1077.83L2075.79 1086.23M2067.39 1086.23L2075.79 1077.83M1681.18 1095.38L1689.58 1103.78M1681.18 1103.78L1689.58 1095.38M1698.73 1095.38L1707.13 1103.78M1698.73 1103.78L1707.13 1095.38M1716.29 1095.38L1724.69 1103.78M1716.29 1103.78L1724.69 1095.38M1733.84 1095.38L1742.24 1103.78M1733.84 1103.78L1742.24 1095.38M1751.4 1095.38L1759.8 1103.78M1751.4 1103.78L1759.8 1095.38M1768.95 1095.38L1777.35 1103.78M1768.95 1103.78L1777.35 1095.38M1786.51 1095.38L1794.91 1103.78M1786.51 1103.78L1794.91 1095.38M1804.06 1095.38L1812.46 1103.78M1804.06 1103.78L1812.46 1095.38M1821.62 1095.38L1830.02 1103.78M1821.62 1103.78L1830.02 1095.38M1839.17 1095.38L1847.57 1103.78M1839.17 1103.78L1847.57 1095.38M1856.73 1095.38L1865.13 1103.78M1856.73 1103.78L1865.13 1095.38M1874.28 1095.38L1882.68 1103.78M1874.28 1103.78L1882.68 1095.38M1891.84 1095.38L1900.24 1103.78M1891.84 1103.78L1900.24 1095.38M1909.39 1095.38L1917.79 1103.78M1909.39 1103.78L1917.79 1095.38M1926.95 1095.38L1935.35 1103.78M1926.95 1103.78L1935.35 1095.38M1944.5 1095.38L1952.9 1103.78M1944.5 1103.78L1952.9 1095.38M1962.06 1095.38L1970.46 1103.78M1962.06 1103.78L1970.46 1095.38M1979.61 1095.38L1988.01 1103.78M1979.61 1103.78L1988.01 1095.38M2014.72 1095.38L2023.12 1103.78M2014.72 1103.78L2023.12 1095.38M2049.83 1095.38L2058.23 1103.78M2049.83 1103.78L2058.23 1095.38M2067.39 1095.38L2075.79 1103.78M2067.39 1103.78L2075.79 1095.38M1681.18 1112.92L1689.58 1121.33M1681.18 1121.33L1689.58 1112.92M1698.73 1112.92L1707.13 1121.33M1698.73 1121.33L1707.13 1112.92M1716.29 1112.92L1724.69 1121.33M1716.29 1121.33L1724.69 1112.92M1733.84 1112.92L1742.24 1121.33M1733.84 1121.33L1742.24 1112.92M1751.4 1112.92L1759.8 1121.33M1751.4 1121.33L1759.8 1112.92M1786.51 1112.92L1794.91 1121.33M1786.51 1121.33L1794.91 1112.92M1804.06 1112.92L1812.46 1121.33M1804.06 1121.33L1812.46 1112.92M1821.62 1112.92L1830.02 1121.33M1821.62 1121.33L1830.02 1112.92M1839.17 1112.92L1847.57 1121.33M1839.17 1121.33L1847.57 1112.92M1856.73 1112.92L1865.13 1121.33M1856.73 1121.33L1865.13 1112.92M1874.28 1112.92L1882.68 1121.33M1874.28 1121.33L1882.68 1112.92M1891.84 1112.92L1900.24 1121.33M1891.84 1121.33L1900.24 1112.92M1909.39 1112.92L1917.79 1121.33M1909.39 1121.33L1917.79 1112.92M1926.95 1112.92L1935.35 1121.33M1926.95 1121.33L1935.35 1112.92M1962.06 1112.92L1970.46 1121.33M1962.06 1121.33L1970.46 1112.92M1979.61 1112.92L1988.01 1121.33M1979.61 1121.33L1988.01 1112.92M1997.17 1112.92L2005.57 1121.33M1997.17 1121.33L2005.57 1112.92M2014.72 1112.92L2023.12 1121.33M2014.72 1121.33L2023.12 1112.92M2032.28 1112.92L2040.68 1121.33M2032.28 1121.33L2040.68 1112.92M2049.83 1112.92L2058.23 1121.33M2049.83 1121.33L2058.23 1112.92M2067.39 1112.92L2075.79 1121.33M2067.39 1121.33L2075.79 1112.92" stroke="#000" stroke-width="1.05" fill="none"/>
<path d="M1676.6 949.15V1127.15M1694.15 949.15V1127.15M1711.71 949.15V1127.15M1729.26 949.15V1127.15M1746.82 949.15V1127.15M1764.38 949.15V1127.15M1781.93 949.15V1127.15M1799.48 949.15V1127.15M1817.04 949.15V1127.15M1834.59 949.15V1127.15M1852.15 949.15V1127.15M1869.7 949.15V1127.15M1887.26 949.15V1127.15M1904.81 949.15V1127.15M1922.37 949.15V1127.15M1939.92 949.15V1127.15M1957.48 949.15V1127.15M1975.03 949.15V1127.15M1992.59 949.15V1127.15M2010.14 949.15V1127.15M2027.7 949.15V1127.15M2045.25 949.15V1127.15M2062.81 949.15V1127.15M2080.36 949.15V1127.15M1675.35 950.4H2081.61M1675.35 967.95H2081.61M1675.35 985.5H2081.61M1675.35 1003.05H2081.61M1675.35 1020.6H2081.61M1675.35 1038.15H2081.61M1675.35 1055.7H2081.61M1675.35 1073.25H2081.61M1675.35 1090.8H2081.61M1675.35 1108.35H2081.61M1675.35 1125.9H2081.61" stroke="#000" stroke-width="2.5" fill="none"/>
<text x="1878.48" y="941.9" text-anchor="middle" font-size="31.5" fill="#000">(p) Benguela</text>
<text x="1664.5" y="957.6" text-anchor="end" font-size="29" fill="#262626">16S</text>
<text x="1664.5" y="1133.1" text-anchor="end" font-size="29" fill="#262626">35S</text>
<text x="1679.78" y="1159.2" text-anchor="middle" font-size="29" fill="#262626">1</text>
<text x="1751" y="1159.2" text-anchor="middle" font-size="29" fill="#262626">5</text>
<text x="1843.97" y="1159.2" text-anchor="middle" font-size="29" fill="#262626">10</text>
<text x="1932.35" y="1159.2" text-anchor="middle" font-size="29" fill="#262626">15</text>
<text x="2019.02" y="1159.2" text-anchor="middle" font-size="29" fill="#262626">20</text>
<text x="1878.48" y="1192" text-anchor="middle" font-size="31.9" fill="#262626">Model index</text>
<g shape-rendering="crispEdges"><rect x="1675.7" y="1210.5" width="6.94" height="27" fill="#0000ff"/><rect x="1682.04" y="1210.5" width="6.94" height="27" fill="#0808ff"/><rect x="1688.39" y="1210.5" width="6.94" height="27" fill="#1010ff"/><rect x="1694.73" y="1210.5" width="6.94" height="27" fill="#1919ff"/><rect x="1701.07" y="1210.5" width="6.94" height="27" fill="#2121ff"/><rect x="1707.42" y="1210.5" width="6.94" height="27" fill="#2929ff"/><rect x="1713.76" y="1210.5" width="6.94" height="27" fill="#3131ff"/><rect x="1720.1" y="1210.5" width="6.94" height="27" fill="#3a3aff"/><rect x="1726.45" y="1210.5" width="6.94" height="27" fill="#4242ff"/><rect x="1732.79" y="1210.5" width="6.94" height="27" fill="#4a4aff"/><rect x="1739.13" y="1210.5" width="6.94" height="27" fill="#5252ff"/><rect x="1745.48" y="1210.5" width="6.94" height="27" fill="#5a5aff"/><rect x="1751.82" y="1210.5" width="6.94" height="27" fill="#6363ff"/><rect x="1758.16" y="1210.5" width="6.94" height="27" fill="#6b6bff"/><rect x="1764.5" y="1210.5" width="6.94" height="27" fill="#7373ff"/><rect x="1770.85" y="1210.5" width="6.94" height="27" fill="#7b7bff"/><rect x="1777.19" y="1210.5" width="6.94" height="27" fill="#8484ff"/><rect x="1783.53" y="1210.5" width="6.94" height="27" fill="#8c8cff"/><rect x="1789.88" y="1210.5" width="6.94" height="27" fill="#9494ff"/><rect x="1796.22" y="1210.5" width="6.94" height="27" fill="#9c9cff"/><rect x="1802.56" y="1210.5" width="6.94" height="27" fill="#a5a5ff"/><rect x="1808.91" y="1210.5" width="6.94" height="27" fill="#adadff"/><rect x="1815.25" y="1210.5" width="6.94" height="27" fill="#b5b5ff"/><rect x="1821.59" y="1210.5" width="6.94" height="27" fill="#bdbdff"/><rect x="1827.94" y="1210.5" width="6.94" height="27" fill="#c5c5ff"/><rect x="1834.28" y="1210.5" width="6.94" height="27" fill="#ceceff"/><rect x="1840.62" y="1210.5" width="6.94" height="27" fill="#d6d6ff"/><rect x="1846.97" y="1210.5" width="6.94" height="27" fill="#dedeff"/><rect x="1853.31" y="1210.5" width="6.94" height="27" fill="#e6e6ff"/><rect x="1859.65" y="1210.5" width="6.94" height="27" fill="#efefff"/><rect x="1866" y="1210.5" width="6.94" height="27" fill="#f7f7ff"/><rect x="1872.34" y="1210.5" width="6.94" height="27" fill="#ffffff"/><rect x="1878.68" y="1210.5" width="6.94" height="27" fill="#ffffff"/><rect x="1885.03" y="1210.5" width="6.94" height="27" fill="#fff7f7"/><rect x="1891.37" y="1210.5" width="6.94" height="27" fill="#ffefef"/><rect x="1897.71" y="1210.5" width="6.94" height="27" fill="#ffe6e6"/><rect x="1904.06" y="1210.5" width="6.94" height="27" fill="#ffdede"/><rect x="1910.4" y="1210.5" width="6.94" height="27" fill="#ffd6d6"/><rect x="1916.74" y="1210.5" width="6.94" height="27" fill="#ffcece"/><rect x="1923.08" y="1210.5" width="6.94" height="27" fill="#ffc5c5"/><rect x="1929.43" y="1210.5" width="6.94" height="27" fill="#ffbdbd"/><rect x="1935.77" y="1210.5" width="6.94" height="27" fill="#ffb5b5"/><rect x="1942.11" y="1210.5" width="6.94" height="27" fill="#ffadad"/><rect x="1948.46" y="1210.5" width="6.94" height="27" fill="#ffa5a5"/><rect x="1954.8" y="1210.5" width="6.94" height="27" fill="#ff9c9c"/><rect x="1961.14" y="1210.5" width="6.94" height="27" fill="#ff9494"/><rect x="1967.49" y="1210.5" width="6.94" height="27" fill="#ff8c8c"/><rect x="1973.83" y="1210.5" width="6.94" height="27" fill="#ff8484"/><rect x="1980.17" y="1210.5" width="6.94" height="27" fill="#ff7b7b"/><rect x="1986.52" y="1210.5" width="6.94" height="27" fill="#ff7373"/><rect x="1992.86" y="1210.5" width="6.94" height="27" fill="#ff6b6b"/><rect x="1999.2" y="1210.5" width="6.94" height="27" fill="#ff6363"/><rect x="2005.55" y="1210.5" width="6.94" height="27" fill="#ff5a5a"/><rect x="2011.89" y="1210.5" width="6.94" height="27" fill="#ff5252"/><rect x="2018.23" y="1210.5" width="6.94" height="27" fill="#ff4a4a"/><rect x="2024.58" y="1210.5" width="6.94" height="27" fill="#ff4242"/><rect x="2030.92" y="1210.5" width="6.94" height="27" fill="#ff3a3a"/><rect x="2037.26" y="1210.5" width="6.94" height="27" fill="#ff3131"/><rect x="2043.61" y="1210.5" width="6.94" height="27" fill="#ff2929"/><rect x="2049.95" y="1210.5" width="6.94" height="27" fill="#ff2121"/><rect x="2056.29" y="1210.5" width="6.94" height="27" fill="#ff1919"/><rect x="2062.64" y="1210.5" width="6.94" height="27" fill="#ff1010"/><rect x="2068.98" y="1210.5" width="6.94" height="27" fill="#ff0808"/><rect x="2075.32" y="1210.5" width="6.94" height="27" fill="#ff0000"/></g>
<rect x="1675.7" y="1210.5" width="405.96" height="27" fill="none" stroke="#1a1a1a" stroke-width="2.2"/>
<text x="1743.36" y="1269.9" text-anchor="middle" font-size="29" fill="#262626">-0.1</text>
<text x="1878.68" y="1269.9" text-anchor="middle" font-size="29" fill="#262626">0</text>
<text x="2014" y="1269.9" text-anchor="middle" font-size="29" fill="#262626">0.1</text>
<path d="M1743.36 1236.5V1233.2M1878.68 1236.5V1233.2M2014 1236.5V1233.2" stroke="#1a1a1a" stroke-width="1.8"/>
<text x="1878.68" y="1310" text-anchor="middle" font-size="29" fill="#262626">Intensity (m<tspan dy="-13.9" font-size="21.5">2</tspan><tspan dy="13.9"> s</tspan><tspan dy="-13.9" font-size="21.5">-1</tspan><tspan dy="13.9">)</tspan></text>
</svg></body></html>
